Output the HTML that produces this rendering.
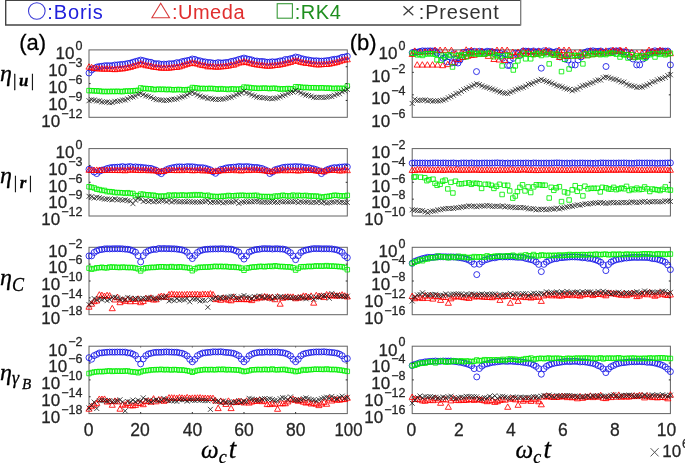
<!DOCTYPE html>
<html><head><meta charset="utf-8"><style>
html,body{margin:0;padding:0;background:#fff;}
svg{display:block;will-change:transform;}
text{font-family:"Liberation Sans",sans-serif;fill:#262626;}
text.t{stroke:#262626;stroke-width:0.28;}
text.m{font-family:"Liberation Serif",serif;font-style:italic;stroke:#000;stroke-width:0.3;}
</style></head><body>
<svg width="685" height="463" viewBox="0 0 685 463">
<rect width="685" height="463" fill="#fff"/>
<path d="M520.7,0.3H5.7V24.95H520.7" fill="none" stroke="#444" stroke-width="1.4"/>
<path d="M520.7,0V25.6" fill="none" stroke="#7a7a7a" stroke-width="1.3"/>
<circle cx="36.8" cy="11" r="8.3" fill="none" stroke="#3b3bd6" stroke-width="1.1"/>
<path d="M160.7,3.3L169.5,17.8H151.9Z" fill="none" stroke="#d83a3a" stroke-width="1.1"/>
<rect x="277.2" y="3.7" width="15.2" height="14.5" fill="none" stroke="#3a9a3a" stroke-width="1.1"/>
<path d="M403.5,6.3L413.3,15.3M413.3,6.3L403.5,15.3" fill="none" stroke="#3a3a3a" stroke-width="1.2"/>
<text x="47.3" y="18.6" font-size="20" style="fill:#2020dc" textLength="55.5" lengthAdjust="spacing">:Boris</text>
<text x="171.9" y="18.6" font-size="20" style="fill:#e02e2e" textLength="72.6" lengthAdjust="spacing">:Umeda</text>
<text x="294.8" y="18.6" font-size="20" style="fill:#1f8f1f" textLength="46.0" lengthAdjust="spacing">:RK4</text>
<text x="418.8" y="18.6" font-size="20" style="fill:#333" textLength="80.0" lengthAdjust="spacing">:Present</text>
<rect x="89" y="49.9" width="258.3" height="67.4" fill="none" stroke="#626262" stroke-width="1"/>
<rect x="89" y="148.6" width="258.3" height="67.4" fill="none" stroke="#626262" stroke-width="1"/>
<rect x="89" y="247.3" width="258.3" height="67.4" fill="none" stroke="#626262" stroke-width="1"/>
<rect x="89" y="346.2" width="258.3" height="67.4" fill="none" stroke="#626262" stroke-width="1"/>
<rect x="412.2" y="49.9" width="258.2" height="67.4" fill="none" stroke="#626262" stroke-width="1"/>
<rect x="412.2" y="148.6" width="258.2" height="67.4" fill="none" stroke="#626262" stroke-width="1"/>
<rect x="412.2" y="247.3" width="258.2" height="67.4" fill="none" stroke="#626262" stroke-width="1"/>
<rect x="412.2" y="346.2" width="258.2" height="67.4" fill="none" stroke="#626262" stroke-width="1"/>
<path d="M86,72.98a3,3 0 1 0 6 0a3,3 0 1 0 -6 0M88.58,70.01a3,3 0 1 0 6 0a3,3 0 1 0 -6 0M91.17,68.4a3,3 0 1 0 6 0a3,3 0 1 0 -6 0M93.75,67.1a3,3 0 1 0 6 0a3,3 0 1 0 -6 0M96.33,66.49a3,3 0 1 0 6 0a3,3 0 1 0 -6 0M98.91,66.24a3,3 0 1 0 6 0a3,3 0 1 0 -6 0M101.5,65.77a3,3 0 1 0 6 0a3,3 0 1 0 -6 0M104.08,65.65a3,3 0 1 0 6 0a3,3 0 1 0 -6 0M106.66,65.74a3,3 0 1 0 6 0a3,3 0 1 0 -6 0M109.25,65.67a3,3 0 1 0 6 0a3,3 0 1 0 -6 0M111.83,64.99a3,3 0 1 0 6 0a3,3 0 1 0 -6 0M114.41,64.95a3,3 0 1 0 6 0a3,3 0 1 0 -6 0M117,64.6a3,3 0 1 0 6 0a3,3 0 1 0 -6 0M119.58,64.4a3,3 0 1 0 6 0a3,3 0 1 0 -6 0M122.16,64.13a3,3 0 1 0 6 0a3,3 0 1 0 -6 0M124.75,63.51a3,3 0 1 0 6 0a3,3 0 1 0 -6 0M127.33,63.15a3,3 0 1 0 6 0a3,3 0 1 0 -6 0M129.91,62.27a3,3 0 1 0 6 0a3,3 0 1 0 -6 0M132.49,61.48a3,3 0 1 0 6 0a3,3 0 1 0 -6 0M135.08,60.85a3,3 0 1 0 6 0a3,3 0 1 0 -6 0M137.66,60.07a3,3 0 1 0 6 0a3,3 0 1 0 -6 0M140.24,60.63a3,3 0 1 0 6 0a3,3 0 1 0 -6 0M142.83,61.37a3,3 0 1 0 6 0a3,3 0 1 0 -6 0M145.41,62.03a3,3 0 1 0 6 0a3,3 0 1 0 -6 0M147.99,62.27a3,3 0 1 0 6 0a3,3 0 1 0 -6 0M150.57,63.47a3,3 0 1 0 6 0a3,3 0 1 0 -6 0M153.16,63.77a3,3 0 1 0 6 0a3,3 0 1 0 -6 0M155.74,63.72a3,3 0 1 0 6 0a3,3 0 1 0 -6 0M158.32,64.45a3,3 0 1 0 6 0a3,3 0 1 0 -6 0M160.91,64.1a3,3 0 1 0 6 0a3,3 0 1 0 -6 0M163.49,64.34a3,3 0 1 0 6 0a3,3 0 1 0 -6 0M166.07,63.75a3,3 0 1 0 6 0a3,3 0 1 0 -6 0M168.66,63.82a3,3 0 1 0 6 0a3,3 0 1 0 -6 0M171.24,63.54a3,3 0 1 0 6 0a3,3 0 1 0 -6 0M173.82,62.68a3,3 0 1 0 6 0a3,3 0 1 0 -6 0M176.41,62.75a3,3 0 1 0 6 0a3,3 0 1 0 -6 0M178.99,61.66a3,3 0 1 0 6 0a3,3 0 1 0 -6 0M181.57,61.14a3,3 0 1 0 6 0a3,3 0 1 0 -6 0M184.15,60.62a3,3 0 1 0 6 0a3,3 0 1 0 -6 0M186.74,60.1a3,3 0 1 0 6 0a3,3 0 1 0 -6 0M189.32,59.01a3,3 0 1 0 6 0a3,3 0 1 0 -6 0M191.9,59.39a3,3 0 1 0 6 0a3,3 0 1 0 -6 0M194.49,60.44a3,3 0 1 0 6 0a3,3 0 1 0 -6 0M197.07,60.86a3,3 0 1 0 6 0a3,3 0 1 0 -6 0M199.65,61.64a3,3 0 1 0 6 0a3,3 0 1 0 -6 0M202.24,61.93a3,3 0 1 0 6 0a3,3 0 1 0 -6 0M204.82,62.52a3,3 0 1 0 6 0a3,3 0 1 0 -6 0M207.4,62.52a3,3 0 1 0 6 0a3,3 0 1 0 -6 0M209.98,63.08a3,3 0 1 0 6 0a3,3 0 1 0 -6 0M212.57,63.34a3,3 0 1 0 6 0a3,3 0 1 0 -6 0M215.15,62.6a3,3 0 1 0 6 0a3,3 0 1 0 -6 0M217.73,62.94a3,3 0 1 0 6 0a3,3 0 1 0 -6 0M220.32,62.9a3,3 0 1 0 6 0a3,3 0 1 0 -6 0M222.9,62.49a3,3 0 1 0 6 0a3,3 0 1 0 -6 0M225.48,62.42a3,3 0 1 0 6 0a3,3 0 1 0 -6 0M228.06,61.49a3,3 0 1 0 6 0a3,3 0 1 0 -6 0M230.65,61.03a3,3 0 1 0 6 0a3,3 0 1 0 -6 0M233.23,60.41a3,3 0 1 0 6 0a3,3 0 1 0 -6 0M235.81,59.48a3,3 0 1 0 6 0a3,3 0 1 0 -6 0M238.4,58.83a3,3 0 1 0 6 0a3,3 0 1 0 -6 0M240.98,58.07a3,3 0 1 0 6 0a3,3 0 1 0 -6 0M243.56,58.81a3,3 0 1 0 6 0a3,3 0 1 0 -6 0M246.15,59.37a3,3 0 1 0 6 0a3,3 0 1 0 -6 0M248.73,59.91a3,3 0 1 0 6 0a3,3 0 1 0 -6 0M251.31,60.99a3,3 0 1 0 6 0a3,3 0 1 0 -6 0M253.89,61.02a3,3 0 1 0 6 0a3,3 0 1 0 -6 0M256.48,61.52a3,3 0 1 0 6 0a3,3 0 1 0 -6 0M259.06,61.43a3,3 0 1 0 6 0a3,3 0 1 0 -6 0M261.64,61.78a3,3 0 1 0 6 0a3,3 0 1 0 -6 0M264.23,62.32a3,3 0 1 0 6 0a3,3 0 1 0 -6 0M266.81,62.12a3,3 0 1 0 6 0a3,3 0 1 0 -6 0M269.39,61.77a3,3 0 1 0 6 0a3,3 0 1 0 -6 0M271.98,62.04a3,3 0 1 0 6 0a3,3 0 1 0 -6 0M274.56,61.57a3,3 0 1 0 6 0a3,3 0 1 0 -6 0M277.14,60.91a3,3 0 1 0 6 0a3,3 0 1 0 -6 0M279.73,60.78a3,3 0 1 0 6 0a3,3 0 1 0 -6 0M282.31,59.51a3,3 0 1 0 6 0a3,3 0 1 0 -6 0M284.89,59.53a3,3 0 1 0 6 0a3,3 0 1 0 -6 0M287.47,58.69a3,3 0 1 0 6 0a3,3 0 1 0 -6 0M290.06,58.18a3,3 0 1 0 6 0a3,3 0 1 0 -6 0M292.64,57.02a3,3 0 1 0 6 0a3,3 0 1 0 -6 0M295.22,57.51a3,3 0 1 0 6 0a3,3 0 1 0 -6 0M297.81,58.5a3,3 0 1 0 6 0a3,3 0 1 0 -6 0M300.39,59.05a3,3 0 1 0 6 0a3,3 0 1 0 -6 0M302.97,59.69a3,3 0 1 0 6 0a3,3 0 1 0 -6 0M305.56,60a3,3 0 1 0 6 0a3,3 0 1 0 -6 0M308.14,60.53a3,3 0 1 0 6 0a3,3 0 1 0 -6 0M310.72,60.9a3,3 0 1 0 6 0a3,3 0 1 0 -6 0M313.3,60.74a3,3 0 1 0 6 0a3,3 0 1 0 -6 0M315.89,61.04a3,3 0 1 0 6 0a3,3 0 1 0 -6 0M318.47,61.12a3,3 0 1 0 6 0a3,3 0 1 0 -6 0M321.05,60.99a3,3 0 1 0 6 0a3,3 0 1 0 -6 0M323.64,60.65a3,3 0 1 0 6 0a3,3 0 1 0 -6 0M326.22,60.46a3,3 0 1 0 6 0a3,3 0 1 0 -6 0M328.8,59.76a3,3 0 1 0 6 0a3,3 0 1 0 -6 0M331.38,59.31a3,3 0 1 0 6 0a3,3 0 1 0 -6 0M333.97,59.14a3,3 0 1 0 6 0a3,3 0 1 0 -6 0M336.55,58.43a3,3 0 1 0 6 0a3,3 0 1 0 -6 0M339.13,57.3a3,3 0 1 0 6 0a3,3 0 1 0 -6 0M341.72,57.05a3,3 0 1 0 6 0a3,3 0 1 0 -6 0M344.3,56.3a3,3 0 1 0 6 0a3,3 0 1 0 -6 0" fill="none" stroke="#1414e6" stroke-width="0.85"/>
<path d="M89,63.74l3.05,5.4h-6.1zM91.58,64.27l3.05,5.4h-6.1zM94.17,65.11l3.05,5.4h-6.1zM96.75,65.33l3.05,5.4h-6.1zM99.33,65.63l3.05,5.4h-6.1zM101.91,65.58l3.05,5.4h-6.1zM104.5,65.84l3.05,5.4h-6.1zM107.08,65.74l3.05,5.4h-6.1zM109.66,65.7l3.05,5.4h-6.1zM112.25,66l3.05,5.4h-6.1zM114.83,66.28l3.05,5.4h-6.1zM117.41,65.9l3.05,5.4h-6.1zM120,65.56l3.05,5.4h-6.1zM122.58,65.58l3.05,5.4h-6.1zM125.16,65.02l3.05,5.4h-6.1zM127.75,64.48l3.05,5.4h-6.1zM130.33,64.01l3.05,5.4h-6.1zM132.91,63.08l3.05,5.4h-6.1zM135.49,62.4l3.05,5.4h-6.1zM138.08,61.65l3.05,5.4h-6.1zM140.66,60.59l3.05,5.4h-6.1zM143.24,61.33l3.05,5.4h-6.1zM145.83,62.31l3.05,5.4h-6.1zM148.41,62.6l3.05,5.4h-6.1zM150.99,63.01l3.05,5.4h-6.1zM153.57,63.85l3.05,5.4h-6.1zM156.16,64.09l3.05,5.4h-6.1zM158.74,64.4l3.05,5.4h-6.1zM161.32,64.89l3.05,5.4h-6.1zM163.91,64.66l3.05,5.4h-6.1zM166.49,64.9l3.05,5.4h-6.1zM169.07,64.76l3.05,5.4h-6.1zM171.66,64.52l3.05,5.4h-6.1zM174.24,64.01l3.05,5.4h-6.1zM176.82,64.01l3.05,5.4h-6.1zM179.41,63.55l3.05,5.4h-6.1zM181.99,62.67l3.05,5.4h-6.1zM184.57,61.82l3.05,5.4h-6.1zM187.15,60.96l3.05,5.4h-6.1zM189.74,60.21l3.05,5.4h-6.1zM192.32,59.6l3.05,5.4h-6.1zM194.9,60.23l3.05,5.4h-6.1zM197.49,60.69l3.05,5.4h-6.1zM200.07,61.55l3.05,5.4h-6.1zM202.65,62.19l3.05,5.4h-6.1zM205.24,62.4l3.05,5.4h-6.1zM207.82,63.46l3.05,5.4h-6.1zM210.4,63.3l3.05,5.4h-6.1zM212.98,63.4l3.05,5.4h-6.1zM215.57,63.82l3.05,5.4h-6.1zM218.15,63.75l3.05,5.4h-6.1zM220.73,63.56l3.05,5.4h-6.1zM223.32,63.35l3.05,5.4h-6.1zM225.9,62.98l3.05,5.4h-6.1zM228.48,62.7l3.05,5.4h-6.1zM231.06,61.83l3.05,5.4h-6.1zM233.65,61.8l3.05,5.4h-6.1zM236.23,60.69l3.05,5.4h-6.1zM238.81,59.62l3.05,5.4h-6.1zM241.4,59.36l3.05,5.4h-6.1zM243.98,58.48l3.05,5.4h-6.1zM246.56,59.11l3.05,5.4h-6.1zM249.15,59.71l3.05,5.4h-6.1zM251.73,60.44l3.05,5.4h-6.1zM254.31,61.07l3.05,5.4h-6.1zM256.89,61.57l3.05,5.4h-6.1zM259.48,61.81l3.05,5.4h-6.1zM262.06,62.24l3.05,5.4h-6.1zM264.64,62.52l3.05,5.4h-6.1zM267.23,62.8l3.05,5.4h-6.1zM269.81,62.78l3.05,5.4h-6.1zM272.39,62.56l3.05,5.4h-6.1zM274.98,62.1l3.05,5.4h-6.1zM277.56,61.9l3.05,5.4h-6.1zM280.14,61.53l3.05,5.4h-6.1zM282.73,61.02l3.05,5.4h-6.1zM285.31,60.37l3.05,5.4h-6.1zM287.89,59.67l3.05,5.4h-6.1zM290.47,59.1l3.05,5.4h-6.1zM293.06,57.71l3.05,5.4h-6.1zM295.64,57.68l3.05,5.4h-6.1zM298.22,57.86l3.05,5.4h-6.1zM300.81,59l3.05,5.4h-6.1zM303.39,59.46l3.05,5.4h-6.1zM305.97,59.97l3.05,5.4h-6.1zM308.56,60.08l3.05,5.4h-6.1zM311.14,60.7l3.05,5.4h-6.1zM313.72,60.92l3.05,5.4h-6.1zM316.3,61.49l3.05,5.4h-6.1zM318.89,61.49l3.05,5.4h-6.1zM321.47,61.36l3.05,5.4h-6.1zM324.05,61.1l3.05,5.4h-6.1zM326.64,61.07l3.05,5.4h-6.1zM329.22,60.8l3.05,5.4h-6.1zM331.8,60.21l3.05,5.4h-6.1zM334.38,59.74l3.05,5.4h-6.1zM336.97,59.17l3.05,5.4h-6.1zM339.55,58.24l3.05,5.4h-6.1zM342.13,57.36l3.05,5.4h-6.1zM344.72,56.69l3.05,5.4h-6.1zM347.3,56.39l3.05,5.4h-6.1z" fill="none" stroke="#ff0000" stroke-width="0.85"/>
<path d="M86.75,88.33h4.5v4.5h-4.5zM89.33,88.45h4.5v4.5h-4.5zM91.92,88.55h4.5v4.5h-4.5zM94.5,88.75h4.5v4.5h-4.5zM97.08,88.71h4.5v4.5h-4.5zM99.66,89.28h4.5v4.5h-4.5zM102.25,89.21h4.5v4.5h-4.5zM104.83,89.27h4.5v4.5h-4.5zM107.41,89.22h4.5v4.5h-4.5zM110,89.17h4.5v4.5h-4.5zM112.58,89.22h4.5v4.5h-4.5zM115.16,89.07h4.5v4.5h-4.5zM117.75,89.25h4.5v4.5h-4.5zM120.33,89.38h4.5v4.5h-4.5zM122.91,88.8h4.5v4.5h-4.5zM125.5,88.86h4.5v4.5h-4.5zM128.08,88.78h4.5v4.5h-4.5zM130.66,88.56h4.5v4.5h-4.5zM133.24,88.39h4.5v4.5h-4.5zM135.83,88.14h4.5v4.5h-4.5zM138.41,85.67h4.5v4.5h-4.5zM140.99,86.22h4.5v4.5h-4.5zM143.58,86.28h4.5v4.5h-4.5zM146.16,86.57h4.5v4.5h-4.5zM148.74,86.56h4.5v4.5h-4.5zM151.32,87.31h4.5v4.5h-4.5zM153.91,87.26h4.5v4.5h-4.5zM156.49,86.88h4.5v4.5h-4.5zM159.07,87.21h4.5v4.5h-4.5zM161.66,86.93h4.5v4.5h-4.5zM164.24,87.4h4.5v4.5h-4.5zM166.82,87.07h4.5v4.5h-4.5zM169.41,87.41h4.5v4.5h-4.5zM171.99,87.54h4.5v4.5h-4.5zM174.57,87.31h4.5v4.5h-4.5zM177.16,87.28h4.5v4.5h-4.5zM179.74,87.44h4.5v4.5h-4.5zM182.32,87.66h4.5v4.5h-4.5zM184.9,87.37h4.5v4.5h-4.5zM187.49,87.08h4.5v4.5h-4.5zM190.07,85.28h4.5v4.5h-4.5zM192.65,85.56h4.5v4.5h-4.5zM195.24,85.75h4.5v4.5h-4.5zM197.82,86.46h4.5v4.5h-4.5zM200.4,86.11h4.5v4.5h-4.5zM202.99,86.42h4.5v4.5h-4.5zM205.57,86.25h4.5v4.5h-4.5zM208.15,86.2h4.5v4.5h-4.5zM210.73,86.29h4.5v4.5h-4.5zM213.32,86.53h4.5v4.5h-4.5zM215.9,86.99h4.5v4.5h-4.5zM218.48,86.42h4.5v4.5h-4.5zM221.07,86.83h4.5v4.5h-4.5zM223.65,86.86h4.5v4.5h-4.5zM226.23,87.23h4.5v4.5h-4.5zM228.81,86.64h4.5v4.5h-4.5zM231.4,86.75h4.5v4.5h-4.5zM233.98,87.04h4.5v4.5h-4.5zM236.56,86.82h4.5v4.5h-4.5zM239.15,86.71h4.5v4.5h-4.5zM241.73,84.85h4.5v4.5h-4.5zM244.31,85.11h4.5v4.5h-4.5zM246.9,85.17h4.5v4.5h-4.5zM249.48,85.71h4.5v4.5h-4.5zM252.06,85.8h4.5v4.5h-4.5zM254.64,86.08h4.5v4.5h-4.5zM257.23,86.12h4.5v4.5h-4.5zM259.81,85.99h4.5v4.5h-4.5zM262.39,85.86h4.5v4.5h-4.5zM264.98,86.07h4.5v4.5h-4.5zM267.56,86.34h4.5v4.5h-4.5zM270.14,86.04h4.5v4.5h-4.5zM272.73,86.03h4.5v4.5h-4.5zM275.31,86.35h4.5v4.5h-4.5zM277.89,86.88h4.5v4.5h-4.5zM280.48,86.5h4.5v4.5h-4.5zM283.06,86.69h4.5v4.5h-4.5zM285.64,86.27h4.5v4.5h-4.5zM288.22,86.54h4.5v4.5h-4.5zM290.81,86.73h4.5v4.5h-4.5zM293.39,84.49h4.5v4.5h-4.5zM295.97,84.61h4.5v4.5h-4.5zM298.56,84.87h4.5v4.5h-4.5zM301.14,85.28h4.5v4.5h-4.5zM303.72,85.2h4.5v4.5h-4.5zM306.31,85.44h4.5v4.5h-4.5zM308.89,85.52h4.5v4.5h-4.5zM311.47,85.44h4.5v4.5h-4.5zM314.05,85.65h4.5v4.5h-4.5zM316.64,85.74h4.5v4.5h-4.5zM319.22,85.49h4.5v4.5h-4.5zM321.8,85.73h4.5v4.5h-4.5zM324.39,85.95h4.5v4.5h-4.5zM326.97,85.77h4.5v4.5h-4.5zM329.55,86.16h4.5v4.5h-4.5zM332.13,86.19h4.5v4.5h-4.5zM334.72,85.95h4.5v4.5h-4.5zM337.3,86.17h4.5v4.5h-4.5zM339.88,86.07h4.5v4.5h-4.5zM342.47,86.21h4.5v4.5h-4.5zM345.05,83.77h4.5v4.5h-4.5z" fill="none" stroke="#00ee00" stroke-width="0.85"/>
<path d="M86.5,98.22l5,5m0,-5l-5,5M89.08,97.21l5,5m0,-5l-5,5M91.67,97.51l5,5m0,-5l-5,5M94.25,98.44l5,5m0,-5l-5,5M96.83,98.34l5,5m0,-5l-5,5M99.41,99.45l5,5m0,-5l-5,5M102,99.48l5,5m0,-5l-5,5M104.58,99.47l5,5m0,-5l-5,5M107.16,100.2l5,5m0,-5l-5,5M109.75,100.06l5,5m0,-5l-5,5M112.33,98.79l5,5m0,-5l-5,5M114.91,98.89l5,5m0,-5l-5,5M117.5,98.32l5,5m0,-5l-5,5M120.08,97.5l5,5m0,-5l-5,5M122.66,97.47l5,5m0,-5l-5,5M125.25,96.38l5,5m0,-5l-5,5M127.83,94.94l5,5m0,-5l-5,5M130.41,94.42l5,5m0,-5l-5,5M132.99,93.57l5,5m0,-5l-5,5M135.58,91.87l5,5m0,-5l-5,5M138.16,91.06l5,5m0,-5l-5,5M140.74,92.27l5,5m0,-5l-5,5M143.33,93.29l5,5m0,-5l-5,5M145.91,93.85l5,5m0,-5l-5,5M148.49,94.73l5,5m0,-5l-5,5M151.07,96.02l5,5m0,-5l-5,5M153.66,97.1l5,5m0,-5l-5,5M156.24,97.25l5,5m0,-5l-5,5M158.82,97.48l5,5m0,-5l-5,5M161.41,98.06l5,5m0,-5l-5,5M163.99,97.94l5,5m0,-5l-5,5M166.57,97.5l5,5m0,-5l-5,5M169.16,96.86l5,5m0,-5l-5,5M171.74,96.77l5,5m0,-5l-5,5M174.32,96.47l5,5m0,-5l-5,5M176.91,95.31l5,5m0,-5l-5,5M179.49,94.36l5,5m0,-5l-5,5M182.07,93.72l5,5m0,-5l-5,5M184.65,92.42l5,5m0,-5l-5,5M187.24,90.9l5,5m0,-5l-5,5M189.82,89.75l5,5m0,-5l-5,5M192.4,90.9l5,5m0,-5l-5,5M194.99,92.42l5,5m0,-5l-5,5M197.57,93.55l5,5m0,-5l-5,5M200.15,94.56l5,5m0,-5l-5,5M202.74,94.69l5,5m0,-5l-5,5M205.32,96.06l5,5m0,-5l-5,5M207.9,95.71l5,5m0,-5l-5,5M210.48,96.44l5,5m0,-5l-5,5M213.07,96.98l5,5m0,-5l-5,5M215.65,96.82l5,5m0,-5l-5,5M218.23,96.79l5,5m0,-5l-5,5M220.82,96.53l5,5m0,-5l-5,5M223.4,96.02l5,5m0,-5l-5,5M225.98,95.14l5,5m0,-5l-5,5M228.56,94.75l5,5m0,-5l-5,5M231.15,93.57l5,5m0,-5l-5,5M233.73,92.2l5,5m0,-5l-5,5M236.31,91.39l5,5m0,-5l-5,5M238.9,90.41l5,5m0,-5l-5,5M241.48,88.64l5,5m0,-5l-5,5M244.06,90.32l5,5m0,-5l-5,5M246.65,91.04l5,5m0,-5l-5,5M249.23,92.42l5,5m0,-5l-5,5M251.81,93.33l5,5m0,-5l-5,5M254.39,94.52l5,5m0,-5l-5,5M256.98,94.92l5,5m0,-5l-5,5M259.56,95.15l5,5m0,-5l-5,5M262.14,95.29l5,5m0,-5l-5,5M264.73,96.01l5,5m0,-5l-5,5M267.31,95.87l5,5m0,-5l-5,5M269.89,96.29l5,5m0,-5l-5,5M272.48,95.74l5,5m0,-5l-5,5M275.06,95.34l5,5m0,-5l-5,5M277.64,94.4l5,5m0,-5l-5,5M280.23,93.22l5,5m0,-5l-5,5M282.81,92.42l5,5m0,-5l-5,5M285.39,91.05l5,5m0,-5l-5,5M287.97,89.98l5,5m0,-5l-5,5M290.56,89.53l5,5m0,-5l-5,5M293.14,88.01l5,5m0,-5l-5,5M295.72,89.15l5,5m0,-5l-5,5M298.31,90.33l5,5m0,-5l-5,5M300.89,91.55l5,5m0,-5l-5,5M303.47,92.49l5,5m0,-5l-5,5M306.06,92.98l5,5m0,-5l-5,5M308.64,93.66l5,5m0,-5l-5,5M311.22,94.77l5,5m0,-5l-5,5M313.8,95.07l5,5m0,-5l-5,5M316.39,94.86l5,5m0,-5l-5,5M318.97,94.76l5,5m0,-5l-5,5M321.55,95.06l5,5m0,-5l-5,5M324.14,94.77l5,5m0,-5l-5,5M326.72,94.05l5,5m0,-5l-5,5M329.3,94.04l5,5m0,-5l-5,5M331.88,92.72l5,5m0,-5l-5,5M334.47,91.66l5,5m0,-5l-5,5M337.05,91.26l5,5m0,-5l-5,5M339.63,89.26l5,5m0,-5l-5,5M342.22,88.38l5,5m0,-5l-5,5M344.8,86.89l5,5m0,-5l-5,5" fill="none" stroke="#1a1a1a" stroke-width="0.8"/>
<path d="M86,169.34a3,3 0 1 0 6 0a3,3 0 1 0 -6 0M88.58,169.95a3,3 0 1 0 6 0a3,3 0 1 0 -6 0M91.17,172a3,3 0 1 0 6 0a3,3 0 1 0 -6 0M93.75,173.57a3,3 0 1 0 6 0a3,3 0 1 0 -6 0M96.33,171.23a3,3 0 1 0 6 0a3,3 0 1 0 -6 0M98.91,170.15a3,3 0 1 0 6 0a3,3 0 1 0 -6 0M101.5,169.58a3,3 0 1 0 6 0a3,3 0 1 0 -6 0M104.08,168.55a3,3 0 1 0 6 0a3,3 0 1 0 -6 0M106.66,167.91a3,3 0 1 0 6 0a3,3 0 1 0 -6 0M109.25,167.45a3,3 0 1 0 6 0a3,3 0 1 0 -6 0M111.83,167.3a3,3 0 1 0 6 0a3,3 0 1 0 -6 0M114.41,167.18a3,3 0 1 0 6 0a3,3 0 1 0 -6 0M117,167.02a3,3 0 1 0 6 0a3,3 0 1 0 -6 0M119.58,166.58a3,3 0 1 0 6 0a3,3 0 1 0 -6 0M122.16,167.19a3,3 0 1 0 6 0a3,3 0 1 0 -6 0M124.75,166.85a3,3 0 1 0 6 0a3,3 0 1 0 -6 0M127.33,166.52a3,3 0 1 0 6 0a3,3 0 1 0 -6 0M129.91,167.22a3,3 0 1 0 6 0a3,3 0 1 0 -6 0M132.49,166.86a3,3 0 1 0 6 0a3,3 0 1 0 -6 0M135.08,167.18a3,3 0 1 0 6 0a3,3 0 1 0 -6 0M137.66,167.3a3,3 0 1 0 6 0a3,3 0 1 0 -6 0M140.24,167.64a3,3 0 1 0 6 0a3,3 0 1 0 -6 0M142.83,167.87a3,3 0 1 0 6 0a3,3 0 1 0 -6 0M145.41,168.19a3,3 0 1 0 6 0a3,3 0 1 0 -6 0M147.99,168.39a3,3 0 1 0 6 0a3,3 0 1 0 -6 0M150.57,169.36a3,3 0 1 0 6 0a3,3 0 1 0 -6 0M153.16,170.22a3,3 0 1 0 6 0a3,3 0 1 0 -6 0M155.74,172.08a3,3 0 1 0 6 0a3,3 0 1 0 -6 0M158.32,173.64a3,3 0 1 0 6 0a3,3 0 1 0 -6 0M160.91,171.21a3,3 0 1 0 6 0a3,3 0 1 0 -6 0M163.49,169.73a3,3 0 1 0 6 0a3,3 0 1 0 -6 0M166.07,168.68a3,3 0 1 0 6 0a3,3 0 1 0 -6 0M168.66,168.03a3,3 0 1 0 6 0a3,3 0 1 0 -6 0M171.24,167.46a3,3 0 1 0 6 0a3,3 0 1 0 -6 0M173.82,166.98a3,3 0 1 0 6 0a3,3 0 1 0 -6 0M176.41,166.85a3,3 0 1 0 6 0a3,3 0 1 0 -6 0M178.99,166.94a3,3 0 1 0 6 0a3,3 0 1 0 -6 0M181.57,167.16a3,3 0 1 0 6 0a3,3 0 1 0 -6 0M184.15,166.61a3,3 0 1 0 6 0a3,3 0 1 0 -6 0M186.74,166.79a3,3 0 1 0 6 0a3,3 0 1 0 -6 0M189.32,166.77a3,3 0 1 0 6 0a3,3 0 1 0 -6 0M191.9,167.08a3,3 0 1 0 6 0a3,3 0 1 0 -6 0M194.49,167.55a3,3 0 1 0 6 0a3,3 0 1 0 -6 0M197.07,167.72a3,3 0 1 0 6 0a3,3 0 1 0 -6 0M199.65,167.73a3,3 0 1 0 6 0a3,3 0 1 0 -6 0M202.24,168.2a3,3 0 1 0 6 0a3,3 0 1 0 -6 0M204.82,169.02a3,3 0 1 0 6 0a3,3 0 1 0 -6 0M207.4,169.89a3,3 0 1 0 6 0a3,3 0 1 0 -6 0M209.98,171.82a3,3 0 1 0 6 0a3,3 0 1 0 -6 0M212.57,173.3a3,3 0 1 0 6 0a3,3 0 1 0 -6 0M215.15,171.1a3,3 0 1 0 6 0a3,3 0 1 0 -6 0M217.73,169.39a3,3 0 1 0 6 0a3,3 0 1 0 -6 0M220.32,169.03a3,3 0 1 0 6 0a3,3 0 1 0 -6 0M222.9,168.04a3,3 0 1 0 6 0a3,3 0 1 0 -6 0M225.48,167.6a3,3 0 1 0 6 0a3,3 0 1 0 -6 0M228.06,167.41a3,3 0 1 0 6 0a3,3 0 1 0 -6 0M230.65,167.13a3,3 0 1 0 6 0a3,3 0 1 0 -6 0M233.23,167.07a3,3 0 1 0 6 0a3,3 0 1 0 -6 0M235.81,166.5a3,3 0 1 0 6 0a3,3 0 1 0 -6 0M238.4,166.76a3,3 0 1 0 6 0a3,3 0 1 0 -6 0M240.98,166.79a3,3 0 1 0 6 0a3,3 0 1 0 -6 0M243.56,166.58a3,3 0 1 0 6 0a3,3 0 1 0 -6 0M246.15,166.82a3,3 0 1 0 6 0a3,3 0 1 0 -6 0M248.73,167.21a3,3 0 1 0 6 0a3,3 0 1 0 -6 0M251.31,167.47a3,3 0 1 0 6 0a3,3 0 1 0 -6 0M253.89,167.42a3,3 0 1 0 6 0a3,3 0 1 0 -6 0M256.48,168a3,3 0 1 0 6 0a3,3 0 1 0 -6 0M259.06,168.51a3,3 0 1 0 6 0a3,3 0 1 0 -6 0M261.64,169.66a3,3 0 1 0 6 0a3,3 0 1 0 -6 0M264.23,170.78a3,3 0 1 0 6 0a3,3 0 1 0 -6 0M266.81,173.51a3,3 0 1 0 6 0a3,3 0 1 0 -6 0M269.39,172.03a3,3 0 1 0 6 0a3,3 0 1 0 -6 0M271.98,169.83a3,3 0 1 0 6 0a3,3 0 1 0 -6 0M274.56,169.02a3,3 0 1 0 6 0a3,3 0 1 0 -6 0M277.14,168.44a3,3 0 1 0 6 0a3,3 0 1 0 -6 0M279.73,167.52a3,3 0 1 0 6 0a3,3 0 1 0 -6 0M282.31,167.2a3,3 0 1 0 6 0a3,3 0 1 0 -6 0M284.89,166.97a3,3 0 1 0 6 0a3,3 0 1 0 -6 0M287.47,166.85a3,3 0 1 0 6 0a3,3 0 1 0 -6 0M290.06,166.85a3,3 0 1 0 6 0a3,3 0 1 0 -6 0M292.64,166.54a3,3 0 1 0 6 0a3,3 0 1 0 -6 0M295.22,166.86a3,3 0 1 0 6 0a3,3 0 1 0 -6 0M297.81,166.77a3,3 0 1 0 6 0a3,3 0 1 0 -6 0M300.39,167.25a3,3 0 1 0 6 0a3,3 0 1 0 -6 0M302.97,167.72a3,3 0 1 0 6 0a3,3 0 1 0 -6 0M305.56,167.59a3,3 0 1 0 6 0a3,3 0 1 0 -6 0M308.14,168.46a3,3 0 1 0 6 0a3,3 0 1 0 -6 0M310.72,168.86a3,3 0 1 0 6 0a3,3 0 1 0 -6 0M313.3,169.63a3,3 0 1 0 6 0a3,3 0 1 0 -6 0M315.89,170.72a3,3 0 1 0 6 0a3,3 0 1 0 -6 0M318.47,173.57a3,3 0 1 0 6 0a3,3 0 1 0 -6 0M321.05,171.44a3,3 0 1 0 6 0a3,3 0 1 0 -6 0M323.64,169.97a3,3 0 1 0 6 0a3,3 0 1 0 -6 0M326.22,169.01a3,3 0 1 0 6 0a3,3 0 1 0 -6 0M328.8,168.19a3,3 0 1 0 6 0a3,3 0 1 0 -6 0M331.38,167.6a3,3 0 1 0 6 0a3,3 0 1 0 -6 0M333.97,167.83a3,3 0 1 0 6 0a3,3 0 1 0 -6 0M336.55,167.14a3,3 0 1 0 6 0a3,3 0 1 0 -6 0M339.13,167.07a3,3 0 1 0 6 0a3,3 0 1 0 -6 0M341.72,166.75a3,3 0 1 0 6 0a3,3 0 1 0 -6 0M344.3,166.88a3,3 0 1 0 6 0a3,3 0 1 0 -6 0" fill="none" stroke="#1414e6" stroke-width="0.85"/>
<path d="M89,166.88l3.05,5.4h-6.1zM91.58,167.13l3.05,5.4h-6.1zM94.17,167.06l3.05,5.4h-6.1zM96.75,166.93l3.05,5.4h-6.1zM99.33,166.97l3.05,5.4h-6.1zM101.91,167.06l3.05,5.4h-6.1zM104.5,167.05l3.05,5.4h-6.1zM107.08,167.02l3.05,5.4h-6.1zM109.66,166.99l3.05,5.4h-6.1zM112.25,166.99l3.05,5.4h-6.1zM114.83,167.14l3.05,5.4h-6.1zM117.41,166.97l3.05,5.4h-6.1zM120,167.22l3.05,5.4h-6.1zM122.58,166.94l3.05,5.4h-6.1zM125.16,167.4l3.05,5.4h-6.1zM127.75,166.87l3.05,5.4h-6.1zM130.33,166.74l3.05,5.4h-6.1zM132.91,166.52l3.05,5.4h-6.1zM135.49,167.01l3.05,5.4h-6.1zM138.08,166.96l3.05,5.4h-6.1zM140.66,167.19l3.05,5.4h-6.1zM143.24,166.99l3.05,5.4h-6.1zM145.83,166.84l3.05,5.4h-6.1zM148.41,167.38l3.05,5.4h-6.1zM150.99,167l3.05,5.4h-6.1zM153.57,167.5l3.05,5.4h-6.1zM156.16,167.53l3.05,5.4h-6.1zM158.74,168.25l3.05,5.4h-6.1zM161.32,168.01l3.05,5.4h-6.1zM163.91,167.97l3.05,5.4h-6.1zM166.49,167.17l3.05,5.4h-6.1zM169.07,167.1l3.05,5.4h-6.1zM171.66,167.04l3.05,5.4h-6.1zM174.24,167.14l3.05,5.4h-6.1zM176.82,167.23l3.05,5.4h-6.1zM179.41,166.88l3.05,5.4h-6.1zM181.99,167.25l3.05,5.4h-6.1zM184.57,166.69l3.05,5.4h-6.1zM187.15,166.95l3.05,5.4h-6.1zM189.74,167.11l3.05,5.4h-6.1zM192.32,167.34l3.05,5.4h-6.1zM194.9,167.25l3.05,5.4h-6.1zM197.49,167.12l3.05,5.4h-6.1zM200.07,166.63l3.05,5.4h-6.1zM202.65,167.54l3.05,5.4h-6.1zM205.24,167.24l3.05,5.4h-6.1zM207.82,167.53l3.05,5.4h-6.1zM210.4,167.94l3.05,5.4h-6.1zM212.98,167.98l3.05,5.4h-6.1zM215.57,167.85l3.05,5.4h-6.1zM218.15,167.93l3.05,5.4h-6.1zM220.73,167.21l3.05,5.4h-6.1zM223.32,167.33l3.05,5.4h-6.1zM225.9,166.95l3.05,5.4h-6.1zM228.48,167.21l3.05,5.4h-6.1zM231.06,166.94l3.05,5.4h-6.1zM233.65,166.42l3.05,5.4h-6.1zM236.23,167.34l3.05,5.4h-6.1zM238.81,166.94l3.05,5.4h-6.1zM241.4,167.61l3.05,5.4h-6.1zM243.98,167.14l3.05,5.4h-6.1zM246.56,166.73l3.05,5.4h-6.1zM249.15,167.19l3.05,5.4h-6.1zM251.73,166.79l3.05,5.4h-6.1zM254.31,166.65l3.05,5.4h-6.1zM256.89,166.78l3.05,5.4h-6.1zM259.48,167.08l3.05,5.4h-6.1zM262.06,167.24l3.05,5.4h-6.1zM264.64,167.46l3.05,5.4h-6.1zM267.23,167.89l3.05,5.4h-6.1zM269.81,168.24l3.05,5.4h-6.1zM272.39,168.31l3.05,5.4h-6.1zM274.98,167.4l3.05,5.4h-6.1zM277.56,167.5l3.05,5.4h-6.1zM280.14,167.17l3.05,5.4h-6.1zM282.73,166.62l3.05,5.4h-6.1zM285.31,167.4l3.05,5.4h-6.1zM287.89,166.78l3.05,5.4h-6.1zM290.47,167.3l3.05,5.4h-6.1zM293.06,167.08l3.05,5.4h-6.1zM295.64,167.36l3.05,5.4h-6.1zM298.22,167.56l3.05,5.4h-6.1zM300.81,167.35l3.05,5.4h-6.1zM303.39,166.61l3.05,5.4h-6.1zM305.97,167.13l3.05,5.4h-6.1zM308.56,166.99l3.05,5.4h-6.1zM311.14,167.06l3.05,5.4h-6.1zM313.72,167.16l3.05,5.4h-6.1zM316.3,167.69l3.05,5.4h-6.1zM318.89,167.9l3.05,5.4h-6.1zM321.47,167.83l3.05,5.4h-6.1zM324.05,168.44l3.05,5.4h-6.1zM326.64,167.39l3.05,5.4h-6.1zM329.22,167.09l3.05,5.4h-6.1zM331.8,166.78l3.05,5.4h-6.1zM334.38,167.01l3.05,5.4h-6.1zM336.97,166.85l3.05,5.4h-6.1zM339.55,167.57l3.05,5.4h-6.1zM342.13,167.46l3.05,5.4h-6.1zM344.72,166.37l3.05,5.4h-6.1zM347.3,167.29l3.05,5.4h-6.1z" fill="none" stroke="#ff0000" stroke-width="0.85"/>
<path d="M86.75,184.51h4.5v4.5h-4.5zM89.33,184.97h4.5v4.5h-4.5zM91.92,185.69h4.5v4.5h-4.5zM94.5,186.97h4.5v4.5h-4.5zM97.08,187.39h4.5v4.5h-4.5zM99.66,188.2h4.5v4.5h-4.5zM102.25,188.18h4.5v4.5h-4.5zM104.83,189.37h4.5v4.5h-4.5zM107.41,189.4h4.5v4.5h-4.5zM110,189.6h4.5v4.5h-4.5zM112.58,190.25h4.5v4.5h-4.5zM115.16,190.32h4.5v4.5h-4.5zM117.75,190.42h4.5v4.5h-4.5zM120.33,190.5h4.5v4.5h-4.5zM122.91,191.07h4.5v4.5h-4.5zM125.5,190.44h4.5v4.5h-4.5zM128.08,191.19h4.5v4.5h-4.5zM130.66,191.2h4.5v4.5h-4.5zM133.24,193.28h4.5v4.5h-4.5zM135.83,193.49h4.5v4.5h-4.5zM138.41,191.86h4.5v4.5h-4.5zM140.99,191.98h4.5v4.5h-4.5zM143.58,192.69h4.5v4.5h-4.5zM146.16,192.47h4.5v4.5h-4.5zM148.74,193.05h4.5v4.5h-4.5zM151.32,192.93h4.5v4.5h-4.5zM153.91,193.54h4.5v4.5h-4.5zM156.49,194.29h4.5v4.5h-4.5zM159.07,193.76h4.5v4.5h-4.5zM161.66,194.03h4.5v4.5h-4.5zM164.24,193.72h4.5v4.5h-4.5zM166.82,192.74h4.5v4.5h-4.5zM169.41,193.62h4.5v4.5h-4.5zM171.99,192.71h4.5v4.5h-4.5zM174.57,193.17h4.5v4.5h-4.5zM177.16,192.98h4.5v4.5h-4.5zM179.74,192.81h4.5v4.5h-4.5zM182.32,192.92h4.5v4.5h-4.5zM184.9,193.34h4.5v4.5h-4.5zM187.49,192.68h4.5v4.5h-4.5zM190.07,193.12h4.5v4.5h-4.5zM192.65,192.4h4.5v4.5h-4.5zM195.24,192.94h4.5v4.5h-4.5zM197.82,192.43h4.5v4.5h-4.5zM200.4,193.1h4.5v4.5h-4.5zM202.99,193.46h4.5v4.5h-4.5zM205.57,192.97h4.5v4.5h-4.5zM208.15,193.97h4.5v4.5h-4.5zM210.73,194.14h4.5v4.5h-4.5zM213.32,194.25h4.5v4.5h-4.5zM215.9,194.4h4.5v4.5h-4.5zM218.48,194.05h4.5v4.5h-4.5zM221.07,193.99h4.5v4.5h-4.5zM223.65,193.77h4.5v4.5h-4.5zM226.23,193.19h4.5v4.5h-4.5zM228.81,193.59h4.5v4.5h-4.5zM231.4,193.57h4.5v4.5h-4.5zM233.98,193.27h4.5v4.5h-4.5zM236.56,193.16h4.5v4.5h-4.5zM239.15,193.09h4.5v4.5h-4.5zM241.73,193.09h4.5v4.5h-4.5zM244.31,193.54h4.5v4.5h-4.5zM246.9,193.2h4.5v4.5h-4.5zM249.48,193.4h4.5v4.5h-4.5zM252.06,193.13h4.5v4.5h-4.5zM254.64,193.12h4.5v4.5h-4.5zM257.23,194.16h4.5v4.5h-4.5zM259.81,194.28h4.5v4.5h-4.5zM262.39,194.32h4.5v4.5h-4.5zM264.98,194.39h4.5v4.5h-4.5zM267.56,194.31h4.5v4.5h-4.5zM270.14,194.96h4.5v4.5h-4.5zM272.73,193.85h4.5v4.5h-4.5zM275.31,193.9h4.5v4.5h-4.5zM277.89,193.7h4.5v4.5h-4.5zM280.48,193.01h4.5v4.5h-4.5zM283.06,193.42h4.5v4.5h-4.5zM285.64,193.78h4.5v4.5h-4.5zM288.22,193.67h4.5v4.5h-4.5zM290.81,192.87h4.5v4.5h-4.5zM293.39,193.81h4.5v4.5h-4.5zM295.97,193.05h4.5v4.5h-4.5zM298.56,193.42h4.5v4.5h-4.5zM301.14,193.41h4.5v4.5h-4.5zM303.72,193.17h4.5v4.5h-4.5zM306.31,193.89h4.5v4.5h-4.5zM308.89,193.67h4.5v4.5h-4.5zM311.47,194h4.5v4.5h-4.5zM314.05,193.8h4.5v4.5h-4.5zM316.64,194.26h4.5v4.5h-4.5zM319.22,195.18h4.5v4.5h-4.5zM321.8,194.59h4.5v4.5h-4.5zM324.39,194.24h4.5v4.5h-4.5zM326.97,194.01h4.5v4.5h-4.5zM329.55,193.47h4.5v4.5h-4.5zM332.13,193.03h4.5v4.5h-4.5zM334.72,193.17h4.5v4.5h-4.5zM337.3,193.5h4.5v4.5h-4.5zM339.88,193.76h4.5v4.5h-4.5zM342.47,193.69h4.5v4.5h-4.5zM345.05,193.1h4.5v4.5h-4.5z" fill="none" stroke="#00ee00" stroke-width="0.85"/>
<path d="M86.5,193.81l5,5m0,-5l-5,5M89.08,194.21l5,5m0,-5l-5,5M91.67,195.56l5,5m0,-5l-5,5M94.25,194.76l5,5m0,-5l-5,5M96.83,195.22l5,5m0,-5l-5,5M99.41,195.95l5,5m0,-5l-5,5M102,196.6l5,5m0,-5l-5,5M104.58,196.52l5,5m0,-5l-5,5M107.16,196.79l5,5m0,-5l-5,5M109.75,197.29l5,5m0,-5l-5,5M112.33,196.35l5,5m0,-5l-5,5M114.91,197.3l5,5m0,-5l-5,5M117.5,197.14l5,5m0,-5l-5,5M120.08,197.76l5,5m0,-5l-5,5M122.66,197.28l5,5m0,-5l-5,5M125.25,198.11l5,5m0,-5l-5,5M127.83,198.54l5,5m0,-5l-5,5M130.41,201.15l5,5m0,-5l-5,5M132.99,197.71l5,5m0,-5l-5,5M135.58,195.97l5,5m0,-5l-5,5M138.16,196.47l5,5m0,-5l-5,5M140.74,198.91l5,5m0,-5l-5,5M143.33,198.14l5,5m0,-5l-5,5M145.91,199.09l5,5m0,-5l-5,5M148.49,198.3l5,5m0,-5l-5,5M151.07,199.31l5,5m0,-5l-5,5M153.66,198.67l5,5m0,-5l-5,5M156.24,199.18l5,5m0,-5l-5,5M158.82,198.03l5,5m0,-5l-5,5M161.41,198.09l5,5m0,-5l-5,5M163.99,199.34l5,5m0,-5l-5,5M166.57,198.13l5,5m0,-5l-5,5M169.16,199.57l5,5m0,-5l-5,5M171.74,198.54l5,5m0,-5l-5,5M174.32,198.98l5,5m0,-5l-5,5M176.91,199.53l5,5m0,-5l-5,5M179.49,199.22l5,5m0,-5l-5,5M182.07,199.22l5,5m0,-5l-5,5M184.65,199.32l5,5m0,-5l-5,5M187.24,199.17l5,5m0,-5l-5,5M189.82,199.6l5,5m0,-5l-5,5M192.4,199.58l5,5m0,-5l-5,5M194.99,199.56l5,5m0,-5l-5,5M197.57,199.57l5,5m0,-5l-5,5M200.15,199.19l5,5m0,-5l-5,5M202.74,199.04l5,5m0,-5l-5,5M205.32,198.26l5,5m0,-5l-5,5M207.9,200.09l5,5m0,-5l-5,5M210.48,199.51l5,5m0,-5l-5,5M213.07,199.66l5,5m0,-5l-5,5M215.65,199.69l5,5m0,-5l-5,5M218.23,199.2l5,5m0,-5l-5,5M220.82,200.36l5,5m0,-5l-5,5M223.4,199.66l5,5m0,-5l-5,5M225.98,199.43l5,5m0,-5l-5,5M228.56,199.6l5,5m0,-5l-5,5M231.15,199.41l5,5m0,-5l-5,5M233.73,198.54l5,5m0,-5l-5,5M236.31,200.86l5,5m0,-5l-5,5M238.9,199.73l5,5m0,-5l-5,5M241.48,199.47l5,5m0,-5l-5,5M244.06,199.22l5,5m0,-5l-5,5M246.65,199.44l5,5m0,-5l-5,5M249.23,199.26l5,5m0,-5l-5,5M251.81,198.92l5,5m0,-5l-5,5M254.39,198.76l5,5m0,-5l-5,5M256.98,199.3l5,5m0,-5l-5,5M259.56,199.83l5,5m0,-5l-5,5M262.14,199.5l5,5m0,-5l-5,5M264.73,199.89l5,5m0,-5l-5,5M267.31,199.74l5,5m0,-5l-5,5M269.89,199.04l5,5m0,-5l-5,5M272.48,199.62l5,5m0,-5l-5,5M275.06,200.05l5,5m0,-5l-5,5M277.64,199.15l5,5m0,-5l-5,5M280.23,199.36l5,5m0,-5l-5,5M282.81,199.22l5,5m0,-5l-5,5M285.39,199.44l5,5m0,-5l-5,5M287.97,199.34l5,5m0,-5l-5,5M290.56,199.28l5,5m0,-5l-5,5M293.14,199.02l5,5m0,-5l-5,5M295.72,200.07l5,5m0,-5l-5,5M298.31,199.18l5,5m0,-5l-5,5M300.89,199.61l5,5m0,-5l-5,5M303.47,199.54l5,5m0,-5l-5,5M306.06,199.47l5,5m0,-5l-5,5M308.64,200.07l5,5m0,-5l-5,5M311.22,199.59l5,5m0,-5l-5,5M313.8,199.93l5,5m0,-5l-5,5M316.39,199.15l5,5m0,-5l-5,5M318.97,200.22l5,5m0,-5l-5,5M321.55,199.59l5,5m0,-5l-5,5M324.14,200.62l5,5m0,-5l-5,5M326.72,200.11l5,5m0,-5l-5,5M329.3,199.71l5,5m0,-5l-5,5M331.88,199.57l5,5m0,-5l-5,5M334.47,199.03l5,5m0,-5l-5,5M337.05,199.89l5,5m0,-5l-5,5M339.63,199.71l5,5m0,-5l-5,5M342.22,200.16l5,5m0,-5l-5,5M344.8,199.92l5,5m0,-5l-5,5" fill="none" stroke="#1a1a1a" stroke-width="0.8"/>
<path d="M86,255.95a3,3 0 1 0 6 0a3,3 0 1 0 -6 0M88.58,255.89a3,3 0 1 0 6 0a3,3 0 1 0 -6 0M91.17,252.43a3,3 0 1 0 6 0a3,3 0 1 0 -6 0M93.75,250.92a3,3 0 1 0 6 0a3,3 0 1 0 -6 0M96.33,249.82a3,3 0 1 0 6 0a3,3 0 1 0 -6 0M98.91,249.49a3,3 0 1 0 6 0a3,3 0 1 0 -6 0M101.5,248.92a3,3 0 1 0 6 0a3,3 0 1 0 -6 0M104.08,248.78a3,3 0 1 0 6 0a3,3 0 1 0 -6 0M106.66,248.87a3,3 0 1 0 6 0a3,3 0 1 0 -6 0M109.25,248.76a3,3 0 1 0 6 0a3,3 0 1 0 -6 0M111.83,248.7a3,3 0 1 0 6 0a3,3 0 1 0 -6 0M114.41,248.69a3,3 0 1 0 6 0a3,3 0 1 0 -6 0M117,248.72a3,3 0 1 0 6 0a3,3 0 1 0 -6 0M119.58,248.84a3,3 0 1 0 6 0a3,3 0 1 0 -6 0M122.16,249.11a3,3 0 1 0 6 0a3,3 0 1 0 -6 0M124.75,249.3a3,3 0 1 0 6 0a3,3 0 1 0 -6 0M127.33,249.87a3,3 0 1 0 6 0a3,3 0 1 0 -6 0M129.91,250.84a3,3 0 1 0 6 0a3,3 0 1 0 -6 0M132.49,252.19a3,3 0 1 0 6 0a3,3 0 1 0 -6 0M135.08,255.73a3,3 0 1 0 6 0a3,3 0 1 0 -6 0M137.66,261.92a3,3 0 1 0 6 0a3,3 0 1 0 -6 0M140.24,255.67a3,3 0 1 0 6 0a3,3 0 1 0 -6 0M142.83,252.46a3,3 0 1 0 6 0a3,3 0 1 0 -6 0M145.41,250.84a3,3 0 1 0 6 0a3,3 0 1 0 -6 0M147.99,249.95a3,3 0 1 0 6 0a3,3 0 1 0 -6 0M150.57,249.33a3,3 0 1 0 6 0a3,3 0 1 0 -6 0M153.16,249.39a3,3 0 1 0 6 0a3,3 0 1 0 -6 0M155.74,248.48a3,3 0 1 0 6 0a3,3 0 1 0 -6 0M158.32,248.7a3,3 0 1 0 6 0a3,3 0 1 0 -6 0M160.91,248.51a3,3 0 1 0 6 0a3,3 0 1 0 -6 0M163.49,248.69a3,3 0 1 0 6 0a3,3 0 1 0 -6 0M166.07,248.64a3,3 0 1 0 6 0a3,3 0 1 0 -6 0M168.66,248.79a3,3 0 1 0 6 0a3,3 0 1 0 -6 0M171.24,248.8a3,3 0 1 0 6 0a3,3 0 1 0 -6 0M173.82,249.05a3,3 0 1 0 6 0a3,3 0 1 0 -6 0M176.41,249.5a3,3 0 1 0 6 0a3,3 0 1 0 -6 0M178.99,249.88a3,3 0 1 0 6 0a3,3 0 1 0 -6 0M181.57,250.71a3,3 0 1 0 6 0a3,3 0 1 0 -6 0M184.15,252.31a3,3 0 1 0 6 0a3,3 0 1 0 -6 0M186.74,255.92a3,3 0 1 0 6 0a3,3 0 1 0 -6 0M189.32,258.55a3,3 0 1 0 6 0a3,3 0 1 0 -6 0M191.9,255.52a3,3 0 1 0 6 0a3,3 0 1 0 -6 0M194.49,252.51a3,3 0 1 0 6 0a3,3 0 1 0 -6 0M197.07,250.75a3,3 0 1 0 6 0a3,3 0 1 0 -6 0M199.65,250a3,3 0 1 0 6 0a3,3 0 1 0 -6 0M202.24,249.4a3,3 0 1 0 6 0a3,3 0 1 0 -6 0M204.82,249.23a3,3 0 1 0 6 0a3,3 0 1 0 -6 0M207.4,249.01a3,3 0 1 0 6 0a3,3 0 1 0 -6 0M209.98,248.96a3,3 0 1 0 6 0a3,3 0 1 0 -6 0M212.57,248.83a3,3 0 1 0 6 0a3,3 0 1 0 -6 0M215.15,248.93a3,3 0 1 0 6 0a3,3 0 1 0 -6 0M217.73,248.71a3,3 0 1 0 6 0a3,3 0 1 0 -6 0M220.32,248.75a3,3 0 1 0 6 0a3,3 0 1 0 -6 0M222.9,249.06a3,3 0 1 0 6 0a3,3 0 1 0 -6 0M225.48,249.05a3,3 0 1 0 6 0a3,3 0 1 0 -6 0M228.06,249.16a3,3 0 1 0 6 0a3,3 0 1 0 -6 0M230.65,249.96a3,3 0 1 0 6 0a3,3 0 1 0 -6 0M233.23,250.86a3,3 0 1 0 6 0a3,3 0 1 0 -6 0M235.81,252.2a3,3 0 1 0 6 0a3,3 0 1 0 -6 0M238.4,256.02a3,3 0 1 0 6 0a3,3 0 1 0 -6 0M240.98,259.06a3,3 0 1 0 6 0a3,3 0 1 0 -6 0M243.56,255.83a3,3 0 1 0 6 0a3,3 0 1 0 -6 0M246.15,252.17a3,3 0 1 0 6 0a3,3 0 1 0 -6 0M248.73,250.9a3,3 0 1 0 6 0a3,3 0 1 0 -6 0M251.31,249.95a3,3 0 1 0 6 0a3,3 0 1 0 -6 0M253.89,249.45a3,3 0 1 0 6 0a3,3 0 1 0 -6 0M256.48,249.18a3,3 0 1 0 6 0a3,3 0 1 0 -6 0M259.06,248.77a3,3 0 1 0 6 0a3,3 0 1 0 -6 0M261.64,248.62a3,3 0 1 0 6 0a3,3 0 1 0 -6 0M264.23,248.75a3,3 0 1 0 6 0a3,3 0 1 0 -6 0M266.81,248.71a3,3 0 1 0 6 0a3,3 0 1 0 -6 0M269.39,249a3,3 0 1 0 6 0a3,3 0 1 0 -6 0M271.98,248.78a3,3 0 1 0 6 0a3,3 0 1 0 -6 0M274.56,248.74a3,3 0 1 0 6 0a3,3 0 1 0 -6 0M277.14,248.99a3,3 0 1 0 6 0a3,3 0 1 0 -6 0M279.73,249.05a3,3 0 1 0 6 0a3,3 0 1 0 -6 0M282.31,249.57a3,3 0 1 0 6 0a3,3 0 1 0 -6 0M284.89,251.06a3,3 0 1 0 6 0a3,3 0 1 0 -6 0M287.47,252.69a3,3 0 1 0 6 0a3,3 0 1 0 -6 0M290.06,255.96a3,3 0 1 0 6 0a3,3 0 1 0 -6 0M292.64,259.66a3,3 0 1 0 6 0a3,3 0 1 0 -6 0M295.22,255.71a3,3 0 1 0 6 0a3,3 0 1 0 -6 0M297.81,252.43a3,3 0 1 0 6 0a3,3 0 1 0 -6 0M300.39,250.97a3,3 0 1 0 6 0a3,3 0 1 0 -6 0M302.97,250.11a3,3 0 1 0 6 0a3,3 0 1 0 -6 0M305.56,249.59a3,3 0 1 0 6 0a3,3 0 1 0 -6 0M308.14,248.96a3,3 0 1 0 6 0a3,3 0 1 0 -6 0M310.72,248.6a3,3 0 1 0 6 0a3,3 0 1 0 -6 0M313.3,248.67a3,3 0 1 0 6 0a3,3 0 1 0 -6 0M315.89,248.62a3,3 0 1 0 6 0a3,3 0 1 0 -6 0M318.47,248.8a3,3 0 1 0 6 0a3,3 0 1 0 -6 0M321.05,248.77a3,3 0 1 0 6 0a3,3 0 1 0 -6 0M323.64,248.75a3,3 0 1 0 6 0a3,3 0 1 0 -6 0M326.22,248.82a3,3 0 1 0 6 0a3,3 0 1 0 -6 0M328.8,248.91a3,3 0 1 0 6 0a3,3 0 1 0 -6 0M331.38,249.35a3,3 0 1 0 6 0a3,3 0 1 0 -6 0M333.97,249.9a3,3 0 1 0 6 0a3,3 0 1 0 -6 0M336.55,250.98a3,3 0 1 0 6 0a3,3 0 1 0 -6 0M339.13,252.37a3,3 0 1 0 6 0a3,3 0 1 0 -6 0M341.72,255.76a3,3 0 1 0 6 0a3,3 0 1 0 -6 0M344.3,257.66a3,3 0 1 0 6 0a3,3 0 1 0 -6 0" fill="none" stroke="#1414e6" stroke-width="0.85"/>
<path d="M89,303.8l3.05,5.4h-6.1zM91.58,300.82l3.05,5.4h-6.1zM94.17,298.31l3.05,5.4h-6.1zM96.75,297.58l3.05,5.4h-6.1zM99.33,291.7l3.05,5.4h-6.1zM101.91,292.1l3.05,5.4h-6.1zM104.5,293.02l3.05,5.4h-6.1zM107.08,292.18l3.05,5.4h-6.1zM109.66,292.59l3.05,5.4h-6.1zM112.25,305.3l3.05,5.4h-6.1zM114.83,296.6l3.05,5.4h-6.1zM117.41,294.01l3.05,5.4h-6.1zM120,299.3l3.05,5.4h-6.1zM122.58,296.78l3.05,5.4h-6.1zM125.16,297.96l3.05,5.4h-6.1zM127.75,296.27l3.05,5.4h-6.1zM130.33,298.36l3.05,5.4h-6.1zM132.91,296.05l3.05,5.4h-6.1zM135.49,298.24l3.05,5.4h-6.1zM138.08,295.71l3.05,5.4h-6.1zM140.66,299.3l3.05,5.4h-6.1zM143.24,298.03l3.05,5.4h-6.1zM145.83,295.13l3.05,5.4h-6.1zM148.41,295.92l3.05,5.4h-6.1zM150.99,294.76l3.05,5.4h-6.1zM153.57,296.62l3.05,5.4h-6.1zM156.16,296.39l3.05,5.4h-6.1zM158.74,293.85l3.05,5.4h-6.1zM161.32,293.01l3.05,5.4h-6.1zM163.91,293.43l3.05,5.4h-6.1zM166.49,294.13l3.05,5.4h-6.1zM169.07,291.43l3.05,5.4h-6.1zM171.66,290.88l3.05,5.4h-6.1zM174.24,291.31l3.05,5.4h-6.1zM176.82,291.4l3.05,5.4h-6.1zM179.41,291.42l3.05,5.4h-6.1zM181.99,291.4l3.05,5.4h-6.1zM184.57,291.54l3.05,5.4h-6.1zM187.15,291.16l3.05,5.4h-6.1zM189.74,291.29l3.05,5.4h-6.1zM192.32,291.1l3.05,5.4h-6.1zM194.9,291.2l3.05,5.4h-6.1zM197.49,291.03l3.05,5.4h-6.1zM200.07,291.57l3.05,5.4h-6.1zM202.65,290.94l3.05,5.4h-6.1zM205.24,291.01l3.05,5.4h-6.1zM207.82,291.23l3.05,5.4h-6.1zM210.4,290.62l3.05,5.4h-6.1zM212.98,291.44l3.05,5.4h-6.1zM215.57,296.22l3.05,5.4h-6.1zM218.15,295.6l3.05,5.4h-6.1zM220.73,296.92l3.05,5.4h-6.1zM223.32,294.73l3.05,5.4h-6.1zM225.9,295.83l3.05,5.4h-6.1zM228.48,296.85l3.05,5.4h-6.1zM231.06,297.43l3.05,5.4h-6.1zM233.65,293.85l3.05,5.4h-6.1zM236.23,296.14l3.05,5.4h-6.1zM238.81,296.22l3.05,5.4h-6.1zM241.4,295.71l3.05,5.4h-6.1zM243.98,296.21l3.05,5.4h-6.1zM246.56,296.28l3.05,5.4h-6.1zM249.15,296.16l3.05,5.4h-6.1zM251.73,297.2l3.05,5.4h-6.1zM254.31,295.08l3.05,5.4h-6.1zM256.89,295.4l3.05,5.4h-6.1zM259.48,294.11l3.05,5.4h-6.1zM262.06,294.56l3.05,5.4h-6.1zM264.64,293.42l3.05,5.4h-6.1zM267.23,293.8l3.05,5.4h-6.1zM269.81,294.84l3.05,5.4h-6.1zM272.39,293.98l3.05,5.4h-6.1zM274.98,296.33l3.05,5.4h-6.1zM277.56,293.55l3.05,5.4h-6.1zM280.14,300.8l3.05,5.4h-6.1zM282.73,294.9l3.05,5.4h-6.1zM285.31,293.89l3.05,5.4h-6.1zM287.89,293.76l3.05,5.4h-6.1zM290.47,293.89l3.05,5.4h-6.1zM293.06,293.87l3.05,5.4h-6.1zM295.64,295.35l3.05,5.4h-6.1zM298.22,294.61l3.05,5.4h-6.1zM300.81,294.37l3.05,5.4h-6.1zM303.39,292.83l3.05,5.4h-6.1zM305.97,293.01l3.05,5.4h-6.1zM308.56,294.18l3.05,5.4h-6.1zM311.14,292.87l3.05,5.4h-6.1zM313.72,299.8l3.05,5.4h-6.1zM316.3,292.24l3.05,5.4h-6.1zM318.89,293.17l3.05,5.4h-6.1zM321.47,292.8l3.05,5.4h-6.1zM324.05,294.16l3.05,5.4h-6.1zM326.64,291.5l3.05,5.4h-6.1zM329.22,292.29l3.05,5.4h-6.1zM331.8,292.56l3.05,5.4h-6.1zM334.38,292.31l3.05,5.4h-6.1zM336.97,292.75l3.05,5.4h-6.1zM339.55,292.43l3.05,5.4h-6.1zM342.13,291.68l3.05,5.4h-6.1zM344.72,292.72l3.05,5.4h-6.1zM347.3,293.55l3.05,5.4h-6.1z" fill="none" stroke="#ff0000" stroke-width="0.85"/>
<path d="M86.75,265.91h4.5v4.5h-4.5zM89.33,266.91h4.5v4.5h-4.5zM91.92,266.3h4.5v4.5h-4.5zM94.5,265.54h4.5v4.5h-4.5zM97.08,265.48h4.5v4.5h-4.5zM99.66,265.01h4.5v4.5h-4.5zM102.25,265.56h4.5v4.5h-4.5zM104.83,265.58h4.5v4.5h-4.5zM107.41,264.8h4.5v4.5h-4.5zM110,264.87h4.5v4.5h-4.5zM112.58,264.96h4.5v4.5h-4.5zM115.16,265.1h4.5v4.5h-4.5zM117.75,265.25h4.5v4.5h-4.5zM120.33,264.89h4.5v4.5h-4.5zM122.91,265.12h4.5v4.5h-4.5zM125.5,265.28h4.5v4.5h-4.5zM128.08,265.25h4.5v4.5h-4.5zM130.66,265.32h4.5v4.5h-4.5zM133.24,265.77h4.5v4.5h-4.5zM135.83,266.58h4.5v4.5h-4.5zM138.41,268.67h4.5v4.5h-4.5zM140.99,266.48h4.5v4.5h-4.5zM143.58,265.55h4.5v4.5h-4.5zM146.16,265.45h4.5v4.5h-4.5zM148.74,265.15h4.5v4.5h-4.5zM151.32,265.16h4.5v4.5h-4.5zM153.91,264.99h4.5v4.5h-4.5zM156.49,264.62h4.5v4.5h-4.5zM159.07,264.52h4.5v4.5h-4.5zM161.66,264.57h4.5v4.5h-4.5zM164.24,264.96h4.5v4.5h-4.5zM166.82,264.77h4.5v4.5h-4.5zM169.41,264.38h4.5v4.5h-4.5zM171.99,264.88h4.5v4.5h-4.5zM174.57,264.98h4.5v4.5h-4.5zM177.16,264.59h4.5v4.5h-4.5zM179.74,264.79h4.5v4.5h-4.5zM182.32,265.19h4.5v4.5h-4.5zM184.9,265.29h4.5v4.5h-4.5zM187.49,265.87h4.5v4.5h-4.5zM190.07,268.47h4.5v4.5h-4.5zM192.65,266.56h4.5v4.5h-4.5zM195.24,265.27h4.5v4.5h-4.5zM197.82,265.08h4.5v4.5h-4.5zM200.4,265h4.5v4.5h-4.5zM202.99,264.8h4.5v4.5h-4.5zM205.57,264.84h4.5v4.5h-4.5zM208.15,264.59h4.5v4.5h-4.5zM210.73,264.34h4.5v4.5h-4.5zM213.32,264.09h4.5v4.5h-4.5zM215.9,264.38h4.5v4.5h-4.5zM218.48,264.08h4.5v4.5h-4.5zM221.07,264.44h4.5v4.5h-4.5zM223.65,264.18h4.5v4.5h-4.5zM226.23,264.63h4.5v4.5h-4.5zM228.81,264.88h4.5v4.5h-4.5zM231.4,264.65h4.5v4.5h-4.5zM233.98,265.12h4.5v4.5h-4.5zM236.56,265.2h4.5v4.5h-4.5zM239.15,265.93h4.5v4.5h-4.5zM241.73,268.03h4.5v4.5h-4.5zM244.31,265.86h4.5v4.5h-4.5zM246.9,265.53h4.5v4.5h-4.5zM249.48,264.87h4.5v4.5h-4.5zM252.06,264.83h4.5v4.5h-4.5zM254.64,264.58h4.5v4.5h-4.5zM257.23,264.16h4.5v4.5h-4.5zM259.81,264.18h4.5v4.5h-4.5zM262.39,264.49h4.5v4.5h-4.5zM264.98,264.1h4.5v4.5h-4.5zM267.56,263.99h4.5v4.5h-4.5zM270.14,264.23h4.5v4.5h-4.5zM272.73,263.53h4.5v4.5h-4.5zM275.31,264.01h4.5v4.5h-4.5zM277.89,264.31h4.5v4.5h-4.5zM280.48,264.29h4.5v4.5h-4.5zM283.06,264.52h4.5v4.5h-4.5zM285.64,264.64h4.5v4.5h-4.5zM288.22,264.73h4.5v4.5h-4.5zM290.81,265.48h4.5v4.5h-4.5zM293.39,267.8h4.5v4.5h-4.5zM295.97,266.09h4.5v4.5h-4.5zM298.56,264.52h4.5v4.5h-4.5zM301.14,264.46h4.5v4.5h-4.5zM303.72,264.42h4.5v4.5h-4.5zM306.31,264.05h4.5v4.5h-4.5zM308.89,264.3h4.5v4.5h-4.5zM311.47,263.96h4.5v4.5h-4.5zM314.05,263.7h4.5v4.5h-4.5zM316.64,263.87h4.5v4.5h-4.5zM319.22,263.81h4.5v4.5h-4.5zM321.8,263.88h4.5v4.5h-4.5zM324.39,263.38h4.5v4.5h-4.5zM326.97,263.96h4.5v4.5h-4.5zM329.55,263.77h4.5v4.5h-4.5zM332.13,264h4.5v4.5h-4.5zM334.72,264.11h4.5v4.5h-4.5zM337.3,264.38h4.5v4.5h-4.5zM339.88,264.47h4.5v4.5h-4.5zM342.47,265.33h4.5v4.5h-4.5zM345.05,267.46h4.5v4.5h-4.5z" fill="none" stroke="#00ee00" stroke-width="0.85"/>
<path d="M86.5,302.12l5,5m0,-5l-5,5M89.08,300.18l5,5m0,-5l-5,5M91.67,296.03l5,5m0,-5l-5,5M94.25,297.45l5,5m0,-5l-5,5M96.83,296.34l5,5m0,-5l-5,5M99.41,297.04l5,5m0,-5l-5,5M102,295.95l5,5m0,-5l-5,5M104.58,298.13l5,5m0,-5l-5,5M107.16,296.95l5,5m0,-5l-5,5M109.75,294.93l5,5m0,-5l-5,5M112.33,294.66l5,5m0,-5l-5,5M114.91,295.43l5,5m0,-5l-5,5M117.5,296.73l5,5m0,-5l-5,5M120.08,296.43l5,5m0,-5l-5,5M122.66,297.17l5,5m0,-5l-5,5M125.25,294.92l5,5m0,-5l-5,5M127.83,295.64l5,5m0,-5l-5,5M130.41,296.81l5,5m0,-5l-5,5M132.99,296.02l5,5m0,-5l-5,5M135.58,296.03l5,5m0,-5l-5,5M138.16,296.55l5,5m0,-5l-5,5M140.74,295.82l5,5m0,-5l-5,5M143.33,296.18l5,5m0,-5l-5,5M145.91,295.46l5,5m0,-5l-5,5M148.49,294.92l5,5m0,-5l-5,5M151.07,296.31l5,5m0,-5l-5,5M153.66,296.29l5,5m0,-5l-5,5M156.24,295.67l5,5m0,-5l-5,5M158.82,295.05l5,5m0,-5l-5,5M161.41,295.06l5,5m0,-5l-5,5M163.99,293.84l5,5m0,-5l-5,5M166.57,298.37l5,5m0,-5l-5,5M169.16,297.28l5,5m0,-5l-5,5M171.74,298.04l5,5m0,-5l-5,5M174.32,296.25l5,5m0,-5l-5,5M176.91,297.77l5,5m0,-5l-5,5M179.49,297.16l5,5m0,-5l-5,5M182.07,297.37l5,5m0,-5l-5,5M184.65,295.89l5,5m0,-5l-5,5M187.24,299.29l5,5m0,-5l-5,5M189.82,296.24l5,5m0,-5l-5,5M192.4,296.62l5,5m0,-5l-5,5M194.99,296.71l5,5m0,-5l-5,5M197.57,298.47l5,5m0,-5l-5,5M200.15,297.84l5,5m0,-5l-5,5M202.74,298.1l5,5m0,-5l-5,5M205.32,304.76l5,5m0,-5l-5,5M207.9,297.1l5,5m0,-5l-5,5M210.48,296.28l5,5m0,-5l-5,5M213.07,294.9l5,5m0,-5l-5,5M215.65,295.88l5,5m0,-5l-5,5M218.23,294.96l5,5m0,-5l-5,5M220.82,295.02l5,5m0,-5l-5,5M223.4,295.31l5,5m0,-5l-5,5M225.98,294.46l5,5m0,-5l-5,5M228.56,293.85l5,5m0,-5l-5,5M231.15,293.81l5,5m0,-5l-5,5M233.73,295.79l5,5m0,-5l-5,5M236.31,295.51l5,5m0,-5l-5,5M238.9,294.3l5,5m0,-5l-5,5M241.48,293.03l5,5m0,-5l-5,5M244.06,294.59l5,5m0,-5l-5,5M246.65,294.8l5,5m0,-5l-5,5M249.23,295.88l5,5m0,-5l-5,5M251.81,294.05l5,5m0,-5l-5,5M254.39,294.97l5,5m0,-5l-5,5M256.98,293.43l5,5m0,-5l-5,5M259.56,294.31l5,5m0,-5l-5,5M262.14,295.54l5,5m0,-5l-5,5M264.73,294.23l5,5m0,-5l-5,5M267.31,294.58l5,5m0,-5l-5,5M269.89,296.4l5,5m0,-5l-5,5M272.48,294.69l5,5m0,-5l-5,5M275.06,294.21l5,5m0,-5l-5,5M277.64,294.26l5,5m0,-5l-5,5M280.23,295.14l5,5m0,-5l-5,5M282.81,294.29l5,5m0,-5l-5,5M285.39,294.81l5,5m0,-5l-5,5M287.97,295.54l5,5m0,-5l-5,5M290.56,295.2l5,5m0,-5l-5,5M293.14,295.55l5,5m0,-5l-5,5M295.72,295.3l5,5m0,-5l-5,5M298.31,294.53l5,5m0,-5l-5,5M300.89,295.58l5,5m0,-5l-5,5M303.47,296.28l5,5m0,-5l-5,5M306.06,294.25l5,5m0,-5l-5,5M308.64,294.76l5,5m0,-5l-5,5M311.22,296.85l5,5m0,-5l-5,5M313.8,294.74l5,5m0,-5l-5,5M316.39,294.92l5,5m0,-5l-5,5M318.97,293.13l5,5m0,-5l-5,5M321.55,293.57l5,5m0,-5l-5,5M324.14,293.15l5,5m0,-5l-5,5M326.72,295.76l5,5m0,-5l-5,5M329.3,290.94l5,5m0,-5l-5,5M331.88,292.98l5,5m0,-5l-5,5M334.47,292.74l5,5m0,-5l-5,5M337.05,293.79l5,5m0,-5l-5,5M339.63,293.59l5,5m0,-5l-5,5M342.22,294.17l5,5m0,-5l-5,5M344.8,293.66l5,5m0,-5l-5,5" fill="none" stroke="#1a1a1a" stroke-width="0.8"/>
<path d="M86,357.67a3,3 0 1 0 6 0a3,3 0 1 0 -6 0M88.58,359.22a3,3 0 1 0 6 0a3,3 0 1 0 -6 0M91.17,355.61a3,3 0 1 0 6 0a3,3 0 1 0 -6 0M93.75,354.37a3,3 0 1 0 6 0a3,3 0 1 0 -6 0M96.33,353a3,3 0 1 0 6 0a3,3 0 1 0 -6 0M98.91,352.88a3,3 0 1 0 6 0a3,3 0 1 0 -6 0M101.5,352.44a3,3 0 1 0 6 0a3,3 0 1 0 -6 0M104.08,352.27a3,3 0 1 0 6 0a3,3 0 1 0 -6 0M106.66,352.11a3,3 0 1 0 6 0a3,3 0 1 0 -6 0M109.25,352.15a3,3 0 1 0 6 0a3,3 0 1 0 -6 0M111.83,352.15a3,3 0 1 0 6 0a3,3 0 1 0 -6 0M114.41,352.05a3,3 0 1 0 6 0a3,3 0 1 0 -6 0M117,352.09a3,3 0 1 0 6 0a3,3 0 1 0 -6 0M119.58,352.13a3,3 0 1 0 6 0a3,3 0 1 0 -6 0M122.16,352.12a3,3 0 1 0 6 0a3,3 0 1 0 -6 0M124.75,352.86a3,3 0 1 0 6 0a3,3 0 1 0 -6 0M127.33,352.96a3,3 0 1 0 6 0a3,3 0 1 0 -6 0M129.91,354.08a3,3 0 1 0 6 0a3,3 0 1 0 -6 0M132.49,355.47a3,3 0 1 0 6 0a3,3 0 1 0 -6 0M135.08,359.07a3,3 0 1 0 6 0a3,3 0 1 0 -6 0M137.66,363.89a3,3 0 1 0 6 0a3,3 0 1 0 -6 0M140.24,358.96a3,3 0 1 0 6 0a3,3 0 1 0 -6 0M142.83,355.7a3,3 0 1 0 6 0a3,3 0 1 0 -6 0M145.41,353.98a3,3 0 1 0 6 0a3,3 0 1 0 -6 0M147.99,353.27a3,3 0 1 0 6 0a3,3 0 1 0 -6 0M150.57,352.64a3,3 0 1 0 6 0a3,3 0 1 0 -6 0M153.16,352.34a3,3 0 1 0 6 0a3,3 0 1 0 -6 0M155.74,352.3a3,3 0 1 0 6 0a3,3 0 1 0 -6 0M158.32,352.25a3,3 0 1 0 6 0a3,3 0 1 0 -6 0M160.91,352.07a3,3 0 1 0 6 0a3,3 0 1 0 -6 0M163.49,351.92a3,3 0 1 0 6 0a3,3 0 1 0 -6 0M166.07,352.09a3,3 0 1 0 6 0a3,3 0 1 0 -6 0M168.66,352.12a3,3 0 1 0 6 0a3,3 0 1 0 -6 0M171.24,352.26a3,3 0 1 0 6 0a3,3 0 1 0 -6 0M173.82,352.23a3,3 0 1 0 6 0a3,3 0 1 0 -6 0M176.41,352.85a3,3 0 1 0 6 0a3,3 0 1 0 -6 0M178.99,353.21a3,3 0 1 0 6 0a3,3 0 1 0 -6 0M181.57,354.34a3,3 0 1 0 6 0a3,3 0 1 0 -6 0M184.15,355.92a3,3 0 1 0 6 0a3,3 0 1 0 -6 0M186.74,359.27a3,3 0 1 0 6 0a3,3 0 1 0 -6 0M189.32,361.8a3,3 0 1 0 6 0a3,3 0 1 0 -6 0M191.9,359.35a3,3 0 1 0 6 0a3,3 0 1 0 -6 0M194.49,355.74a3,3 0 1 0 6 0a3,3 0 1 0 -6 0M197.07,354.21a3,3 0 1 0 6 0a3,3 0 1 0 -6 0M199.65,353.09a3,3 0 1 0 6 0a3,3 0 1 0 -6 0M202.24,352.78a3,3 0 1 0 6 0a3,3 0 1 0 -6 0M204.82,352.38a3,3 0 1 0 6 0a3,3 0 1 0 -6 0M207.4,352.31a3,3 0 1 0 6 0a3,3 0 1 0 -6 0M209.98,351.84a3,3 0 1 0 6 0a3,3 0 1 0 -6 0M212.57,351.92a3,3 0 1 0 6 0a3,3 0 1 0 -6 0M215.15,351.95a3,3 0 1 0 6 0a3,3 0 1 0 -6 0M217.73,351.73a3,3 0 1 0 6 0a3,3 0 1 0 -6 0M220.32,352.08a3,3 0 1 0 6 0a3,3 0 1 0 -6 0M222.9,352.4a3,3 0 1 0 6 0a3,3 0 1 0 -6 0M225.48,352.55a3,3 0 1 0 6 0a3,3 0 1 0 -6 0M228.06,352.89a3,3 0 1 0 6 0a3,3 0 1 0 -6 0M230.65,353.35a3,3 0 1 0 6 0a3,3 0 1 0 -6 0M233.23,354.44a3,3 0 1 0 6 0a3,3 0 1 0 -6 0M235.81,355.78a3,3 0 1 0 6 0a3,3 0 1 0 -6 0M238.4,359.03a3,3 0 1 0 6 0a3,3 0 1 0 -6 0M240.98,361.81a3,3 0 1 0 6 0a3,3 0 1 0 -6 0M243.56,359.32a3,3 0 1 0 6 0a3,3 0 1 0 -6 0M246.15,355.81a3,3 0 1 0 6 0a3,3 0 1 0 -6 0M248.73,354.28a3,3 0 1 0 6 0a3,3 0 1 0 -6 0M251.31,353.23a3,3 0 1 0 6 0a3,3 0 1 0 -6 0M253.89,352.72a3,3 0 1 0 6 0a3,3 0 1 0 -6 0M256.48,352.27a3,3 0 1 0 6 0a3,3 0 1 0 -6 0M259.06,352.36a3,3 0 1 0 6 0a3,3 0 1 0 -6 0M261.64,352.1a3,3 0 1 0 6 0a3,3 0 1 0 -6 0M264.23,351.98a3,3 0 1 0 6 0a3,3 0 1 0 -6 0M266.81,352.24a3,3 0 1 0 6 0a3,3 0 1 0 -6 0M269.39,352.08a3,3 0 1 0 6 0a3,3 0 1 0 -6 0M271.98,352.08a3,3 0 1 0 6 0a3,3 0 1 0 -6 0M274.56,352.07a3,3 0 1 0 6 0a3,3 0 1 0 -6 0M277.14,352.51a3,3 0 1 0 6 0a3,3 0 1 0 -6 0M279.73,352.68a3,3 0 1 0 6 0a3,3 0 1 0 -6 0M282.31,353.31a3,3 0 1 0 6 0a3,3 0 1 0 -6 0M284.89,354.26a3,3 0 1 0 6 0a3,3 0 1 0 -6 0M287.47,355.84a3,3 0 1 0 6 0a3,3 0 1 0 -6 0M290.06,359.28a3,3 0 1 0 6 0a3,3 0 1 0 -6 0M292.64,361.71a3,3 0 1 0 6 0a3,3 0 1 0 -6 0M295.22,359.28a3,3 0 1 0 6 0a3,3 0 1 0 -6 0M297.81,355.78a3,3 0 1 0 6 0a3,3 0 1 0 -6 0M300.39,354.13a3,3 0 1 0 6 0a3,3 0 1 0 -6 0M302.97,353.27a3,3 0 1 0 6 0a3,3 0 1 0 -6 0M305.56,352.87a3,3 0 1 0 6 0a3,3 0 1 0 -6 0M308.14,352.37a3,3 0 1 0 6 0a3,3 0 1 0 -6 0M310.72,352.12a3,3 0 1 0 6 0a3,3 0 1 0 -6 0M313.3,351.95a3,3 0 1 0 6 0a3,3 0 1 0 -6 0M315.89,351.95a3,3 0 1 0 6 0a3,3 0 1 0 -6 0M318.47,351.97a3,3 0 1 0 6 0a3,3 0 1 0 -6 0M321.05,351.74a3,3 0 1 0 6 0a3,3 0 1 0 -6 0M323.64,352.1a3,3 0 1 0 6 0a3,3 0 1 0 -6 0M326.22,352.21a3,3 0 1 0 6 0a3,3 0 1 0 -6 0M328.8,352.5a3,3 0 1 0 6 0a3,3 0 1 0 -6 0M331.38,352.78a3,3 0 1 0 6 0a3,3 0 1 0 -6 0M333.97,353.17a3,3 0 1 0 6 0a3,3 0 1 0 -6 0M336.55,354.16a3,3 0 1 0 6 0a3,3 0 1 0 -6 0M339.13,355.69a3,3 0 1 0 6 0a3,3 0 1 0 -6 0M341.72,359.07a3,3 0 1 0 6 0a3,3 0 1 0 -6 0M344.3,358.54a3,3 0 1 0 6 0a3,3 0 1 0 -6 0" fill="none" stroke="#1414e6" stroke-width="0.85"/>
<path d="M89,405.8l3.05,5.4h-6.1zM91.58,403.31l3.05,5.4h-6.1zM94.17,401.68l3.05,5.4h-6.1zM96.75,399.97l3.05,5.4h-6.1zM99.33,395.97l3.05,5.4h-6.1zM101.91,396l3.05,5.4h-6.1zM104.5,395.93l3.05,5.4h-6.1zM107.08,398.65l3.05,5.4h-6.1zM109.66,398.02l3.05,5.4h-6.1zM112.25,401.88l3.05,5.4h-6.1zM114.83,397.89l3.05,5.4h-6.1zM117.41,398.47l3.05,5.4h-6.1zM120,405.8l3.05,5.4h-6.1zM122.58,401.71l3.05,5.4h-6.1zM125.16,401.63l3.05,5.4h-6.1zM127.75,400.1l3.05,5.4h-6.1zM130.33,402.38l3.05,5.4h-6.1zM132.91,402.43l3.05,5.4h-6.1zM135.49,401.98l3.05,5.4h-6.1zM138.08,399.99l3.05,5.4h-6.1zM140.66,399.94l3.05,5.4h-6.1zM143.24,401.29l3.05,5.4h-6.1zM145.83,398.21l3.05,5.4h-6.1zM148.41,397.9l3.05,5.4h-6.1zM150.99,398.82l3.05,5.4h-6.1zM153.57,395.63l3.05,5.4h-6.1zM156.16,398.42l3.05,5.4h-6.1zM158.74,396.46l3.05,5.4h-6.1zM161.32,396.63l3.05,5.4h-6.1zM163.91,397.92l3.05,5.4h-6.1zM166.49,396.81l3.05,5.4h-6.1zM169.07,394.59l3.05,5.4h-6.1zM171.66,394.68l3.05,5.4h-6.1zM174.24,394.78l3.05,5.4h-6.1zM176.82,395.1l3.05,5.4h-6.1zM179.41,394.43l3.05,5.4h-6.1zM181.99,394.79l3.05,5.4h-6.1zM184.57,395.1l3.05,5.4h-6.1zM187.15,394.35l3.05,5.4h-6.1zM189.74,395.08l3.05,5.4h-6.1zM192.32,394.89l3.05,5.4h-6.1zM194.9,394.79l3.05,5.4h-6.1zM197.49,394.74l3.05,5.4h-6.1zM200.07,394.56l3.05,5.4h-6.1zM202.65,394.95l3.05,5.4h-6.1zM205.24,394.97l3.05,5.4h-6.1zM207.82,395.11l3.05,5.4h-6.1zM210.4,395.05l3.05,5.4h-6.1zM212.98,395.12l3.05,5.4h-6.1zM215.57,397.61l3.05,5.4h-6.1zM218.15,405.2l3.05,5.4h-6.1zM220.73,397.91l3.05,5.4h-6.1zM223.32,398.77l3.05,5.4h-6.1zM225.9,401.06l3.05,5.4h-6.1zM228.48,397.85l3.05,5.4h-6.1zM231.06,405.2l3.05,5.4h-6.1zM233.65,399l3.05,5.4h-6.1zM236.23,399.17l3.05,5.4h-6.1zM238.81,398.05l3.05,5.4h-6.1zM241.4,398.65l3.05,5.4h-6.1zM243.98,399.54l3.05,5.4h-6.1zM246.56,397.78l3.05,5.4h-6.1zM249.15,399.67l3.05,5.4h-6.1zM251.73,398.62l3.05,5.4h-6.1zM254.31,397.75l3.05,5.4h-6.1zM256.89,398.04l3.05,5.4h-6.1zM259.48,396.95l3.05,5.4h-6.1zM262.06,398.27l3.05,5.4h-6.1zM264.64,397.72l3.05,5.4h-6.1zM267.23,401.18l3.05,5.4h-6.1zM269.81,401.19l3.05,5.4h-6.1zM272.39,400.31l3.05,5.4h-6.1zM274.98,400.94l3.05,5.4h-6.1zM277.56,405.9l3.05,5.4h-6.1zM280.14,400.37l3.05,5.4h-6.1zM282.73,400.32l3.05,5.4h-6.1zM285.31,400.35l3.05,5.4h-6.1zM287.89,398.52l3.05,5.4h-6.1zM290.47,396.58l3.05,5.4h-6.1zM293.06,395.84l3.05,5.4h-6.1zM295.64,396.97l3.05,5.4h-6.1zM298.22,397.88l3.05,5.4h-6.1zM300.81,397.19l3.05,5.4h-6.1zM303.39,398.76l3.05,5.4h-6.1zM305.97,399.65l3.05,5.4h-6.1zM308.56,399.17l3.05,5.4h-6.1zM311.14,400.59l3.05,5.4h-6.1zM313.72,399.99l3.05,5.4h-6.1zM316.3,400.82l3.05,5.4h-6.1zM318.89,402.21l3.05,5.4h-6.1zM321.47,400.61l3.05,5.4h-6.1zM324.05,398.94l3.05,5.4h-6.1zM326.64,400.88l3.05,5.4h-6.1zM329.22,395.37l3.05,5.4h-6.1zM331.8,397.63l3.05,5.4h-6.1zM334.38,396.17l3.05,5.4h-6.1zM336.97,396.76l3.05,5.4h-6.1zM339.55,396.76l3.05,5.4h-6.1zM342.13,396.2l3.05,5.4h-6.1zM344.72,396.17l3.05,5.4h-6.1zM347.3,394.84l3.05,5.4h-6.1z" fill="none" stroke="#ff0000" stroke-width="0.85"/>
<path d="M86.75,371.25h4.5v4.5h-4.5zM89.33,370.37h4.5v4.5h-4.5zM91.92,369.84h4.5v4.5h-4.5zM94.5,369.44h4.5v4.5h-4.5zM97.08,369.28h4.5v4.5h-4.5zM99.66,369.38h4.5v4.5h-4.5zM102.25,369.17h4.5v4.5h-4.5zM104.83,368.89h4.5v4.5h-4.5zM107.41,368.63h4.5v4.5h-4.5zM110,369.17h4.5v4.5h-4.5zM112.58,368.8h4.5v4.5h-4.5zM115.16,368.9h4.5v4.5h-4.5zM117.75,368.86h4.5v4.5h-4.5zM120.33,369.01h4.5v4.5h-4.5zM122.91,368.73h4.5v4.5h-4.5zM125.5,368.74h4.5v4.5h-4.5zM128.08,369.36h4.5v4.5h-4.5zM130.66,369.7h4.5v4.5h-4.5zM133.24,369.69h4.5v4.5h-4.5zM135.83,370.5h4.5v4.5h-4.5zM138.41,369.62h4.5v4.5h-4.5zM140.99,368.73h4.5v4.5h-4.5zM143.58,368.37h4.5v4.5h-4.5zM146.16,368.18h4.5v4.5h-4.5zM148.74,367.63h4.5v4.5h-4.5zM151.32,367.53h4.5v4.5h-4.5zM153.91,367.39h4.5v4.5h-4.5zM156.49,367.39h4.5v4.5h-4.5zM159.07,367.09h4.5v4.5h-4.5zM161.66,367.56h4.5v4.5h-4.5zM164.24,367.28h4.5v4.5h-4.5zM166.82,367.43h4.5v4.5h-4.5zM169.41,367.67h4.5v4.5h-4.5zM171.99,367.29h4.5v4.5h-4.5zM174.57,367.5h4.5v4.5h-4.5zM177.16,367.82h4.5v4.5h-4.5zM179.74,367.7h4.5v4.5h-4.5zM182.32,368.05h4.5v4.5h-4.5zM184.9,368.45h4.5v4.5h-4.5zM187.49,368.93h4.5v4.5h-4.5zM190.07,370.01h4.5v4.5h-4.5zM192.65,368.95h4.5v4.5h-4.5zM195.24,368.26h4.5v4.5h-4.5zM197.82,367.9h4.5v4.5h-4.5zM200.4,367.54h4.5v4.5h-4.5zM202.99,367.24h4.5v4.5h-4.5zM205.57,367.54h4.5v4.5h-4.5zM208.15,367.28h4.5v4.5h-4.5zM210.73,367.42h4.5v4.5h-4.5zM213.32,367.54h4.5v4.5h-4.5zM215.9,367.05h4.5v4.5h-4.5zM218.48,367.37h4.5v4.5h-4.5zM221.07,366.95h4.5v4.5h-4.5zM223.65,367.61h4.5v4.5h-4.5zM226.23,367.29h4.5v4.5h-4.5zM228.81,367.49h4.5v4.5h-4.5zM231.4,367.49h4.5v4.5h-4.5zM233.98,367.75h4.5v4.5h-4.5zM236.56,367.78h4.5v4.5h-4.5zM239.15,368.56h4.5v4.5h-4.5zM241.73,369.32h4.5v4.5h-4.5zM244.31,368.93h4.5v4.5h-4.5zM246.9,368.41h4.5v4.5h-4.5zM249.48,367.54h4.5v4.5h-4.5zM252.06,367.55h4.5v4.5h-4.5zM254.64,367.29h4.5v4.5h-4.5zM257.23,367.3h4.5v4.5h-4.5zM259.81,367.45h4.5v4.5h-4.5zM262.39,367.14h4.5v4.5h-4.5zM264.98,367.4h4.5v4.5h-4.5zM267.56,367.36h4.5v4.5h-4.5zM270.14,366.78h4.5v4.5h-4.5zM272.73,367.5h4.5v4.5h-4.5zM275.31,367.52h4.5v4.5h-4.5zM277.89,367.34h4.5v4.5h-4.5zM280.48,367.25h4.5v4.5h-4.5zM283.06,367.27h4.5v4.5h-4.5zM285.64,368.01h4.5v4.5h-4.5zM288.22,368.18h4.5v4.5h-4.5zM290.81,368.57h4.5v4.5h-4.5zM293.39,369.35h4.5v4.5h-4.5zM295.97,368.97h4.5v4.5h-4.5zM298.56,368.25h4.5v4.5h-4.5zM301.14,367.37h4.5v4.5h-4.5zM303.72,367.95h4.5v4.5h-4.5zM306.31,367.36h4.5v4.5h-4.5zM308.89,367.41h4.5v4.5h-4.5zM311.47,367.06h4.5v4.5h-4.5zM314.05,366.97h4.5v4.5h-4.5zM316.64,367.07h4.5v4.5h-4.5zM319.22,367.07h4.5v4.5h-4.5zM321.8,367.21h4.5v4.5h-4.5zM324.39,366.75h4.5v4.5h-4.5zM326.97,367.21h4.5v4.5h-4.5zM329.55,367.28h4.5v4.5h-4.5zM332.13,367.25h4.5v4.5h-4.5zM334.72,367.39h4.5v4.5h-4.5zM337.3,367.8h4.5v4.5h-4.5zM339.88,368.08h4.5v4.5h-4.5zM342.47,368.67h4.5v4.5h-4.5zM345.05,369.11h4.5v4.5h-4.5z" fill="none" stroke="#00ee00" stroke-width="0.85"/>
<path d="M86.5,405.49l5,5m0,-5l-5,5M89.08,402.96l5,5m0,-5l-5,5M91.67,399.6l5,5m0,-5l-5,5M94.25,405.99l5,5m0,-5l-5,5M96.83,398.14l5,5m0,-5l-5,5M99.41,398.07l5,5m0,-5l-5,5M102,397.83l5,5m0,-5l-5,5M104.58,398.65l5,5m0,-5l-5,5M107.16,398.14l5,5m0,-5l-5,5M109.75,399.22l5,5m0,-5l-5,5M112.33,398.99l5,5m0,-5l-5,5M114.91,398.19l5,5m0,-5l-5,5M117.5,397.26l5,5m0,-5l-5,5M120.08,399.46l5,5m0,-5l-5,5M122.66,408.37l5,5m0,-5l-5,5M125.25,399.05l5,5m0,-5l-5,5M127.83,399.34l5,5m0,-5l-5,5M130.41,397.6l5,5m0,-5l-5,5M132.99,399.18l5,5m0,-5l-5,5M135.58,397.85l5,5m0,-5l-5,5M138.16,398.84l5,5m0,-5l-5,5M140.74,395.35l5,5m0,-5l-5,5M143.33,397.31l5,5m0,-5l-5,5M145.91,398.33l5,5m0,-5l-5,5M148.49,399.63l5,5m0,-5l-5,5M151.07,397.89l5,5m0,-5l-5,5M153.66,397.4l5,5m0,-5l-5,5M156.24,398.27l5,5m0,-5l-5,5M158.82,397.81l5,5m0,-5l-5,5M161.41,395.94l5,5m0,-5l-5,5M163.99,397.3l5,5m0,-5l-5,5M166.57,398.28l5,5m0,-5l-5,5M169.16,398.04l5,5m0,-5l-5,5M171.74,398.29l5,5m0,-5l-5,5M174.32,398.95l5,5m0,-5l-5,5M176.91,397.01l5,5m0,-5l-5,5M179.49,397.33l5,5m0,-5l-5,5M182.07,397.3l5,5m0,-5l-5,5M184.65,398.65l5,5m0,-5l-5,5M187.24,397.4l5,5m0,-5l-5,5M189.82,397.7l5,5m0,-5l-5,5M192.4,398.01l5,5m0,-5l-5,5M194.99,397.08l5,5m0,-5l-5,5M197.57,397.84l5,5m0,-5l-5,5M200.15,397.75l5,5m0,-5l-5,5M202.74,398.07l5,5m0,-5l-5,5M205.32,398.25l5,5m0,-5l-5,5M207.9,406.85l5,5m0,-5l-5,5M210.48,397.26l5,5m0,-5l-5,5M213.07,398.87l5,5m0,-5l-5,5M215.65,398.49l5,5m0,-5l-5,5M218.23,400.37l5,5m0,-5l-5,5M220.82,398.54l5,5m0,-5l-5,5M223.4,399.98l5,5m0,-5l-5,5M225.98,399.63l5,5m0,-5l-5,5M228.56,400.36l5,5m0,-5l-5,5M231.15,399.43l5,5m0,-5l-5,5M233.73,399.92l5,5m0,-5l-5,5M236.31,398.14l5,5m0,-5l-5,5M238.9,399.85l5,5m0,-5l-5,5M241.48,398.66l5,5m0,-5l-5,5M244.06,399.24l5,5m0,-5l-5,5M246.65,395.83l5,5m0,-5l-5,5M249.23,396.5l5,5m0,-5l-5,5M251.81,397.21l5,5m0,-5l-5,5M254.39,397.54l5,5m0,-5l-5,5M256.98,397.66l5,5m0,-5l-5,5M259.56,396.49l5,5m0,-5l-5,5M262.14,396.13l5,5m0,-5l-5,5M264.73,396.71l5,5m0,-5l-5,5M267.31,396.32l5,5m0,-5l-5,5M269.89,397.04l5,5m0,-5l-5,5M272.48,397.91l5,5m0,-5l-5,5M275.06,398.23l5,5m0,-5l-5,5M277.64,396.19l5,5m0,-5l-5,5M280.23,395.19l5,5m0,-5l-5,5M282.81,395.35l5,5m0,-5l-5,5M285.39,397.13l5,5m0,-5l-5,5M287.97,394.43l5,5m0,-5l-5,5M290.56,397.05l5,5m0,-5l-5,5M293.14,397.48l5,5m0,-5l-5,5M295.72,397.76l5,5m0,-5l-5,5M298.31,397.22l5,5m0,-5l-5,5M300.89,396.17l5,5m0,-5l-5,5M303.47,395.37l5,5m0,-5l-5,5M306.06,396.37l5,5m0,-5l-5,5M308.64,397.18l5,5m0,-5l-5,5M311.22,397.42l5,5m0,-5l-5,5M313.8,398.34l5,5m0,-5l-5,5M316.39,397.24l5,5m0,-5l-5,5M318.97,396.23l5,5m0,-5l-5,5M321.55,395.38l5,5m0,-5l-5,5M324.14,394.65l5,5m0,-5l-5,5M326.72,395.57l5,5m0,-5l-5,5M329.3,393.93l5,5m0,-5l-5,5M331.88,395.67l5,5m0,-5l-5,5M334.47,396.5l5,5m0,-5l-5,5M337.05,394.82l5,5m0,-5l-5,5M339.63,393.67l5,5m0,-5l-5,5M342.22,395.93l5,5m0,-5l-5,5M344.8,394.88l5,5m0,-5l-5,5" fill="none" stroke="#1a1a1a" stroke-width="0.8"/>
<path d="M409.2,52.7a3,3 0 1 0 6 0a3,3 0 1 0 -6 0M411.78,51.95a3,3 0 1 0 6 0a3,3 0 1 0 -6 0M414.36,52.18a3,3 0 1 0 6 0a3,3 0 1 0 -6 0M416.95,51.36a3,3 0 1 0 6 0a3,3 0 1 0 -6 0M419.53,50.85a3,3 0 1 0 6 0a3,3 0 1 0 -6 0M422.11,51.04a3,3 0 1 0 6 0a3,3 0 1 0 -6 0M424.69,50.95a3,3 0 1 0 6 0a3,3 0 1 0 -6 0M427.27,50.85a3,3 0 1 0 6 0a3,3 0 1 0 -6 0M429.86,51.06a3,3 0 1 0 6 0a3,3 0 1 0 -6 0M432.44,51.32a3,3 0 1 0 6 0a3,3 0 1 0 -6 0M434,53a3,3 0 1 0 6 0a3,3 0 1 0 -6 0M438,55a3,3 0 1 0 6 0a3,3 0 1 0 -6 0M440,58.3a3,3 0 1 0 6 0a3,3 0 1 0 -6 0M442,57.5a3,3 0 1 0 6 0a3,3 0 1 0 -6 0M446,56.7a3,3 0 1 0 6 0a3,3 0 1 0 -6 0M449,62.9a3,3 0 1 0 6 0a3,3 0 1 0 -6 0M450.51,53.81a3,3 0 1 0 6 0a3,3 0 1 0 -6 0M452,62.5a3,3 0 1 0 6 0a3,3 0 1 0 -6 0M455,63a3,3 0 1 0 6 0a3,3 0 1 0 -6 0M457,60a3,3 0 1 0 6 0a3,3 0 1 0 -6 0M460.84,52.42a3,3 0 1 0 6 0a3,3 0 1 0 -6 0M463.42,52.49a3,3 0 1 0 6 0a3,3 0 1 0 -6 0M466,51.55a3,3 0 1 0 6 0a3,3 0 1 0 -6 0M468.59,51.86a3,3 0 1 0 6 0a3,3 0 1 0 -6 0M471.17,51.3a3,3 0 1 0 6 0a3,3 0 1 0 -6 0M473.5,71.6a3,3 0 1 0 6 0a3,3 0 1 0 -6 0M476.33,51.25a3,3 0 1 0 6 0a3,3 0 1 0 -6 0M478.91,51.67a3,3 0 1 0 6 0a3,3 0 1 0 -6 0M481.5,52.22a3,3 0 1 0 6 0a3,3 0 1 0 -6 0M484.08,51.21a3,3 0 1 0 6 0a3,3 0 1 0 -6 0M486.66,51.48a3,3 0 1 0 6 0a3,3 0 1 0 -6 0M489.24,51.79a3,3 0 1 0 6 0a3,3 0 1 0 -6 0M491.82,52.5a3,3 0 1 0 6 0a3,3 0 1 0 -6 0M494.41,52.86a3,3 0 1 0 6 0a3,3 0 1 0 -6 0M496.99,53.27a3,3 0 1 0 6 0a3,3 0 1 0 -6 0M499.6,56.2a3,3 0 1 0 6 0a3,3 0 1 0 -6 0M502.15,53.79a3,3 0 1 0 6 0a3,3 0 1 0 -6 0M504.7,65.4a3,3 0 1 0 6 0a3,3 0 1 0 -6 0M506.7,65.4a3,3 0 1 0 6 0a3,3 0 1 0 -6 0M510.3,58.3a3,3 0 1 0 6 0a3,3 0 1 0 -6 0M512.48,53.27a3,3 0 1 0 6 0a3,3 0 1 0 -6 0M515.06,53.22a3,3 0 1 0 6 0a3,3 0 1 0 -6 0M517,55.2a3,3 0 1 0 6 0a3,3 0 1 0 -6 0M520.23,51.03a3,3 0 1 0 6 0a3,3 0 1 0 -6 0M522.81,51.17a3,3 0 1 0 6 0a3,3 0 1 0 -6 0M525.39,51.21a3,3 0 1 0 6 0a3,3 0 1 0 -6 0M527.97,51.78a3,3 0 1 0 6 0a3,3 0 1 0 -6 0M530.55,50.96a3,3 0 1 0 6 0a3,3 0 1 0 -6 0M533.14,52.21a3,3 0 1 0 6 0a3,3 0 1 0 -6 0M535.72,51.19a3,3 0 1 0 6 0a3,3 0 1 0 -6 0M538.3,68.2a3,3 0 1 0 6 0a3,3 0 1 0 -6 0M540.88,50.84a3,3 0 1 0 6 0a3,3 0 1 0 -6 0M543.46,52.04a3,3 0 1 0 6 0a3,3 0 1 0 -6 0M546.05,50.95a3,3 0 1 0 6 0a3,3 0 1 0 -6 0M548.63,51.97a3,3 0 1 0 6 0a3,3 0 1 0 -6 0M551.21,52.46a3,3 0 1 0 6 0a3,3 0 1 0 -6 0M553.79,51.33a3,3 0 1 0 6 0a3,3 0 1 0 -6 0M557,57a3,3 0 1 0 6 0a3,3 0 1 0 -6 0M558.96,52.24a3,3 0 1 0 6 0a3,3 0 1 0 -6 0M562,59a3,3 0 1 0 6 0a3,3 0 1 0 -6 0M565,60a3,3 0 1 0 6 0a3,3 0 1 0 -6 0M566.7,53.78a3,3 0 1 0 6 0a3,3 0 1 0 -6 0M568.7,64.9a3,3 0 1 0 6 0a3,3 0 1 0 -6 0M572.2,64.9a3,3 0 1 0 6 0a3,3 0 1 0 -6 0M575,60a3,3 0 1 0 6 0a3,3 0 1 0 -6 0M578,57a3,3 0 1 0 6 0a3,3 0 1 0 -6 0M579.61,53.68a3,3 0 1 0 6 0a3,3 0 1 0 -6 0M582.19,52.42a3,3 0 1 0 6 0a3,3 0 1 0 -6 0M584.78,51.28a3,3 0 1 0 6 0a3,3 0 1 0 -6 0M587.36,51.17a3,3 0 1 0 6 0a3,3 0 1 0 -6 0M589.94,50.84a3,3 0 1 0 6 0a3,3 0 1 0 -6 0M592.52,51.42a3,3 0 1 0 6 0a3,3 0 1 0 -6 0M595.1,51.3a3,3 0 1 0 6 0a3,3 0 1 0 -6 0M597.69,50.98a3,3 0 1 0 6 0a3,3 0 1 0 -6 0M600.27,52.09a3,3 0 1 0 6 0a3,3 0 1 0 -6 0M603,66.5a3,3 0 1 0 6 0a3,3 0 1 0 -6 0M605.43,51.36a3,3 0 1 0 6 0a3,3 0 1 0 -6 0M608.01,50.86a3,3 0 1 0 6 0a3,3 0 1 0 -6 0M610.6,51.67a3,3 0 1 0 6 0a3,3 0 1 0 -6 0M613.18,50.84a3,3 0 1 0 6 0a3,3 0 1 0 -6 0M615.76,50.96a3,3 0 1 0 6 0a3,3 0 1 0 -6 0M618.34,51.9a3,3 0 1 0 6 0a3,3 0 1 0 -6 0M620.92,51.83a3,3 0 1 0 6 0a3,3 0 1 0 -6 0M623.51,52.11a3,3 0 1 0 6 0a3,3 0 1 0 -6 0M627,57a3,3 0 1 0 6 0a3,3 0 1 0 -6 0M628.67,53.33a3,3 0 1 0 6 0a3,3 0 1 0 -6 0M630,59a3,3 0 1 0 6 0a3,3 0 1 0 -6 0M633.7,64.9a3,3 0 1 0 6 0a3,3 0 1 0 -6 0M636.7,64.9a3,3 0 1 0 6 0a3,3 0 1 0 -6 0M640,59a3,3 0 1 0 6 0a3,3 0 1 0 -6 0M641.58,53.53a3,3 0 1 0 6 0a3,3 0 1 0 -6 0M643,57a3,3 0 1 0 6 0a3,3 0 1 0 -6 0M646.74,52.83a3,3 0 1 0 6 0a3,3 0 1 0 -6 0M649.33,51.66a3,3 0 1 0 6 0a3,3 0 1 0 -6 0M651.91,50.83a3,3 0 1 0 6 0a3,3 0 1 0 -6 0M654.49,51.57a3,3 0 1 0 6 0a3,3 0 1 0 -6 0M657.07,51.37a3,3 0 1 0 6 0a3,3 0 1 0 -6 0M659.65,51.01a3,3 0 1 0 6 0a3,3 0 1 0 -6 0M662.24,51.16a3,3 0 1 0 6 0a3,3 0 1 0 -6 0M664.82,51.01a3,3 0 1 0 6 0a3,3 0 1 0 -6 0M667.4,64.9a3,3 0 1 0 6 0a3,3 0 1 0 -6 0M444,61.9a3,3 0 1 0 6 0a3,3 0 1 0 -6 0M453,59.3a3,3 0 1 0 6 0a3,3 0 1 0 -6 0M459,57a3,3 0 1 0 6 0a3,3 0 1 0 -6 0M499.6,58.3a3,3 0 1 0 6 0a3,3 0 1 0 -6 0M507.2,59.8a3,3 0 1 0 6 0a3,3 0 1 0 -6 0" fill="none" stroke="#1414e6" stroke-width="0.85"/>
<path d="M412.2,51.06l3.05,5.4h-6.1zM414.78,47.9l3.05,5.4h-6.1zM417.2,61.7l3.05,5.4h-6.1zM419.95,49.07l3.05,5.4h-6.1zM422.3,61.7l3.05,5.4h-6.1zM425.11,48.75l3.05,5.4h-6.1zM427.4,61.7l3.05,5.4h-6.1zM430.27,48.42l3.05,5.4h-6.1zM432.5,61.7l3.05,5.4h-6.1zM435,47l3.05,5.4h-6.1zM437.6,61.7l3.05,5.4h-6.1zM440.1,47l3.05,5.4h-6.1zM442.7,62.3l3.05,5.4h-6.1zM445.2,47l3.05,5.4h-6.1zM447.8,61.2l3.05,5.4h-6.1zM451.4,47.2l3.05,5.4h-6.1zM453.4,59.2l3.05,5.4h-6.1zM456.09,50.3l3.05,5.4h-6.1zM458.5,56.1l3.05,5.4h-6.1zM461.26,49.52l3.05,5.4h-6.1zM463.1,54.1l3.05,5.4h-6.1zM467.7,53l3.05,5.4h-6.1zM469,50.46l3.05,5.4h-6.1zM471.3,52l3.05,5.4h-6.1zM474.17,51.87l3.05,5.4h-6.1zM476.75,48.35l3.05,5.4h-6.1zM479.33,50.87l3.05,5.4h-6.1zM481.91,48.16l3.05,5.4h-6.1zM484.5,50.85l3.05,5.4h-6.1zM488.3,53l3.05,5.4h-6.1zM489.66,49.67l3.05,5.4h-6.1zM492.24,48.39l3.05,5.4h-6.1zM493.9,56.1l3.05,5.4h-6.1zM497,47l3.05,5.4h-6.1zM499,56.6l3.05,5.4h-6.1zM502,47l3.05,5.4h-6.1zM504.6,57.1l3.05,5.4h-6.1zM507.2,47l3.05,5.4h-6.1zM510.32,53.03l3.05,5.4h-6.1zM512.8,49l3.05,5.4h-6.1zM515.48,52.36l3.05,5.4h-6.1zM518.06,48.99l3.05,5.4h-6.1zM520.64,50.84l3.05,5.4h-6.1zM523.23,47.84l3.05,5.4h-6.1zM525.81,49.91l3.05,5.4h-6.1zM528.39,48.33l3.05,5.4h-6.1zM530.97,51.18l3.05,5.4h-6.1zM533.55,48.25l3.05,5.4h-6.1zM536.14,51.01l3.05,5.4h-6.1zM538.72,48.37l3.05,5.4h-6.1zM541.3,49.87l3.05,5.4h-6.1zM543.88,49.01l3.05,5.4h-6.1zM546,47l3.05,5.4h-6.1zM549.05,48.67l3.05,5.4h-6.1zM551.63,50.27l3.05,5.4h-6.1zM555,51.8l3.05,5.4h-6.1zM556.79,50.21l3.05,5.4h-6.1zM559.4,54.1l3.05,5.4h-6.1zM561.96,52.2l3.05,5.4h-6.1zM565,52.8l3.05,5.4h-6.1zM567.12,53.09l3.05,5.4h-6.1zM569,47l3.05,5.4h-6.1zM572.28,52.74l3.05,5.4h-6.1zM574.87,50.04l3.05,5.4h-6.1zM577.45,52.84l3.05,5.4h-6.1zM580.03,49.42l3.05,5.4h-6.1zM582.61,52.61l3.05,5.4h-6.1zM585.19,50.06l3.05,5.4h-6.1zM587.78,51.89l3.05,5.4h-6.1zM590.36,47.83l3.05,5.4h-6.1zM592.94,51.19l3.05,5.4h-6.1zM595.52,48.82l3.05,5.4h-6.1zM598.1,50.77l3.05,5.4h-6.1zM600.69,48.06l3.05,5.4h-6.1zM603.27,49.83l3.05,5.4h-6.1zM605.85,47.81l3.05,5.4h-6.1zM608.43,50.28l3.05,5.4h-6.1zM611.01,48.73l3.05,5.4h-6.1zM613,47l3.05,5.4h-6.1zM616.18,47.92l3.05,5.4h-6.1zM620,47l3.05,5.4h-6.1zM621.34,47.83l3.05,5.4h-6.1zM623.92,50.85l3.05,5.4h-6.1zM626,47l3.05,5.4h-6.1zM630,51.8l3.05,5.4h-6.1zM631.67,49.47l3.05,5.4h-6.1zM634.25,53.79l3.05,5.4h-6.1zM636.83,50.23l3.05,5.4h-6.1zM640,52.8l3.05,5.4h-6.1zM642,49.63l3.05,5.4h-6.1zM644.58,53.17l3.05,5.4h-6.1zM647.16,49.35l3.05,5.4h-6.1zM649,47l3.05,5.4h-6.1zM652.33,48.12l3.05,5.4h-6.1zM654.91,49.92l3.05,5.4h-6.1zM657.49,48.2l3.05,5.4h-6.1zM660,47l3.05,5.4h-6.1zM662.65,47.98l3.05,5.4h-6.1zM665.24,50.58l3.05,5.4h-6.1zM667.82,48.53l3.05,5.4h-6.1zM670.4,50.29l3.05,5.4h-6.1zM466.2,46.8l3.05,5.4h-6.1zM471.3,47.1l3.05,5.4h-6.1zM559,47l3.05,5.4h-6.1zM564,47l3.05,5.4h-6.1z" fill="none" stroke="#ff0000" stroke-width="0.85"/>
<path d="M409.95,50.99h4.5v4.5h-4.5zM412.53,51.05h4.5v4.5h-4.5zM415.11,52.59h4.5v4.5h-4.5zM417.7,52.23h4.5v4.5h-4.5zM420.28,53.19h4.5v4.5h-4.5zM422.86,51.71h4.5v4.5h-4.5zM425.44,51.55h4.5v4.5h-4.5zM428.02,51.51h4.5v4.5h-4.5zM430.61,51.67h4.5v4.5h-4.5zM433.19,51.96h4.5v4.5h-4.5zM434.75,57.55h4.5v4.5h-4.5zM438.75,58.05h4.5v4.5h-4.5zM440.93,53.06h4.5v4.5h-4.5zM442.75,54.75h4.5v4.5h-4.5zM446.75,52.45h4.5v4.5h-4.5zM448.68,53.22h4.5v4.5h-4.5zM450.25,64.75h4.5v4.5h-4.5zM454.75,53.75h4.5v4.5h-4.5zM456.43,52.86h4.5v4.5h-4.5zM459.01,53.36h4.5v4.5h-4.5zM461.59,52.44h4.5v4.5h-4.5zM464.17,54.61h4.5v4.5h-4.5zM466.75,51.55h4.5v4.5h-4.5zM469.34,50.86h4.5v4.5h-4.5zM471.92,51.71h4.5v4.5h-4.5zM474.5,51.2h4.5v4.5h-4.5zM477.08,52.07h4.5v4.5h-4.5zM478.85,50.95h4.5v4.5h-4.5zM482.25,51.96h4.5v4.5h-4.5zM484.83,51.07h4.5v4.5h-4.5zM487.41,51.02h4.5v4.5h-4.5zM491.15,54.45h4.5v4.5h-4.5zM492.57,52.26h4.5v4.5h-4.5zM495.16,53.4h4.5v4.5h-4.5zM497.74,54.42h4.5v4.5h-4.5zM499.85,63.65h4.5v4.5h-4.5zM502.9,53.05h4.5v4.5h-4.5zM505.48,53.18h4.5v4.5h-4.5zM508.07,53.11h4.5v4.5h-4.5zM511.05,67.75h4.5v4.5h-4.5zM513.05,63.65h4.5v4.5h-4.5zM515.65,58.55h4.5v4.5h-4.5zM517.75,53.45h4.5v4.5h-4.5zM520.98,51.03h4.5v4.5h-4.5zM523.35,56.55h4.5v4.5h-4.5zM526.14,51.71h4.5v4.5h-4.5zM528.45,56.55h4.5v4.5h-4.5zM531.3,52.5h4.5v4.5h-4.5zM533.89,51.1h4.5v4.5h-4.5zM536.47,51.87h4.5v4.5h-4.5zM539.05,53.24h4.5v4.5h-4.5zM541.63,50.86h4.5v4.5h-4.5zM544.21,52.33h4.5v4.5h-4.5zM546.95,61.65h4.5v4.5h-4.5zM549.38,51.8h4.5v4.5h-4.5zM551.05,52.95h4.5v4.5h-4.5zM554.54,51.74h4.5v4.5h-4.5zM557.12,53.53h4.5v4.5h-4.5zM559.25,69.35h4.5v4.5h-4.5zM562.25,57.05h4.5v4.5h-4.5zM564.87,52.74h4.5v4.5h-4.5zM566.85,66.75h4.5v4.5h-4.5zM570.03,53.68h4.5v4.5h-4.5zM572.62,53.1h4.5v4.5h-4.5zM575.2,53.48h4.5v4.5h-4.5zM577.78,53.2h4.5v4.5h-4.5zM580.65,61.65h4.5v4.5h-4.5zM582.94,51.65h4.5v4.5h-4.5zM585.53,53.45h4.5v4.5h-4.5zM588.11,51.23h4.5v4.5h-4.5zM590.69,52.41h4.5v4.5h-4.5zM593.27,51.32h4.5v4.5h-4.5zM595.85,51.33h4.5v4.5h-4.5zM598.05,52.45h4.5v4.5h-4.5zM601.02,51.79h4.5v4.5h-4.5zM603.6,52.36h4.5v4.5h-4.5zM606.18,51.15h4.5v4.5h-4.5zM608.76,51.02h4.5v4.5h-4.5zM611.35,51.03h4.5v4.5h-4.5zM613.93,51.9h4.5v4.5h-4.5zM617.75,54.75h4.5v4.5h-4.5zM619.09,51.76h4.5v4.5h-4.5zM621.67,52.69h4.5v4.5h-4.5zM624.26,52.45h4.5v4.5h-4.5zM625.75,55.75h4.5v4.5h-4.5zM629.42,52.45h4.5v4.5h-4.5zM632.75,55.25h4.5v4.5h-4.5zM634.58,53.65h4.5v4.5h-4.5zM637.17,54.79h4.5v4.5h-4.5zM639.75,53.55h4.5v4.5h-4.5zM642.75,55.75h4.5v4.5h-4.5zM644.91,53.14h4.5v4.5h-4.5zM647.49,52.43h4.5v4.5h-4.5zM650.08,51.46h4.5v4.5h-4.5zM652.75,54.75h4.5v4.5h-4.5zM655.24,51.42h4.5v4.5h-4.5zM657.82,52.15h4.5v4.5h-4.5zM660.4,50.81h4.5v4.5h-4.5zM662.99,52.57h4.5v4.5h-4.5zM665.57,51.69h4.5v4.5h-4.5zM668.15,50.94h4.5v4.5h-4.5z" fill="none" stroke="#00ee00" stroke-width="0.85"/>
<path d="M409.7,100.96l5,5m0,-5l-5,5M412.28,96.77l5,5m0,-5l-5,5M414.86,98.1l5,5m0,-5l-5,5M417.45,97.92l5,5m0,-5l-5,5M420.03,97.58l5,5m0,-5l-5,5M422.61,97.45l5,5m0,-5l-5,5M425.19,98.45l5,5m0,-5l-5,5M427.77,97.96l5,5m0,-5l-5,5M430.36,98.61l5,5m0,-5l-5,5M432.94,98.51l5,5m0,-5l-5,5M435.52,98.42l5,5m0,-5l-5,5M438.1,98.24l5,5m0,-5l-5,5M440.68,97.56l5,5m0,-5l-5,5M443.27,96.86l5,5m0,-5l-5,5M445.85,95.29l5,5m0,-5l-5,5M448.43,94.17l5,5m0,-5l-5,5M451.01,92.82l5,5m0,-5l-5,5M453.59,91.11l5,5m0,-5l-5,5M456.18,90.6l5,5m0,-5l-5,5M458.76,88.83l5,5m0,-5l-5,5M461.34,87.28l5,5m0,-5l-5,5M463.92,86.05l5,5m0,-5l-5,5M466.5,84.88l5,5m0,-5l-5,5M469.09,83.64l5,5m0,-5l-5,5M471.67,82.45l5,5m0,-5l-5,5M474.25,81.3l5,5m0,-5l-5,5M476.83,82.11l5,5m0,-5l-5,5M479.41,83.31l5,5m0,-5l-5,5M482,84.38l5,5m0,-5l-5,5M484.58,84.94l5,5m0,-5l-5,5M487.16,85.77l5,5m0,-5l-5,5M489.74,86.65l5,5m0,-5l-5,5M492.32,87.47l5,5m0,-5l-5,5M494.91,88.62l5,5m0,-5l-5,5M497.49,89.52l5,5m0,-5l-5,5M500.07,90.16l5,5m0,-5l-5,5M502.65,90.75l5,5m0,-5l-5,5M505.23,90.97l5,5m0,-5l-5,5M507.82,89.62l5,5m0,-5l-5,5M510.4,88.8l5,5m0,-5l-5,5M512.98,87.25l5,5m0,-5l-5,5M515.56,86.47l5,5m0,-5l-5,5M518.14,85.55l5,5m0,-5l-5,5M520.73,84.85l5,5m0,-5l-5,5M523.31,83.63l5,5m0,-5l-5,5M525.89,81.92l5,5m0,-5l-5,5M528.47,81.41l5,5m0,-5l-5,5M531.05,80.32l5,5m0,-5l-5,5M533.64,78.94l5,5m0,-5l-5,5M536.22,77.91l5,5m0,-5l-5,5M538.8,76.86l5,5m0,-5l-5,5M541.38,77.91l5,5m0,-5l-5,5M543.96,78.93l5,5m0,-5l-5,5M546.55,79.62l5,5m0,-5l-5,5M549.13,80.7l5,5m0,-5l-5,5M551.71,81.8l5,5m0,-5l-5,5M554.29,83.17l5,5m0,-5l-5,5M556.87,83.67l5,5m0,-5l-5,5M559.46,84.41l5,5m0,-5l-5,5M562.04,85.63l5,5m0,-5l-5,5M564.62,86.41l5,5m0,-5l-5,5M567.2,86.86l5,5m0,-5l-5,5M569.78,88.3l5,5m0,-5l-5,5M572.37,87.16l5,5m0,-5l-5,5M574.95,86.55l5,5m0,-5l-5,5M577.53,84.8l5,5m0,-5l-5,5M580.11,83.34l5,5m0,-5l-5,5M582.69,82.78l5,5m0,-5l-5,5M585.28,81.93l5,5m0,-5l-5,5M587.86,80.61l5,5m0,-5l-5,5M590.44,80.09l5,5m0,-5l-5,5M593.02,78.36l5,5m0,-5l-5,5M595.6,77.46l5,5m0,-5l-5,5M598.19,77.53l5,5m0,-5l-5,5M600.77,75.2l5,5m0,-5l-5,5M603.35,74.48l5,5m0,-5l-5,5M605.93,74.84l5,5m0,-5l-5,5M608.51,75.83l5,5m0,-5l-5,5M611.1,76.65l5,5m0,-5l-5,5M613.68,77.08l5,5m0,-5l-5,5M616.26,78.25l5,5m0,-5l-5,5M618.84,79.43l5,5m0,-5l-5,5M621.42,79.65l5,5m0,-5l-5,5M624.01,81.5l5,5m0,-5l-5,5M626.59,82.75l5,5m0,-5l-5,5M629.17,83.33l5,5m0,-5l-5,5M631.75,83.77l5,5m0,-5l-5,5M634.33,84.98l5,5m0,-5l-5,5M636.92,84.67l5,5m0,-5l-5,5M639.5,84.56l5,5m0,-5l-5,5M642.08,83.49l5,5m0,-5l-5,5M644.66,82.54l5,5m0,-5l-5,5M647.24,81.3l5,5m0,-5l-5,5M649.83,79.46l5,5m0,-5l-5,5M652.41,79.09l5,5m0,-5l-5,5M654.99,77.37l5,5m0,-5l-5,5M657.57,76.54l5,5m0,-5l-5,5M660.15,75.97l5,5m0,-5l-5,5M662.74,74.87l5,5m0,-5l-5,5M665.32,73.15l5,5m0,-5l-5,5M667.9,72.26l5,5m0,-5l-5,5" fill="none" stroke="#1a1a1a" stroke-width="0.8"/>
<path d="M409.2,163.17a3,3 0 1 0 6 0a3,3 0 1 0 -6 0M411.78,162.95a3,3 0 1 0 6 0a3,3 0 1 0 -6 0M414.36,163.11a3,3 0 1 0 6 0a3,3 0 1 0 -6 0M416.95,163.03a3,3 0 1 0 6 0a3,3 0 1 0 -6 0M419.53,163.12a3,3 0 1 0 6 0a3,3 0 1 0 -6 0M422.11,163.03a3,3 0 1 0 6 0a3,3 0 1 0 -6 0M424.69,163.23a3,3 0 1 0 6 0a3,3 0 1 0 -6 0M427.27,163.13a3,3 0 1 0 6 0a3,3 0 1 0 -6 0M429.86,163a3,3 0 1 0 6 0a3,3 0 1 0 -6 0M432.44,162.96a3,3 0 1 0 6 0a3,3 0 1 0 -6 0M435.02,163.02a3,3 0 1 0 6 0a3,3 0 1 0 -6 0M437.6,163.11a3,3 0 1 0 6 0a3,3 0 1 0 -6 0M440.18,162.98a3,3 0 1 0 6 0a3,3 0 1 0 -6 0M442.77,163.04a3,3 0 1 0 6 0a3,3 0 1 0 -6 0M445.35,163.19a3,3 0 1 0 6 0a3,3 0 1 0 -6 0M447.93,163.1a3,3 0 1 0 6 0a3,3 0 1 0 -6 0M450.51,162.95a3,3 0 1 0 6 0a3,3 0 1 0 -6 0M453.09,163.23a3,3 0 1 0 6 0a3,3 0 1 0 -6 0M455.68,163.43a3,3 0 1 0 6 0a3,3 0 1 0 -6 0M458.26,163.04a3,3 0 1 0 6 0a3,3 0 1 0 -6 0M460.84,163a3,3 0 1 0 6 0a3,3 0 1 0 -6 0M463.42,163.05a3,3 0 1 0 6 0a3,3 0 1 0 -6 0M466,163.23a3,3 0 1 0 6 0a3,3 0 1 0 -6 0M468.59,162.93a3,3 0 1 0 6 0a3,3 0 1 0 -6 0M471.17,163.19a3,3 0 1 0 6 0a3,3 0 1 0 -6 0M473.75,163.08a3,3 0 1 0 6 0a3,3 0 1 0 -6 0M476.33,163.26a3,3 0 1 0 6 0a3,3 0 1 0 -6 0M478.91,163.1a3,3 0 1 0 6 0a3,3 0 1 0 -6 0M481.5,163.05a3,3 0 1 0 6 0a3,3 0 1 0 -6 0M484.08,163.03a3,3 0 1 0 6 0a3,3 0 1 0 -6 0M486.66,163.16a3,3 0 1 0 6 0a3,3 0 1 0 -6 0M489.24,163.07a3,3 0 1 0 6 0a3,3 0 1 0 -6 0M491.82,163a3,3 0 1 0 6 0a3,3 0 1 0 -6 0M494.41,162.85a3,3 0 1 0 6 0a3,3 0 1 0 -6 0M496.99,163.13a3,3 0 1 0 6 0a3,3 0 1 0 -6 0M499.57,163.02a3,3 0 1 0 6 0a3,3 0 1 0 -6 0M502.15,163.33a3,3 0 1 0 6 0a3,3 0 1 0 -6 0M504.73,163.07a3,3 0 1 0 6 0a3,3 0 1 0 -6 0M507.32,163.32a3,3 0 1 0 6 0a3,3 0 1 0 -6 0M509.9,163.09a3,3 0 1 0 6 0a3,3 0 1 0 -6 0M512.48,163.18a3,3 0 1 0 6 0a3,3 0 1 0 -6 0M515.06,163.07a3,3 0 1 0 6 0a3,3 0 1 0 -6 0M517.64,163.12a3,3 0 1 0 6 0a3,3 0 1 0 -6 0M520.23,163.19a3,3 0 1 0 6 0a3,3 0 1 0 -6 0M522.81,163.03a3,3 0 1 0 6 0a3,3 0 1 0 -6 0M525.39,163.11a3,3 0 1 0 6 0a3,3 0 1 0 -6 0M527.97,163.29a3,3 0 1 0 6 0a3,3 0 1 0 -6 0M530.55,162.97a3,3 0 1 0 6 0a3,3 0 1 0 -6 0M533.14,163.05a3,3 0 1 0 6 0a3,3 0 1 0 -6 0M535.72,163.18a3,3 0 1 0 6 0a3,3 0 1 0 -6 0M538.3,163.15a3,3 0 1 0 6 0a3,3 0 1 0 -6 0M540.88,163.16a3,3 0 1 0 6 0a3,3 0 1 0 -6 0M543.46,163.08a3,3 0 1 0 6 0a3,3 0 1 0 -6 0M546.05,163.2a3,3 0 1 0 6 0a3,3 0 1 0 -6 0M548.63,163.09a3,3 0 1 0 6 0a3,3 0 1 0 -6 0M551.21,163.06a3,3 0 1 0 6 0a3,3 0 1 0 -6 0M553.79,162.9a3,3 0 1 0 6 0a3,3 0 1 0 -6 0M556.37,163.02a3,3 0 1 0 6 0a3,3 0 1 0 -6 0M558.96,163.11a3,3 0 1 0 6 0a3,3 0 1 0 -6 0M561.54,163.27a3,3 0 1 0 6 0a3,3 0 1 0 -6 0M564.12,163.08a3,3 0 1 0 6 0a3,3 0 1 0 -6 0M566.7,163.35a3,3 0 1 0 6 0a3,3 0 1 0 -6 0M569.28,162.99a3,3 0 1 0 6 0a3,3 0 1 0 -6 0M571.87,163.1a3,3 0 1 0 6 0a3,3 0 1 0 -6 0M574.45,163.23a3,3 0 1 0 6 0a3,3 0 1 0 -6 0M577.03,163.03a3,3 0 1 0 6 0a3,3 0 1 0 -6 0M579.61,163.04a3,3 0 1 0 6 0a3,3 0 1 0 -6 0M582.19,163.15a3,3 0 1 0 6 0a3,3 0 1 0 -6 0M584.78,163.18a3,3 0 1 0 6 0a3,3 0 1 0 -6 0M587.36,163.17a3,3 0 1 0 6 0a3,3 0 1 0 -6 0M589.94,163.34a3,3 0 1 0 6 0a3,3 0 1 0 -6 0M592.52,163.14a3,3 0 1 0 6 0a3,3 0 1 0 -6 0M595.1,163.28a3,3 0 1 0 6 0a3,3 0 1 0 -6 0M597.69,162.96a3,3 0 1 0 6 0a3,3 0 1 0 -6 0M600.27,162.99a3,3 0 1 0 6 0a3,3 0 1 0 -6 0M602.85,163.11a3,3 0 1 0 6 0a3,3 0 1 0 -6 0M605.43,163.08a3,3 0 1 0 6 0a3,3 0 1 0 -6 0M608.01,163.16a3,3 0 1 0 6 0a3,3 0 1 0 -6 0M610.6,163.08a3,3 0 1 0 6 0a3,3 0 1 0 -6 0M613.18,163.2a3,3 0 1 0 6 0a3,3 0 1 0 -6 0M615.76,163.02a3,3 0 1 0 6 0a3,3 0 1 0 -6 0M618.34,163.1a3,3 0 1 0 6 0a3,3 0 1 0 -6 0M620.92,162.96a3,3 0 1 0 6 0a3,3 0 1 0 -6 0M623.51,163.08a3,3 0 1 0 6 0a3,3 0 1 0 -6 0M626.09,163.2a3,3 0 1 0 6 0a3,3 0 1 0 -6 0M628.67,163.22a3,3 0 1 0 6 0a3,3 0 1 0 -6 0M631.25,163.27a3,3 0 1 0 6 0a3,3 0 1 0 -6 0M633.83,162.99a3,3 0 1 0 6 0a3,3 0 1 0 -6 0M636.42,163.01a3,3 0 1 0 6 0a3,3 0 1 0 -6 0M639,163.08a3,3 0 1 0 6 0a3,3 0 1 0 -6 0M641.58,163.08a3,3 0 1 0 6 0a3,3 0 1 0 -6 0M644.16,163.01a3,3 0 1 0 6 0a3,3 0 1 0 -6 0M646.74,163.16a3,3 0 1 0 6 0a3,3 0 1 0 -6 0M649.33,163.02a3,3 0 1 0 6 0a3,3 0 1 0 -6 0M651.91,163.17a3,3 0 1 0 6 0a3,3 0 1 0 -6 0M654.49,163.3a3,3 0 1 0 6 0a3,3 0 1 0 -6 0M657.07,163.12a3,3 0 1 0 6 0a3,3 0 1 0 -6 0M659.65,163.19a3,3 0 1 0 6 0a3,3 0 1 0 -6 0M662.24,163.06a3,3 0 1 0 6 0a3,3 0 1 0 -6 0M664.82,162.99a3,3 0 1 0 6 0a3,3 0 1 0 -6 0M667.4,162.89a3,3 0 1 0 6 0a3,3 0 1 0 -6 0" fill="none" stroke="#1414e6" stroke-width="0.85"/>
<path d="M412.2,167.01l3.05,5.4h-6.1zM414.78,167.11l3.05,5.4h-6.1zM417.36,166.46l3.05,5.4h-6.1zM419.95,166.66l3.05,5.4h-6.1zM422.53,166.75l3.05,5.4h-6.1zM425.11,166.67l3.05,5.4h-6.1zM427.69,166.72l3.05,5.4h-6.1zM430.27,166.91l3.05,5.4h-6.1zM432.86,166.78l3.05,5.4h-6.1zM435.44,166.92l3.05,5.4h-6.1zM438.02,166.57l3.05,5.4h-6.1zM440.6,166.75l3.05,5.4h-6.1zM443.18,167.06l3.05,5.4h-6.1zM445.77,166.71l3.05,5.4h-6.1zM448.35,166.55l3.05,5.4h-6.1zM450.93,166.72l3.05,5.4h-6.1zM453.51,166.79l3.05,5.4h-6.1zM456.09,166.43l3.05,5.4h-6.1zM458.68,166.84l3.05,5.4h-6.1zM461.26,166.91l3.05,5.4h-6.1zM463.84,166.73l3.05,5.4h-6.1zM466.42,166.78l3.05,5.4h-6.1zM469,166.77l3.05,5.4h-6.1zM471.59,166.76l3.05,5.4h-6.1zM474.17,166.61l3.05,5.4h-6.1zM476.75,166.71l3.05,5.4h-6.1zM479.33,166.88l3.05,5.4h-6.1zM481.91,166.9l3.05,5.4h-6.1zM484.5,166.86l3.05,5.4h-6.1zM487.08,166.66l3.05,5.4h-6.1zM489.66,166.87l3.05,5.4h-6.1zM492.24,166.93l3.05,5.4h-6.1zM494.82,166.99l3.05,5.4h-6.1zM497.41,166.89l3.05,5.4h-6.1zM499.99,166.81l3.05,5.4h-6.1zM502.57,166.78l3.05,5.4h-6.1zM505.15,166.89l3.05,5.4h-6.1zM507.73,166.94l3.05,5.4h-6.1zM510.32,166.46l3.05,5.4h-6.1zM512.9,166.67l3.05,5.4h-6.1zM515.48,166.83l3.05,5.4h-6.1zM518.06,166.94l3.05,5.4h-6.1zM520.64,166.59l3.05,5.4h-6.1zM523.23,166.6l3.05,5.4h-6.1zM525.81,166.52l3.05,5.4h-6.1zM528.39,166.98l3.05,5.4h-6.1zM530.97,166.89l3.05,5.4h-6.1zM533.55,166.76l3.05,5.4h-6.1zM536.14,167.19l3.05,5.4h-6.1zM538.72,167.09l3.05,5.4h-6.1zM541.3,166.92l3.05,5.4h-6.1zM543.88,166.84l3.05,5.4h-6.1zM546.46,166.77l3.05,5.4h-6.1zM549.05,166.93l3.05,5.4h-6.1zM551.63,166.68l3.05,5.4h-6.1zM554.21,166.94l3.05,5.4h-6.1zM556.79,166.7l3.05,5.4h-6.1zM559.37,166.93l3.05,5.4h-6.1zM561.96,166.78l3.05,5.4h-6.1zM564.54,166.87l3.05,5.4h-6.1zM567.12,167l3.05,5.4h-6.1zM569.7,166.91l3.05,5.4h-6.1zM572.28,166.78l3.05,5.4h-6.1zM574.87,166.75l3.05,5.4h-6.1zM577.45,166.69l3.05,5.4h-6.1zM580.03,166.66l3.05,5.4h-6.1zM582.61,166.95l3.05,5.4h-6.1zM585.19,166.82l3.05,5.4h-6.1zM587.78,166.63l3.05,5.4h-6.1zM590.36,167l3.05,5.4h-6.1zM592.94,166.71l3.05,5.4h-6.1zM595.52,167l3.05,5.4h-6.1zM598.1,166.85l3.05,5.4h-6.1zM600.69,166.91l3.05,5.4h-6.1zM603.27,166.82l3.05,5.4h-6.1zM605.85,166.65l3.05,5.4h-6.1zM608.43,166.77l3.05,5.4h-6.1zM611.01,166.74l3.05,5.4h-6.1zM613.6,166.66l3.05,5.4h-6.1zM616.18,166.87l3.05,5.4h-6.1zM618.76,166.62l3.05,5.4h-6.1zM621.34,166.63l3.05,5.4h-6.1zM623.92,166.69l3.05,5.4h-6.1zM626.51,166.61l3.05,5.4h-6.1zM629.09,166.8l3.05,5.4h-6.1zM631.67,166.89l3.05,5.4h-6.1zM634.25,166.8l3.05,5.4h-6.1zM636.83,166.76l3.05,5.4h-6.1zM639.42,166.9l3.05,5.4h-6.1zM642,166.88l3.05,5.4h-6.1zM644.58,167.02l3.05,5.4h-6.1zM647.16,166.72l3.05,5.4h-6.1zM649.74,166.83l3.05,5.4h-6.1zM652.33,166.75l3.05,5.4h-6.1zM654.91,166.72l3.05,5.4h-6.1zM657.49,166.77l3.05,5.4h-6.1zM660.07,166.9l3.05,5.4h-6.1zM662.65,166.72l3.05,5.4h-6.1zM665.24,166.64l3.05,5.4h-6.1zM667.82,167.03l3.05,5.4h-6.1zM670.4,166.82l3.05,5.4h-6.1z" fill="none" stroke="#ff0000" stroke-width="0.85"/>
<path d="M411.85,174.95h4.5v4.5h-4.5zM413.35,174.35h4.5v4.5h-4.5zM418.45,174.95h4.5v4.5h-4.5zM422.55,175.45h4.5v4.5h-4.5zM424.65,178.45h4.5v4.5h-4.5zM426.65,177.45h4.5v4.5h-4.5zM430.75,176.95h4.5v4.5h-4.5zM432.75,181.05h4.5v4.5h-4.5zM434.85,183.05h4.5v4.5h-4.5zM437.85,182.05h4.5v4.5h-4.5zM440.45,178.95h4.5v4.5h-4.5zM442.95,177.95h4.5v4.5h-4.5zM445.55,186.65h4.5v4.5h-4.5zM448.65,180.05h4.5v4.5h-4.5zM450.65,190.75h4.5v4.5h-4.5zM453.25,178.95h4.5v4.5h-4.5zM456.75,181.55h4.5v4.5h-4.5zM459.35,181.55h4.5v4.5h-4.5zM462.95,181.05h4.5v4.5h-4.5zM466.45,180.55h4.5v4.5h-4.5zM469.05,182.05h4.5v4.5h-4.5zM471.55,181.05h4.5v4.5h-4.5zM474.65,181.05h4.5v4.5h-4.5zM477.35,181.55h4.5v4.5h-4.5zM479.35,186.15h4.5v4.5h-4.5zM482.95,182.05h4.5v4.5h-4.5zM486.05,182.05h4.5v4.5h-4.5zM489.05,183.05h4.5v4.5h-4.5zM491.65,186.15h4.5v4.5h-4.5zM494.25,184.05h4.5v4.5h-4.5zM497.25,182.05h4.5v4.5h-4.5zM499.85,192.25h4.5v4.5h-4.5zM502.35,183.05h4.5v4.5h-4.5zM505.45,183.05h4.5v4.5h-4.5zM507.45,188.65h4.5v4.5h-4.5zM510.55,195.85h4.5v4.5h-4.5zM513.05,193.75h4.5v4.5h-4.5zM515.15,189.25h4.5v4.5h-4.5zM517.65,185.15h4.5v4.5h-4.5zM520.25,182.55h4.5v4.5h-4.5zM522.75,188.65h4.5v4.5h-4.5zM525.85,184.65h4.5v4.5h-4.5zM528.45,190.25h4.5v4.5h-4.5zM531.45,184.65h4.5v4.5h-4.5zM534.05,182.55h4.5v4.5h-4.5zM537.15,182.55h4.5v4.5h-4.5zM540.15,182.95h4.5v4.5h-4.5zM542.85,182.95h4.5v4.5h-4.5zM546.95,195.75h4.5v4.5h-4.5zM548.95,185.05h4.5v4.5h-4.5zM551.55,188.05h4.5v4.5h-4.5zM554.05,185.55h4.5v4.5h-4.5zM557.15,184.45h4.5v4.5h-4.5zM559.25,199.35h4.5v4.5h-4.5zM562.25,189.65h4.5v4.5h-4.5zM565.35,190.65h4.5v4.5h-4.5zM566.85,197.75h4.5v4.5h-4.5zM569.95,187.55h4.5v4.5h-4.5zM572.95,183.45h4.5v4.5h-4.5zM575.05,189.05h4.5v4.5h-4.5zM577.55,185.55h4.5v4.5h-4.5zM580.65,193.65h4.5v4.5h-4.5zM582.65,183.95h4.5v4.5h-4.5zM585.75,186.55h4.5v4.5h-4.5zM588.85,186.05h4.5v4.5h-4.5zM591.85,186.05h4.5v4.5h-4.5zM594.95,186.05h4.5v4.5h-4.5zM598.05,189.65h4.5v4.5h-4.5zM600.05,185.05h4.5v4.5h-4.5zM603.65,185.55h4.5v4.5h-4.5zM606.25,186.73h4.5v4.5h-4.5zM608.83,186.89h4.5v4.5h-4.5zM611.41,185.12h4.5v4.5h-4.5zM613.99,187.38h4.5v4.5h-4.5zM616.57,186.61h4.5v4.5h-4.5zM619.15,185.75h4.5v4.5h-4.5zM621.73,186.51h4.5v4.5h-4.5zM624.31,184.14h4.5v4.5h-4.5zM626.89,188.19h4.5v4.5h-4.5zM629.47,186.84h4.5v4.5h-4.5zM632.05,187.44h4.5v4.5h-4.5zM634.63,185.9h4.5v4.5h-4.5zM637.21,187.34h4.5v4.5h-4.5zM639.79,187.01h4.5v4.5h-4.5zM642.37,184.71h4.5v4.5h-4.5zM644.95,186.54h4.5v4.5h-4.5zM647.53,189.23h4.5v4.5h-4.5zM650.11,186.79h4.5v4.5h-4.5zM652.69,187.22h4.5v4.5h-4.5zM655.27,187.57h4.5v4.5h-4.5zM657.85,188.25h4.5v4.5h-4.5zM660.43,187.05h4.5v4.5h-4.5zM663.01,184.71h4.5v4.5h-4.5zM665.59,187.44h4.5v4.5h-4.5zM668.17,187.85h4.5v4.5h-4.5z" fill="none" stroke="#00ee00" stroke-width="0.85"/>
<path d="M409.7,207.22l5,5m0,-5l-5,5M412.28,207.55l5,5m0,-5l-5,5M414.86,208.08l5,5m0,-5l-5,5M417.45,208.18l5,5m0,-5l-5,5M420.03,208.13l5,5m0,-5l-5,5M422.61,209.23l5,5m0,-5l-5,5M425.19,210.15l5,5m0,-5l-5,5M427.77,208.94l5,5m0,-5l-5,5M430.36,208.52l5,5m0,-5l-5,5M432.94,208.46l5,5m0,-5l-5,5M435.52,207.3l5,5m0,-5l-5,5M438.1,207.21l5,5m0,-5l-5,5M440.68,206.44l5,5m0,-5l-5,5M443.27,206.07l5,5m0,-5l-5,5M445.85,205.91l5,5m0,-5l-5,5M448.43,205.94l5,5m0,-5l-5,5M451.01,205.95l5,5m0,-5l-5,5M453.59,205.17l5,5m0,-5l-5,5M456.18,205.22l5,5m0,-5l-5,5M458.76,204.73l5,5m0,-5l-5,5M461.34,204.13l5,5m0,-5l-5,5M463.92,204.16l5,5m0,-5l-5,5M466.5,203.35l5,5m0,-5l-5,5M469.09,203.71l5,5m0,-5l-5,5M471.67,203.75l5,5m0,-5l-5,5M474.25,204.28l5,5m0,-5l-5,5M476.83,203.56l5,5m0,-5l-5,5M479.41,203.37l5,5m0,-5l-5,5M482,203.7l5,5m0,-5l-5,5M484.58,202.94l5,5m0,-5l-5,5M487.16,203.21l5,5m0,-5l-5,5M489.74,204.06l5,5m0,-5l-5,5M492.32,203.82l5,5m0,-5l-5,5M494.91,203.61l5,5m0,-5l-5,5M497.49,203.97l5,5m0,-5l-5,5M500.07,203.36l5,5m0,-5l-5,5M502.65,204.36l5,5m0,-5l-5,5M505.23,204.04l5,5m0,-5l-5,5M507.82,204.6l5,5m0,-5l-5,5M510.4,204.72l5,5m0,-5l-5,5M512.98,205.16l5,5m0,-5l-5,5M515.56,205.14l5,5m0,-5l-5,5M518.14,204.97l5,5m0,-5l-5,5M520.73,205.03l5,5m0,-5l-5,5M523.31,205.47l5,5m0,-5l-5,5M525.89,206.39l5,5m0,-5l-5,5M528.47,206.31l5,5m0,-5l-5,5M531.05,206.15l5,5m0,-5l-5,5M533.64,207.32l5,5m0,-5l-5,5M536.22,207.03l5,5m0,-5l-5,5M538.8,206.75l5,5m0,-5l-5,5M541.38,206.64l5,5m0,-5l-5,5M543.96,207.27l5,5m0,-5l-5,5M546.55,206.89l5,5m0,-5l-5,5M549.13,206.33l5,5m0,-5l-5,5M551.71,206.52l5,5m0,-5l-5,5M554.29,205.69l5,5m0,-5l-5,5M556.87,206.46l5,5m0,-5l-5,5M559.46,205.49l5,5m0,-5l-5,5M562.04,205.23l5,5m0,-5l-5,5M564.62,204.44l5,5m0,-5l-5,5M567.2,203.91l5,5m0,-5l-5,5M569.78,203.77l5,5m0,-5l-5,5M572.37,203.06l5,5m0,-5l-5,5M574.95,202.33l5,5m0,-5l-5,5M577.53,202.71l5,5m0,-5l-5,5M580.11,202.01l5,5m0,-5l-5,5M582.69,201.28l5,5m0,-5l-5,5M585.28,201.55l5,5m0,-5l-5,5M587.86,201.06l5,5m0,-5l-5,5M590.44,200.78l5,5m0,-5l-5,5M593.02,200.18l5,5m0,-5l-5,5M595.6,200.64l5,5m0,-5l-5,5M598.19,199.86l5,5m0,-5l-5,5M600.77,200.22l5,5m0,-5l-5,5M603.35,201.01l5,5m0,-5l-5,5M605.93,200.64l5,5m0,-5l-5,5M608.51,199.92l5,5m0,-5l-5,5M611.1,200l5,5m0,-5l-5,5M613.68,200.26l5,5m0,-5l-5,5M616.26,200.41l5,5m0,-5l-5,5M618.84,199.98l5,5m0,-5l-5,5M621.42,199.93l5,5m0,-5l-5,5M624.01,200.15l5,5m0,-5l-5,5M626.59,200.29l5,5m0,-5l-5,5M629.17,199.35l5,5m0,-5l-5,5M631.75,199.67l5,5m0,-5l-5,5M634.33,200.13l5,5m0,-5l-5,5M636.92,199.91l5,5m0,-5l-5,5M639.5,199.23l5,5m0,-5l-5,5M642.08,198.84l5,5m0,-5l-5,5M644.66,199.88l5,5m0,-5l-5,5M647.24,199.25l5,5m0,-5l-5,5M649.83,199.26l5,5m0,-5l-5,5M652.41,198.96l5,5m0,-5l-5,5M654.99,199.32l5,5m0,-5l-5,5M657.57,199.27l5,5m0,-5l-5,5M660.15,199.3l5,5m0,-5l-5,5M662.74,198.33l5,5m0,-5l-5,5M665.32,198.63l5,5m0,-5l-5,5M667.9,199l5,5m0,-5l-5,5" fill="none" stroke="#1a1a1a" stroke-width="0.8"/>
<path d="M409.2,263.26a3,3 0 1 0 6 0a3,3 0 1 0 -6 0M411.78,261.37a3,3 0 1 0 6 0a3,3 0 1 0 -6 0M414.36,260.32a3,3 0 1 0 6 0a3,3 0 1 0 -6 0M416.95,259.46a3,3 0 1 0 6 0a3,3 0 1 0 -6 0M419.53,258.59a3,3 0 1 0 6 0a3,3 0 1 0 -6 0M422.11,257.99a3,3 0 1 0 6 0a3,3 0 1 0 -6 0M424.69,257.36a3,3 0 1 0 6 0a3,3 0 1 0 -6 0M427.27,257.46a3,3 0 1 0 6 0a3,3 0 1 0 -6 0M429.86,257.42a3,3 0 1 0 6 0a3,3 0 1 0 -6 0M432.44,256.95a3,3 0 1 0 6 0a3,3 0 1 0 -6 0M435.02,256.87a3,3 0 1 0 6 0a3,3 0 1 0 -6 0M437.6,256.71a3,3 0 1 0 6 0a3,3 0 1 0 -6 0M440.18,256.84a3,3 0 1 0 6 0a3,3 0 1 0 -6 0M442.77,256.82a3,3 0 1 0 6 0a3,3 0 1 0 -6 0M445.35,256.99a3,3 0 1 0 6 0a3,3 0 1 0 -6 0M447.93,256.93a3,3 0 1 0 6 0a3,3 0 1 0 -6 0M450.51,257a3,3 0 1 0 6 0a3,3 0 1 0 -6 0M453.09,257.07a3,3 0 1 0 6 0a3,3 0 1 0 -6 0M455.68,257.65a3,3 0 1 0 6 0a3,3 0 1 0 -6 0M458.26,257.87a3,3 0 1 0 6 0a3,3 0 1 0 -6 0M460.84,258.42a3,3 0 1 0 6 0a3,3 0 1 0 -6 0M463.42,259.08a3,3 0 1 0 6 0a3,3 0 1 0 -6 0M466,260.12a3,3 0 1 0 6 0a3,3 0 1 0 -6 0M468.59,261.67a3,3 0 1 0 6 0a3,3 0 1 0 -6 0M471.17,264.2a3,3 0 1 0 6 0a3,3 0 1 0 -6 0M473.75,274.6a3,3 0 1 0 6 0a3,3 0 1 0 -6 0M476.33,264.2a3,3 0 1 0 6 0a3,3 0 1 0 -6 0M478.91,261.89a3,3 0 1 0 6 0a3,3 0 1 0 -6 0M481.5,260.13a3,3 0 1 0 6 0a3,3 0 1 0 -6 0M484.08,259.38a3,3 0 1 0 6 0a3,3 0 1 0 -6 0M486.66,258.59a3,3 0 1 0 6 0a3,3 0 1 0 -6 0M489.24,257.8a3,3 0 1 0 6 0a3,3 0 1 0 -6 0M491.82,257.83a3,3 0 1 0 6 0a3,3 0 1 0 -6 0M494.41,257.1a3,3 0 1 0 6 0a3,3 0 1 0 -6 0M496.99,256.75a3,3 0 1 0 6 0a3,3 0 1 0 -6 0M499.57,256.95a3,3 0 1 0 6 0a3,3 0 1 0 -6 0M502.15,256.78a3,3 0 1 0 6 0a3,3 0 1 0 -6 0M504.73,256.93a3,3 0 1 0 6 0a3,3 0 1 0 -6 0M507.32,256.79a3,3 0 1 0 6 0a3,3 0 1 0 -6 0M509.9,256.9a3,3 0 1 0 6 0a3,3 0 1 0 -6 0M512.48,257.1a3,3 0 1 0 6 0a3,3 0 1 0 -6 0M515.06,257.34a3,3 0 1 0 6 0a3,3 0 1 0 -6 0M517.64,257.27a3,3 0 1 0 6 0a3,3 0 1 0 -6 0M520.23,257.57a3,3 0 1 0 6 0a3,3 0 1 0 -6 0M522.81,258.48a3,3 0 1 0 6 0a3,3 0 1 0 -6 0M525.39,259.04a3,3 0 1 0 6 0a3,3 0 1 0 -6 0M527.97,259.61a3,3 0 1 0 6 0a3,3 0 1 0 -6 0M530.55,260.38a3,3 0 1 0 6 0a3,3 0 1 0 -6 0M533.14,262a3,3 0 1 0 6 0a3,3 0 1 0 -6 0M535.72,264.41a3,3 0 1 0 6 0a3,3 0 1 0 -6 0M538.3,271.6a3,3 0 1 0 6 0a3,3 0 1 0 -6 0M540.88,264.34a3,3 0 1 0 6 0a3,3 0 1 0 -6 0M543.46,262.14a3,3 0 1 0 6 0a3,3 0 1 0 -6 0M546.05,260.54a3,3 0 1 0 6 0a3,3 0 1 0 -6 0M548.63,259.59a3,3 0 1 0 6 0a3,3 0 1 0 -6 0M551.21,258.71a3,3 0 1 0 6 0a3,3 0 1 0 -6 0M553.79,258.63a3,3 0 1 0 6 0a3,3 0 1 0 -6 0M556.37,257.63a3,3 0 1 0 6 0a3,3 0 1 0 -6 0M558.96,257.65a3,3 0 1 0 6 0a3,3 0 1 0 -6 0M561.54,257.39a3,3 0 1 0 6 0a3,3 0 1 0 -6 0M564.12,257.17a3,3 0 1 0 6 0a3,3 0 1 0 -6 0M566.7,256.96a3,3 0 1 0 6 0a3,3 0 1 0 -6 0M569.28,256.83a3,3 0 1 0 6 0a3,3 0 1 0 -6 0M571.87,256.95a3,3 0 1 0 6 0a3,3 0 1 0 -6 0M574.45,257.03a3,3 0 1 0 6 0a3,3 0 1 0 -6 0M577.03,257.22a3,3 0 1 0 6 0a3,3 0 1 0 -6 0M579.61,257.76a3,3 0 1 0 6 0a3,3 0 1 0 -6 0M582.19,257.53a3,3 0 1 0 6 0a3,3 0 1 0 -6 0M584.78,258.29a3,3 0 1 0 6 0a3,3 0 1 0 -6 0M587.36,258.32a3,3 0 1 0 6 0a3,3 0 1 0 -6 0M589.94,259.03a3,3 0 1 0 6 0a3,3 0 1 0 -6 0M592.52,259.81a3,3 0 1 0 6 0a3,3 0 1 0 -6 0M595.1,260.74a3,3 0 1 0 6 0a3,3 0 1 0 -6 0M597.69,262.23a3,3 0 1 0 6 0a3,3 0 1 0 -6 0M600.27,264.84a3,3 0 1 0 6 0a3,3 0 1 0 -6 0M602.85,270.6a3,3 0 1 0 6 0a3,3 0 1 0 -6 0M605.43,264.56a3,3 0 1 0 6 0a3,3 0 1 0 -6 0M608.01,262.14a3,3 0 1 0 6 0a3,3 0 1 0 -6 0M610.6,260.71a3,3 0 1 0 6 0a3,3 0 1 0 -6 0M613.18,259.75a3,3 0 1 0 6 0a3,3 0 1 0 -6 0M615.76,259.19a3,3 0 1 0 6 0a3,3 0 1 0 -6 0M618.34,258.88a3,3 0 1 0 6 0a3,3 0 1 0 -6 0M620.92,258.09a3,3 0 1 0 6 0a3,3 0 1 0 -6 0M623.51,258.02a3,3 0 1 0 6 0a3,3 0 1 0 -6 0M626.09,257.72a3,3 0 1 0 6 0a3,3 0 1 0 -6 0M628.67,257.49a3,3 0 1 0 6 0a3,3 0 1 0 -6 0M631.25,257.32a3,3 0 1 0 6 0a3,3 0 1 0 -6 0M633.83,257.44a3,3 0 1 0 6 0a3,3 0 1 0 -6 0M636.42,257.4a3,3 0 1 0 6 0a3,3 0 1 0 -6 0M639,257.36a3,3 0 1 0 6 0a3,3 0 1 0 -6 0M641.58,257.46a3,3 0 1 0 6 0a3,3 0 1 0 -6 0M644.16,257.48a3,3 0 1 0 6 0a3,3 0 1 0 -6 0M646.74,257.78a3,3 0 1 0 6 0a3,3 0 1 0 -6 0M649.33,258.58a3,3 0 1 0 6 0a3,3 0 1 0 -6 0M651.91,258.74a3,3 0 1 0 6 0a3,3 0 1 0 -6 0M654.49,259.27a3,3 0 1 0 6 0a3,3 0 1 0 -6 0M657.07,260.11a3,3 0 1 0 6 0a3,3 0 1 0 -6 0M659.65,260.95a3,3 0 1 0 6 0a3,3 0 1 0 -6 0M662.24,262.2a3,3 0 1 0 6 0a3,3 0 1 0 -6 0M664.82,264.97a3,3 0 1 0 6 0a3,3 0 1 0 -6 0M667.4,269.6a3,3 0 1 0 6 0a3,3 0 1 0 -6 0" fill="none" stroke="#1414e6" stroke-width="0.85"/>
<path d="M412.2,293.1l3.05,5.4h-6.1zM414.78,295.33l3.05,5.4h-6.1zM417.36,294.38l3.05,5.4h-6.1zM419.95,294.47l3.05,5.4h-6.1zM422.53,295.16l3.05,5.4h-6.1zM425.11,292.69l3.05,5.4h-6.1zM427.69,294.98l3.05,5.4h-6.1zM430.27,292.51l3.05,5.4h-6.1zM432.86,295.71l3.05,5.4h-6.1zM435.44,293.39l3.05,5.4h-6.1zM438.02,293.21l3.05,5.4h-6.1zM440.6,297l3.05,5.4h-6.1zM443.18,293.94l3.05,5.4h-6.1zM445.77,294.07l3.05,5.4h-6.1zM448.35,299.9l3.05,5.4h-6.1zM450.93,295.44l3.05,5.4h-6.1zM453.51,293.8l3.05,5.4h-6.1zM456.09,292.89l3.05,5.4h-6.1zM458.68,293.52l3.05,5.4h-6.1zM461.26,293.69l3.05,5.4h-6.1zM463.84,294.26l3.05,5.4h-6.1zM466.42,294.51l3.05,5.4h-6.1zM469,295.02l3.05,5.4h-6.1zM471.59,292.44l3.05,5.4h-6.1zM474.17,293.67l3.05,5.4h-6.1zM476.75,292.99l3.05,5.4h-6.1zM479.33,293.45l3.05,5.4h-6.1zM481.91,293.51l3.05,5.4h-6.1zM484.5,293.79l3.05,5.4h-6.1zM487.08,294.1l3.05,5.4h-6.1zM489.66,293.92l3.05,5.4h-6.1zM492.24,294.34l3.05,5.4h-6.1zM494.82,293.46l3.05,5.4h-6.1zM497.41,293.05l3.05,5.4h-6.1zM499.99,297l3.05,5.4h-6.1zM502.57,293.46l3.05,5.4h-6.1zM505.15,293.22l3.05,5.4h-6.1zM507.73,292.76l3.05,5.4h-6.1zM510.32,299.9l3.05,5.4h-6.1zM512.9,293.27l3.05,5.4h-6.1zM515.48,294.23l3.05,5.4h-6.1zM518.06,298l3.05,5.4h-6.1zM520.64,293.3l3.05,5.4h-6.1zM523.23,293.88l3.05,5.4h-6.1zM525.81,294.21l3.05,5.4h-6.1zM528.39,293.83l3.05,5.4h-6.1zM530.97,294.65l3.05,5.4h-6.1zM533.55,293.94l3.05,5.4h-6.1zM536.14,293.64l3.05,5.4h-6.1zM538.72,293.87l3.05,5.4h-6.1zM541.3,298l3.05,5.4h-6.1zM543.88,292.58l3.05,5.4h-6.1zM546.46,291.55l3.05,5.4h-6.1zM549.05,291.61l3.05,5.4h-6.1zM551.63,292.46l3.05,5.4h-6.1zM554.21,291.1l3.05,5.4h-6.1zM556.79,292.4l3.05,5.4h-6.1zM559.37,292.51l3.05,5.4h-6.1zM561.96,292.64l3.05,5.4h-6.1zM564.54,291.04l3.05,5.4h-6.1zM567.12,292.11l3.05,5.4h-6.1zM569.7,290.93l3.05,5.4h-6.1zM572.28,292.28l3.05,5.4h-6.1zM574.87,290.67l3.05,5.4h-6.1zM577.45,292.1l3.05,5.4h-6.1zM580.03,292.73l3.05,5.4h-6.1zM582.61,291.51l3.05,5.4h-6.1zM585.19,291.31l3.05,5.4h-6.1zM587.78,290.92l3.05,5.4h-6.1zM590.36,290.66l3.05,5.4h-6.1zM592.94,292.19l3.05,5.4h-6.1zM595.52,291.11l3.05,5.4h-6.1zM598.1,291.1l3.05,5.4h-6.1zM600.69,290.66l3.05,5.4h-6.1zM603.27,291.43l3.05,5.4h-6.1zM605.85,292.41l3.05,5.4h-6.1zM608.43,289.89l3.05,5.4h-6.1zM611.01,290.36l3.05,5.4h-6.1zM613.6,290.28l3.05,5.4h-6.1zM616.18,290.9l3.05,5.4h-6.1zM618.76,291.41l3.05,5.4h-6.1zM621.34,291.87l3.05,5.4h-6.1zM623.92,290.39l3.05,5.4h-6.1zM626.51,292.28l3.05,5.4h-6.1zM629.09,291.33l3.05,5.4h-6.1zM631.67,290.02l3.05,5.4h-6.1zM634.25,290.83l3.05,5.4h-6.1zM636.83,293.21l3.05,5.4h-6.1zM639.42,292.57l3.05,5.4h-6.1zM642,290.84l3.05,5.4h-6.1zM644.58,290.56l3.05,5.4h-6.1zM647.16,291.39l3.05,5.4h-6.1zM649.74,289.44l3.05,5.4h-6.1zM652.33,291.56l3.05,5.4h-6.1zM654.91,292.82l3.05,5.4h-6.1zM657.49,291.78l3.05,5.4h-6.1zM660.07,289.55l3.05,5.4h-6.1zM662.65,290.94l3.05,5.4h-6.1zM665.24,291.73l3.05,5.4h-6.1zM667.82,292.07l3.05,5.4h-6.1zM670.4,291.57l3.05,5.4h-6.1z" fill="none" stroke="#ff0000" stroke-width="0.85"/>
<path d="M409.95,261.18h4.5v4.5h-4.5zM412.53,259.75h4.5v4.5h-4.5zM415.11,259.03h4.5v4.5h-4.5zM417.7,257.64h4.5v4.5h-4.5zM420.28,258.51h4.5v4.5h-4.5zM422.86,256.77h4.5v4.5h-4.5zM425.44,256.68h4.5v4.5h-4.5zM428.02,255.46h4.5v4.5h-4.5zM430.61,255.29h4.5v4.5h-4.5zM433.19,255.46h4.5v4.5h-4.5zM435.77,253.75h4.5v4.5h-4.5zM438.35,254.54h4.5v4.5h-4.5zM440.93,254.74h4.5v4.5h-4.5zM443.52,254.83h4.5v4.5h-4.5zM446.1,255.55h4.5v4.5h-4.5zM448.68,254.38h4.5v4.5h-4.5zM451.26,255.04h4.5v4.5h-4.5zM453.84,255.26h4.5v4.5h-4.5zM456.43,253.99h4.5v4.5h-4.5zM459.01,255.17h4.5v4.5h-4.5zM461.59,254.41h4.5v4.5h-4.5zM464.17,255.31h4.5v4.5h-4.5zM466.75,255.31h4.5v4.5h-4.5zM469.34,255.18h4.5v4.5h-4.5zM471.92,254.37h4.5v4.5h-4.5zM474.5,255.04h4.5v4.5h-4.5zM477.08,254.51h4.5v4.5h-4.5zM479.66,254.75h4.5v4.5h-4.5zM482.25,255.1h4.5v4.5h-4.5zM484.83,253.63h4.5v4.5h-4.5zM487.41,254.52h4.5v4.5h-4.5zM489.99,254.51h4.5v4.5h-4.5zM492.57,253.93h4.5v4.5h-4.5zM495.16,253.93h4.5v4.5h-4.5zM497.74,253.87h4.5v4.5h-4.5zM500.32,254.33h4.5v4.5h-4.5zM502.9,253.9h4.5v4.5h-4.5zM505.48,253.55h4.5v4.5h-4.5zM508.07,253.79h4.5v4.5h-4.5zM510.65,253.01h4.5v4.5h-4.5zM513.23,254.02h4.5v4.5h-4.5zM515.81,254.66h4.5v4.5h-4.5zM518.39,253.23h4.5v4.5h-4.5zM520.98,254.59h4.5v4.5h-4.5zM523.56,252.64h4.5v4.5h-4.5zM526.14,253.62h4.5v4.5h-4.5zM528.72,253.61h4.5v4.5h-4.5zM531.3,252.3h4.5v4.5h-4.5zM533.89,253.6h4.5v4.5h-4.5zM536.47,253.55h4.5v4.5h-4.5zM539.05,252.69h4.5v4.5h-4.5zM541.63,253.03h4.5v4.5h-4.5zM544.21,253.31h4.5v4.5h-4.5zM546.8,252.99h4.5v4.5h-4.5zM549.38,253.36h4.5v4.5h-4.5zM551.96,253.03h4.5v4.5h-4.5zM554.54,253.31h4.5v4.5h-4.5zM557.12,252.77h4.5v4.5h-4.5zM559.71,253.28h4.5v4.5h-4.5zM562.29,252.77h4.5v4.5h-4.5zM564.87,252.89h4.5v4.5h-4.5zM567.45,252.26h4.5v4.5h-4.5zM570.03,252.83h4.5v4.5h-4.5zM572.62,252.46h4.5v4.5h-4.5zM575.2,252.39h4.5v4.5h-4.5zM577.78,252.66h4.5v4.5h-4.5zM580.36,252.26h4.5v4.5h-4.5zM582.94,252.6h4.5v4.5h-4.5zM585.53,252.39h4.5v4.5h-4.5zM588.11,252.17h4.5v4.5h-4.5zM590.69,252.53h4.5v4.5h-4.5zM593.27,251.89h4.5v4.5h-4.5zM595.85,252.21h4.5v4.5h-4.5zM598.44,252.39h4.5v4.5h-4.5zM601.02,252.07h4.5v4.5h-4.5zM603.6,251.87h4.5v4.5h-4.5zM606.18,252.54h4.5v4.5h-4.5zM608.76,252.28h4.5v4.5h-4.5zM611.35,251.89h4.5v4.5h-4.5zM613.93,252.39h4.5v4.5h-4.5zM616.51,251.88h4.5v4.5h-4.5zM619.09,252.2h4.5v4.5h-4.5zM621.67,252.38h4.5v4.5h-4.5zM624.26,251.8h4.5v4.5h-4.5zM626.84,252.21h4.5v4.5h-4.5zM629.42,252.05h4.5v4.5h-4.5zM632,252.17h4.5v4.5h-4.5zM634.58,252.18h4.5v4.5h-4.5zM637.17,252.21h4.5v4.5h-4.5zM639.75,251.77h4.5v4.5h-4.5zM642.33,251.55h4.5v4.5h-4.5zM644.91,251.79h4.5v4.5h-4.5zM647.49,251.59h4.5v4.5h-4.5zM650.08,252h4.5v4.5h-4.5zM652.66,252.18h4.5v4.5h-4.5zM655.24,251.49h4.5v4.5h-4.5zM657.82,251.95h4.5v4.5h-4.5zM660.4,251.68h4.5v4.5h-4.5zM662.99,252.2h4.5v4.5h-4.5zM665.57,251.81h4.5v4.5h-4.5zM668.15,251.81h4.5v4.5h-4.5z" fill="none" stroke="#00ee00" stroke-width="0.85"/>
<path d="M409.7,298.5l5,5m0,-5l-5,5M412.28,294.5l5,5m0,-5l-5,5M414.86,292.36l5,5m0,-5l-5,5M417.45,291.92l5,5m0,-5l-5,5M420.03,290.32l5,5m0,-5l-5,5M422.61,292.29l5,5m0,-5l-5,5M425.19,292.39l5,5m0,-5l-5,5M427.77,292.3l5,5m0,-5l-5,5M430.36,292.03l5,5m0,-5l-5,5M432.94,291.83l5,5m0,-5l-5,5M435.52,292.92l5,5m0,-5l-5,5M438.1,292.76l5,5m0,-5l-5,5M440.68,292.8l5,5m0,-5l-5,5M443.27,291.39l5,5m0,-5l-5,5M445.85,292.64l5,5m0,-5l-5,5M448.43,291.93l5,5m0,-5l-5,5M451.01,291.53l5,5m0,-5l-5,5M453.59,291.66l5,5m0,-5l-5,5M456.18,291.43l5,5m0,-5l-5,5M458.76,291.6l5,5m0,-5l-5,5M461.34,292.72l5,5m0,-5l-5,5M463.92,291.56l5,5m0,-5l-5,5M466.5,292.13l5,5m0,-5l-5,5M469.09,291.41l5,5m0,-5l-5,5M471.67,291.81l5,5m0,-5l-5,5M474.25,292.63l5,5m0,-5l-5,5M476.83,291.88l5,5m0,-5l-5,5M479.41,291.46l5,5m0,-5l-5,5M482,292.25l5,5m0,-5l-5,5M484.58,291.61l5,5m0,-5l-5,5M487.16,291.98l5,5m0,-5l-5,5M489.74,291.64l5,5m0,-5l-5,5M492.32,291.42l5,5m0,-5l-5,5M494.91,293.33l5,5m0,-5l-5,5M497.49,291.95l5,5m0,-5l-5,5M500.07,292.78l5,5m0,-5l-5,5M502.65,291.93l5,5m0,-5l-5,5M505.23,292.35l5,5m0,-5l-5,5M507.82,290.89l5,5m0,-5l-5,5M510.4,292.45l5,5m0,-5l-5,5M512.98,291.32l5,5m0,-5l-5,5M515.56,291.17l5,5m0,-5l-5,5M518.14,292.61l5,5m0,-5l-5,5M520.73,291.27l5,5m0,-5l-5,5M523.31,291.13l5,5m0,-5l-5,5M525.89,293.14l5,5m0,-5l-5,5M528.47,291.61l5,5m0,-5l-5,5M531.05,290.67l5,5m0,-5l-5,5M533.64,291.47l5,5m0,-5l-5,5M536.22,291.22l5,5m0,-5l-5,5M538.8,290.73l5,5m0,-5l-5,5M541.38,291.55l5,5m0,-5l-5,5M543.96,289.31l5,5m0,-5l-5,5M546.55,290.59l5,5m0,-5l-5,5M549.13,290.19l5,5m0,-5l-5,5M551.71,290.44l5,5m0,-5l-5,5M554.29,289.42l5,5m0,-5l-5,5M556.87,290.51l5,5m0,-5l-5,5M559.46,289.49l5,5m0,-5l-5,5M562.04,290.46l5,5m0,-5l-5,5M564.62,288.95l5,5m0,-5l-5,5M567.2,290.4l5,5m0,-5l-5,5M569.78,290.11l5,5m0,-5l-5,5M572.37,289.83l5,5m0,-5l-5,5M574.95,289.31l5,5m0,-5l-5,5M577.53,290.43l5,5m0,-5l-5,5M580.11,289.38l5,5m0,-5l-5,5M582.69,289.99l5,5m0,-5l-5,5M585.28,289.32l5,5m0,-5l-5,5M587.86,289.45l5,5m0,-5l-5,5M590.44,290.61l5,5m0,-5l-5,5M593.02,290.54l5,5m0,-5l-5,5M595.6,288.96l5,5m0,-5l-5,5M598.19,290.34l5,5m0,-5l-5,5M600.77,288.86l5,5m0,-5l-5,5M603.35,289.97l5,5m0,-5l-5,5M605.93,289.85l5,5m0,-5l-5,5M608.51,291.46l5,5m0,-5l-5,5M611.1,290.51l5,5m0,-5l-5,5M613.68,290.39l5,5m0,-5l-5,5M616.26,289.73l5,5m0,-5l-5,5M618.84,291.29l5,5m0,-5l-5,5M621.42,291l5,5m0,-5l-5,5M624.01,290.03l5,5m0,-5l-5,5M626.59,290.82l5,5m0,-5l-5,5M629.17,290.82l5,5m0,-5l-5,5M631.75,289.97l5,5m0,-5l-5,5M634.33,289.25l5,5m0,-5l-5,5M636.92,290.36l5,5m0,-5l-5,5M639.5,290.54l5,5m0,-5l-5,5M642.08,288.5l5,5m0,-5l-5,5M644.66,289.44l5,5m0,-5l-5,5M647.24,289.81l5,5m0,-5l-5,5M649.83,289.81l5,5m0,-5l-5,5M652.41,289.94l5,5m0,-5l-5,5M654.99,289.48l5,5m0,-5l-5,5M657.57,289.92l5,5m0,-5l-5,5M660.15,288.73l5,5m0,-5l-5,5M662.74,288.94l5,5m0,-5l-5,5M665.32,290.87l5,5m0,-5l-5,5M667.9,289.86l5,5m0,-5l-5,5" fill="none" stroke="#1a1a1a" stroke-width="0.8"/>
<path d="M409.2,365.52a3,3 0 1 0 6 0a3,3 0 1 0 -6 0M411.78,364.37a3,3 0 1 0 6 0a3,3 0 1 0 -6 0M414.36,363.68a3,3 0 1 0 6 0a3,3 0 1 0 -6 0M416.95,362.76a3,3 0 1 0 6 0a3,3 0 1 0 -6 0M419.53,362.48a3,3 0 1 0 6 0a3,3 0 1 0 -6 0M422.11,361.83a3,3 0 1 0 6 0a3,3 0 1 0 -6 0M424.69,361.68a3,3 0 1 0 6 0a3,3 0 1 0 -6 0M427.27,361.41a3,3 0 1 0 6 0a3,3 0 1 0 -6 0M429.86,361.24a3,3 0 1 0 6 0a3,3 0 1 0 -6 0M432.44,361.03a3,3 0 1 0 6 0a3,3 0 1 0 -6 0M435.02,361.27a3,3 0 1 0 6 0a3,3 0 1 0 -6 0M437.6,361.23a3,3 0 1 0 6 0a3,3 0 1 0 -6 0M440.18,361.01a3,3 0 1 0 6 0a3,3 0 1 0 -6 0M442.77,361.12a3,3 0 1 0 6 0a3,3 0 1 0 -6 0M445.35,361.08a3,3 0 1 0 6 0a3,3 0 1 0 -6 0M447.93,361.04a3,3 0 1 0 6 0a3,3 0 1 0 -6 0M450.51,361.35a3,3 0 1 0 6 0a3,3 0 1 0 -6 0M453.09,361.58a3,3 0 1 0 6 0a3,3 0 1 0 -6 0M455.68,362.1a3,3 0 1 0 6 0a3,3 0 1 0 -6 0M458.26,362.34a3,3 0 1 0 6 0a3,3 0 1 0 -6 0M460.84,363.07a3,3 0 1 0 6 0a3,3 0 1 0 -6 0M463.42,363.73a3,3 0 1 0 6 0a3,3 0 1 0 -6 0M466,364.57a3,3 0 1 0 6 0a3,3 0 1 0 -6 0M468.59,365.77a3,3 0 1 0 6 0a3,3 0 1 0 -6 0M471.17,368.67a3,3 0 1 0 6 0a3,3 0 1 0 -6 0M473.75,376.9a3,3 0 1 0 6 0a3,3 0 1 0 -6 0M476.33,368.55a3,3 0 1 0 6 0a3,3 0 1 0 -6 0M478.91,366.15a3,3 0 1 0 6 0a3,3 0 1 0 -6 0M481.5,364.41a3,3 0 1 0 6 0a3,3 0 1 0 -6 0M484.08,363.8a3,3 0 1 0 6 0a3,3 0 1 0 -6 0M486.66,363.02a3,3 0 1 0 6 0a3,3 0 1 0 -6 0M489.24,362.35a3,3 0 1 0 6 0a3,3 0 1 0 -6 0M491.82,362.16a3,3 0 1 0 6 0a3,3 0 1 0 -6 0M494.41,361.72a3,3 0 1 0 6 0a3,3 0 1 0 -6 0M496.99,361.48a3,3 0 1 0 6 0a3,3 0 1 0 -6 0M499.57,361.04a3,3 0 1 0 6 0a3,3 0 1 0 -6 0M502.15,361.25a3,3 0 1 0 6 0a3,3 0 1 0 -6 0M504.73,361.39a3,3 0 1 0 6 0a3,3 0 1 0 -6 0M507.32,361.05a3,3 0 1 0 6 0a3,3 0 1 0 -6 0M509.9,361.33a3,3 0 1 0 6 0a3,3 0 1 0 -6 0M512.48,361.53a3,3 0 1 0 6 0a3,3 0 1 0 -6 0M515.06,361.78a3,3 0 1 0 6 0a3,3 0 1 0 -6 0M517.64,361.86a3,3 0 1 0 6 0a3,3 0 1 0 -6 0M520.23,362.31a3,3 0 1 0 6 0a3,3 0 1 0 -6 0M522.81,362.67a3,3 0 1 0 6 0a3,3 0 1 0 -6 0M525.39,363.17a3,3 0 1 0 6 0a3,3 0 1 0 -6 0M527.97,363.52a3,3 0 1 0 6 0a3,3 0 1 0 -6 0M530.55,365.05a3,3 0 1 0 6 0a3,3 0 1 0 -6 0M533.14,366.38a3,3 0 1 0 6 0a3,3 0 1 0 -6 0M535.72,368.65a3,3 0 1 0 6 0a3,3 0 1 0 -6 0M538.3,374.2a3,3 0 1 0 6 0a3,3 0 1 0 -6 0M540.88,368.77a3,3 0 1 0 6 0a3,3 0 1 0 -6 0M543.46,366.39a3,3 0 1 0 6 0a3,3 0 1 0 -6 0M546.05,364.91a3,3 0 1 0 6 0a3,3 0 1 0 -6 0M548.63,363.92a3,3 0 1 0 6 0a3,3 0 1 0 -6 0M551.21,363.24a3,3 0 1 0 6 0a3,3 0 1 0 -6 0M553.79,362.75a3,3 0 1 0 6 0a3,3 0 1 0 -6 0M556.37,362.44a3,3 0 1 0 6 0a3,3 0 1 0 -6 0M558.96,361.95a3,3 0 1 0 6 0a3,3 0 1 0 -6 0M561.54,361.59a3,3 0 1 0 6 0a3,3 0 1 0 -6 0M564.12,361.37a3,3 0 1 0 6 0a3,3 0 1 0 -6 0M566.7,361.63a3,3 0 1 0 6 0a3,3 0 1 0 -6 0M569.28,361.39a3,3 0 1 0 6 0a3,3 0 1 0 -6 0M571.87,361.3a3,3 0 1 0 6 0a3,3 0 1 0 -6 0M574.45,361.42a3,3 0 1 0 6 0a3,3 0 1 0 -6 0M577.03,361.96a3,3 0 1 0 6 0a3,3 0 1 0 -6 0M579.61,361.72a3,3 0 1 0 6 0a3,3 0 1 0 -6 0M582.19,361.99a3,3 0 1 0 6 0a3,3 0 1 0 -6 0M584.78,362.38a3,3 0 1 0 6 0a3,3 0 1 0 -6 0M587.36,362.91a3,3 0 1 0 6 0a3,3 0 1 0 -6 0M589.94,363.35a3,3 0 1 0 6 0a3,3 0 1 0 -6 0M592.52,364.26a3,3 0 1 0 6 0a3,3 0 1 0 -6 0M595.1,365.55a3,3 0 1 0 6 0a3,3 0 1 0 -6 0M597.69,366.56a3,3 0 1 0 6 0a3,3 0 1 0 -6 0M600.27,368.86a3,3 0 1 0 6 0a3,3 0 1 0 -6 0M602.85,372.6a3,3 0 1 0 6 0a3,3 0 1 0 -6 0M605.43,369.01a3,3 0 1 0 6 0a3,3 0 1 0 -6 0M608.01,366.69a3,3 0 1 0 6 0a3,3 0 1 0 -6 0M610.6,365.52a3,3 0 1 0 6 0a3,3 0 1 0 -6 0M613.18,364.18a3,3 0 1 0 6 0a3,3 0 1 0 -6 0M615.76,363.44a3,3 0 1 0 6 0a3,3 0 1 0 -6 0M618.34,362.81a3,3 0 1 0 6 0a3,3 0 1 0 -6 0M620.92,362.58a3,3 0 1 0 6 0a3,3 0 1 0 -6 0M623.51,362.27a3,3 0 1 0 6 0a3,3 0 1 0 -6 0M626.09,361.96a3,3 0 1 0 6 0a3,3 0 1 0 -6 0M628.67,361.75a3,3 0 1 0 6 0a3,3 0 1 0 -6 0M631.25,361.79a3,3 0 1 0 6 0a3,3 0 1 0 -6 0M633.83,361.69a3,3 0 1 0 6 0a3,3 0 1 0 -6 0M636.42,361.5a3,3 0 1 0 6 0a3,3 0 1 0 -6 0M639,361.79a3,3 0 1 0 6 0a3,3 0 1 0 -6 0M641.58,361.67a3,3 0 1 0 6 0a3,3 0 1 0 -6 0M644.16,362.29a3,3 0 1 0 6 0a3,3 0 1 0 -6 0M646.74,362.21a3,3 0 1 0 6 0a3,3 0 1 0 -6 0M649.33,362.56a3,3 0 1 0 6 0a3,3 0 1 0 -6 0M651.91,363.07a3,3 0 1 0 6 0a3,3 0 1 0 -6 0M654.49,363.73a3,3 0 1 0 6 0a3,3 0 1 0 -6 0M657.07,364.45a3,3 0 1 0 6 0a3,3 0 1 0 -6 0M659.65,365.45a3,3 0 1 0 6 0a3,3 0 1 0 -6 0M662.24,366.93a3,3 0 1 0 6 0a3,3 0 1 0 -6 0M664.82,369.15a3,3 0 1 0 6 0a3,3 0 1 0 -6 0M667.4,371.6a3,3 0 1 0 6 0a3,3 0 1 0 -6 0" fill="none" stroke="#1414e6" stroke-width="0.85"/>
<path d="M412.2,394l3.05,5.4h-6.1zM414.78,396.12l3.05,5.4h-6.1zM417.36,396l3.05,5.4h-6.1zM419.95,396.48l3.05,5.4h-6.1zM422.53,397.53l3.05,5.4h-6.1zM425.11,397.82l3.05,5.4h-6.1zM427.69,396.75l3.05,5.4h-6.1zM430.27,396.83l3.05,5.4h-6.1zM432.86,397.26l3.05,5.4h-6.1zM435.44,395.28l3.05,5.4h-6.1zM438.02,396.81l3.05,5.4h-6.1zM440.6,399.9l3.05,5.4h-6.1zM443.18,396.23l3.05,5.4h-6.1zM445.77,396.48l3.05,5.4h-6.1zM448.35,403.9l3.05,5.4h-6.1zM450.93,397.52l3.05,5.4h-6.1zM453.51,395.23l3.05,5.4h-6.1zM456.09,396.9l3.05,5.4h-6.1zM458.68,397.23l3.05,5.4h-6.1zM461.26,396.55l3.05,5.4h-6.1zM463.84,397.07l3.05,5.4h-6.1zM466.42,396.98l3.05,5.4h-6.1zM469,396.09l3.05,5.4h-6.1zM471.59,396.42l3.05,5.4h-6.1zM474.17,397.03l3.05,5.4h-6.1zM476.75,395.99l3.05,5.4h-6.1zM479.33,396.48l3.05,5.4h-6.1zM481.91,396.89l3.05,5.4h-6.1zM484.5,397.45l3.05,5.4h-6.1zM487.08,398.31l3.05,5.4h-6.1zM489.66,397.55l3.05,5.4h-6.1zM492.24,397.3l3.05,5.4h-6.1zM494.82,399l3.05,5.4h-6.1zM497.41,398.3l3.05,5.4h-6.1zM499.99,397.04l3.05,5.4h-6.1zM502.57,396.21l3.05,5.4h-6.1zM505.15,396.78l3.05,5.4h-6.1zM507.73,403.9l3.05,5.4h-6.1zM510.32,395.74l3.05,5.4h-6.1zM512.9,395.59l3.05,5.4h-6.1zM515.48,396.45l3.05,5.4h-6.1zM518.06,401.9l3.05,5.4h-6.1zM520.64,396.3l3.05,5.4h-6.1zM523.23,397.84l3.05,5.4h-6.1zM525.81,396.25l3.05,5.4h-6.1zM528.39,396.45l3.05,5.4h-6.1zM530.97,398.02l3.05,5.4h-6.1zM533.55,395.74l3.05,5.4h-6.1zM536.14,396.46l3.05,5.4h-6.1zM538.72,398.36l3.05,5.4h-6.1zM541.3,401.4l3.05,5.4h-6.1zM543.88,393.66l3.05,5.4h-6.1zM546.46,393.3l3.05,5.4h-6.1zM549.05,393.29l3.05,5.4h-6.1zM551.63,393.94l3.05,5.4h-6.1zM554.21,394l3.05,5.4h-6.1zM556.79,394.07l3.05,5.4h-6.1zM559.37,393.7l3.05,5.4h-6.1zM561.96,393.13l3.05,5.4h-6.1zM564.54,393.38l3.05,5.4h-6.1zM567.12,394.24l3.05,5.4h-6.1zM569.7,393.62l3.05,5.4h-6.1zM572.28,394.42l3.05,5.4h-6.1zM574.87,393.98l3.05,5.4h-6.1zM577.45,395.39l3.05,5.4h-6.1zM580.03,393.32l3.05,5.4h-6.1zM582.61,394.96l3.05,5.4h-6.1zM585.19,393.81l3.05,5.4h-6.1zM587.78,393.87l3.05,5.4h-6.1zM590.36,392.78l3.05,5.4h-6.1zM592.94,394.2l3.05,5.4h-6.1zM595.52,393.11l3.05,5.4h-6.1zM598.1,393.89l3.05,5.4h-6.1zM600.69,392.18l3.05,5.4h-6.1zM603.27,394.84l3.05,5.4h-6.1zM605.85,395.21l3.05,5.4h-6.1zM608.43,393.78l3.05,5.4h-6.1zM611.01,394.19l3.05,5.4h-6.1zM613.6,392.04l3.05,5.4h-6.1zM616.18,393.84l3.05,5.4h-6.1zM618.76,391.91l3.05,5.4h-6.1zM621.34,393.91l3.05,5.4h-6.1zM623.92,393.14l3.05,5.4h-6.1zM626.51,393.69l3.05,5.4h-6.1zM629.09,393.6l3.05,5.4h-6.1zM631.67,393.2l3.05,5.4h-6.1zM634.25,392.65l3.05,5.4h-6.1zM636.83,393.2l3.05,5.4h-6.1zM639.42,392.19l3.05,5.4h-6.1zM642,392.42l3.05,5.4h-6.1zM644.58,394.52l3.05,5.4h-6.1zM647.16,392.67l3.05,5.4h-6.1zM649.74,393.52l3.05,5.4h-6.1zM652.33,394.21l3.05,5.4h-6.1zM654.91,393.79l3.05,5.4h-6.1zM657.49,394.49l3.05,5.4h-6.1zM660.07,394.09l3.05,5.4h-6.1zM662.65,394.04l3.05,5.4h-6.1zM665.24,394.27l3.05,5.4h-6.1zM667.82,395.42l3.05,5.4h-6.1zM670.4,391.79l3.05,5.4h-6.1z" fill="none" stroke="#ff0000" stroke-width="0.85"/>
<path d="M409.95,363.47h4.5v4.5h-4.5zM412.53,363.01h4.5v4.5h-4.5zM415.11,361.87h4.5v4.5h-4.5zM417.7,361.13h4.5v4.5h-4.5zM420.28,360.78h4.5v4.5h-4.5zM422.86,360.86h4.5v4.5h-4.5zM425.44,360.02h4.5v4.5h-4.5zM428.02,359.58h4.5v4.5h-4.5zM430.61,359.35h4.5v4.5h-4.5zM433.19,360.67h4.5v4.5h-4.5zM435.77,359.29h4.5v4.5h-4.5zM438.35,358.92h4.5v4.5h-4.5zM440.93,358.92h4.5v4.5h-4.5zM443.52,359.84h4.5v4.5h-4.5zM446.1,359.61h4.5v4.5h-4.5zM448.68,359.39h4.5v4.5h-4.5zM451.26,358.58h4.5v4.5h-4.5zM453.84,358.83h4.5v4.5h-4.5zM456.43,359.32h4.5v4.5h-4.5zM459.01,358.54h4.5v4.5h-4.5zM461.59,359.47h4.5v4.5h-4.5zM464.17,358.68h4.5v4.5h-4.5zM466.75,359.05h4.5v4.5h-4.5zM469.34,359.35h4.5v4.5h-4.5zM471.92,358.99h4.5v4.5h-4.5zM474.5,357.71h4.5v4.5h-4.5zM477.08,358.58h4.5v4.5h-4.5zM479.66,358.28h4.5v4.5h-4.5zM482.25,357.43h4.5v4.5h-4.5zM484.83,357.9h4.5v4.5h-4.5zM487.41,357.56h4.5v4.5h-4.5zM489.99,357.79h4.5v4.5h-4.5zM492.57,357.74h4.5v4.5h-4.5zM495.16,357.61h4.5v4.5h-4.5zM497.74,358.08h4.5v4.5h-4.5zM500.32,357.13h4.5v4.5h-4.5zM502.9,358.35h4.5v4.5h-4.5zM505.48,356.99h4.5v4.5h-4.5zM508.07,356.78h4.5v4.5h-4.5zM510.65,357.08h4.5v4.5h-4.5zM513.23,357.01h4.5v4.5h-4.5zM515.81,357.86h4.5v4.5h-4.5zM518.39,357.39h4.5v4.5h-4.5zM520.98,357.17h4.5v4.5h-4.5zM523.56,356.39h4.5v4.5h-4.5zM526.14,356.5h4.5v4.5h-4.5zM528.72,355.77h4.5v4.5h-4.5zM531.3,357.35h4.5v4.5h-4.5zM533.89,356.57h4.5v4.5h-4.5zM536.47,356.25h4.5v4.5h-4.5zM539.05,356.03h4.5v4.5h-4.5zM541.63,356.45h4.5v4.5h-4.5zM544.21,356.07h4.5v4.5h-4.5zM546.8,355.77h4.5v4.5h-4.5zM549.38,356.39h4.5v4.5h-4.5zM551.96,356.01h4.5v4.5h-4.5zM554.54,356.04h4.5v4.5h-4.5zM557.12,356.06h4.5v4.5h-4.5zM559.71,356.59h4.5v4.5h-4.5zM562.29,356.66h4.5v4.5h-4.5zM564.87,356.06h4.5v4.5h-4.5zM567.45,356.11h4.5v4.5h-4.5zM570.03,356.44h4.5v4.5h-4.5zM572.62,356.03h4.5v4.5h-4.5zM575.2,355.87h4.5v4.5h-4.5zM577.78,356h4.5v4.5h-4.5zM580.36,356.01h4.5v4.5h-4.5zM582.94,355.91h4.5v4.5h-4.5zM585.53,355.75h4.5v4.5h-4.5zM588.11,356.19h4.5v4.5h-4.5zM590.69,355.98h4.5v4.5h-4.5zM593.27,356.37h4.5v4.5h-4.5zM595.85,356.03h4.5v4.5h-4.5zM598.44,355.61h4.5v4.5h-4.5zM601.02,356.62h4.5v4.5h-4.5zM603.6,355.95h4.5v4.5h-4.5zM606.18,356.03h4.5v4.5h-4.5zM608.76,355.87h4.5v4.5h-4.5zM611.35,356.15h4.5v4.5h-4.5zM613.93,355.92h4.5v4.5h-4.5zM616.51,355.55h4.5v4.5h-4.5zM619.09,356.05h4.5v4.5h-4.5zM621.67,356.46h4.5v4.5h-4.5zM624.26,356.06h4.5v4.5h-4.5zM626.84,356.07h4.5v4.5h-4.5zM629.42,355.93h4.5v4.5h-4.5zM632,355.86h4.5v4.5h-4.5zM634.58,356.29h4.5v4.5h-4.5zM637.17,356.2h4.5v4.5h-4.5zM639.75,356.25h4.5v4.5h-4.5zM642.33,356h4.5v4.5h-4.5zM644.91,356.31h4.5v4.5h-4.5zM647.49,355.65h4.5v4.5h-4.5zM650.08,356.05h4.5v4.5h-4.5zM652.66,355.94h4.5v4.5h-4.5zM655.24,355.73h4.5v4.5h-4.5zM657.82,355.62h4.5v4.5h-4.5zM660.4,355.63h4.5v4.5h-4.5zM662.99,355.84h4.5v4.5h-4.5zM665.57,356.2h4.5v4.5h-4.5zM668.15,356.22h4.5v4.5h-4.5z" fill="none" stroke="#00ee00" stroke-width="0.85"/>
<path d="M409.7,400.7l5,5m0,-5l-5,5M412.28,397.5l5,5m0,-5l-5,5M414.86,394.94l5,5m0,-5l-5,5M417.45,393.47l5,5m0,-5l-5,5M420.03,395.32l5,5m0,-5l-5,5M422.61,394.02l5,5m0,-5l-5,5M425.19,394.47l5,5m0,-5l-5,5M427.77,394.11l5,5m0,-5l-5,5M430.36,394.68l5,5m0,-5l-5,5M432.94,394.7l5,5m0,-5l-5,5M435.52,395.55l5,5m0,-5l-5,5M438.1,395.49l5,5m0,-5l-5,5M440.68,394.45l5,5m0,-5l-5,5M443.27,395.36l5,5m0,-5l-5,5M445.85,394.45l5,5m0,-5l-5,5M448.43,393.68l5,5m0,-5l-5,5M451.01,395.44l5,5m0,-5l-5,5M453.59,396.04l5,5m0,-5l-5,5M456.18,395.06l5,5m0,-5l-5,5M458.76,394.62l5,5m0,-5l-5,5M461.34,394.87l5,5m0,-5l-5,5M463.92,393.85l5,5m0,-5l-5,5M466.5,394.02l5,5m0,-5l-5,5M469.09,394.35l5,5m0,-5l-5,5M471.67,394.28l5,5m0,-5l-5,5M474.25,394.27l5,5m0,-5l-5,5M476.83,396.15l5,5m0,-5l-5,5M479.41,396.27l5,5m0,-5l-5,5M482,395.12l5,5m0,-5l-5,5M484.58,395.4l5,5m0,-5l-5,5M487.16,393.86l5,5m0,-5l-5,5M489.74,395.27l5,5m0,-5l-5,5M492.32,393.27l5,5m0,-5l-5,5M494.91,395.81l5,5m0,-5l-5,5M497.49,394.23l5,5m0,-5l-5,5M500.07,393.82l5,5m0,-5l-5,5M502.65,394.56l5,5m0,-5l-5,5M505.23,395.1l5,5m0,-5l-5,5M507.82,395.94l5,5m0,-5l-5,5M510.4,394.35l5,5m0,-5l-5,5M512.98,394.99l5,5m0,-5l-5,5M515.56,395.21l5,5m0,-5l-5,5M518.14,394.56l5,5m0,-5l-5,5M520.73,394.93l5,5m0,-5l-5,5M523.31,394.94l5,5m0,-5l-5,5M525.89,395.02l5,5m0,-5l-5,5M528.47,394.91l5,5m0,-5l-5,5M531.05,394.13l5,5m0,-5l-5,5M533.64,394.26l5,5m0,-5l-5,5M536.22,395.03l5,5m0,-5l-5,5M538.8,393.68l5,5m0,-5l-5,5M541.38,392.93l5,5m0,-5l-5,5M543.96,393.81l5,5m0,-5l-5,5M546.55,392.54l5,5m0,-5l-5,5M549.13,393.66l5,5m0,-5l-5,5M551.71,394.62l5,5m0,-5l-5,5M554.29,392.96l5,5m0,-5l-5,5M556.87,393.44l5,5m0,-5l-5,5M559.46,393.83l5,5m0,-5l-5,5M562.04,393.21l5,5m0,-5l-5,5M564.62,393.02l5,5m0,-5l-5,5M567.2,393.1l5,5m0,-5l-5,5M569.78,393.59l5,5m0,-5l-5,5M572.37,393.59l5,5m0,-5l-5,5M574.95,394.11l5,5m0,-5l-5,5M577.53,393.98l5,5m0,-5l-5,5M580.11,394.36l5,5m0,-5l-5,5M582.69,394.11l5,5m0,-5l-5,5M585.28,393.38l5,5m0,-5l-5,5M587.86,394.49l5,5m0,-5l-5,5M590.44,393.28l5,5m0,-5l-5,5M593.02,393.34l5,5m0,-5l-5,5M595.6,394.14l5,5m0,-5l-5,5M598.19,393.19l5,5m0,-5l-5,5M600.77,393.56l5,5m0,-5l-5,5M603.35,394.05l5,5m0,-5l-5,5M605.93,394l5,5m0,-5l-5,5M608.51,392.83l5,5m0,-5l-5,5M611.1,392.3l5,5m0,-5l-5,5M613.68,393.92l5,5m0,-5l-5,5M616.26,394.03l5,5m0,-5l-5,5M618.84,393.12l5,5m0,-5l-5,5M621.42,392.95l5,5m0,-5l-5,5M624.01,392.86l5,5m0,-5l-5,5M626.59,392.59l5,5m0,-5l-5,5M629.17,392.91l5,5m0,-5l-5,5M631.75,393.73l5,5m0,-5l-5,5M634.33,393.55l5,5m0,-5l-5,5M636.92,393.33l5,5m0,-5l-5,5M639.5,393.9l5,5m0,-5l-5,5M642.08,392.37l5,5m0,-5l-5,5M644.66,393.72l5,5m0,-5l-5,5M647.24,393.74l5,5m0,-5l-5,5M649.83,392.32l5,5m0,-5l-5,5M652.41,392.92l5,5m0,-5l-5,5M654.99,392.52l5,5m0,-5l-5,5M657.57,393.48l5,5m0,-5l-5,5M660.15,392.22l5,5m0,-5l-5,5M662.74,393.05l5,5m0,-5l-5,5M665.32,393.66l5,5m0,-5l-5,5M667.9,392.66l5,5m0,-5l-5,5" fill="none" stroke="#1a1a1a" stroke-width="0.8"/>
<line x1="89" y1="66.75" x2="90.6" y2="66.75" stroke="#262626" stroke-width="1.0"/>
<line x1="347.3" y1="66.75" x2="345.7" y2="66.75" stroke="#262626" stroke-width="1.0"/>
<line x1="89" y1="83.6" x2="90.6" y2="83.6" stroke="#262626" stroke-width="1.0"/>
<line x1="347.3" y1="83.6" x2="345.7" y2="83.6" stroke="#262626" stroke-width="1.0"/>
<line x1="89" y1="100.45" x2="90.6" y2="100.45" stroke="#262626" stroke-width="1.0"/>
<line x1="347.3" y1="100.45" x2="345.7" y2="100.45" stroke="#262626" stroke-width="1.0"/>
<line x1="89" y1="165.45" x2="90.6" y2="165.45" stroke="#262626" stroke-width="1.0"/>
<line x1="347.3" y1="165.45" x2="345.7" y2="165.45" stroke="#262626" stroke-width="1.0"/>
<line x1="89" y1="182.3" x2="90.6" y2="182.3" stroke="#262626" stroke-width="1.0"/>
<line x1="347.3" y1="182.3" x2="345.7" y2="182.3" stroke="#262626" stroke-width="1.0"/>
<line x1="89" y1="199.15" x2="90.6" y2="199.15" stroke="#262626" stroke-width="1.0"/>
<line x1="347.3" y1="199.15" x2="345.7" y2="199.15" stroke="#262626" stroke-width="1.0"/>
<line x1="89" y1="264.15" x2="90.6" y2="264.15" stroke="#262626" stroke-width="1.0"/>
<line x1="347.3" y1="264.15" x2="345.7" y2="264.15" stroke="#262626" stroke-width="1.0"/>
<line x1="89" y1="281" x2="90.6" y2="281" stroke="#262626" stroke-width="1.0"/>
<line x1="347.3" y1="281" x2="345.7" y2="281" stroke="#262626" stroke-width="1.0"/>
<line x1="89" y1="297.85" x2="90.6" y2="297.85" stroke="#262626" stroke-width="1.0"/>
<line x1="347.3" y1="297.85" x2="345.7" y2="297.85" stroke="#262626" stroke-width="1.0"/>
<line x1="89" y1="363.05" x2="90.6" y2="363.05" stroke="#262626" stroke-width="1.0"/>
<line x1="347.3" y1="363.05" x2="345.7" y2="363.05" stroke="#262626" stroke-width="1.0"/>
<line x1="89" y1="379.9" x2="90.6" y2="379.9" stroke="#262626" stroke-width="1.0"/>
<line x1="347.3" y1="379.9" x2="345.7" y2="379.9" stroke="#262626" stroke-width="1.0"/>
<line x1="89" y1="396.75" x2="90.6" y2="396.75" stroke="#262626" stroke-width="1.0"/>
<line x1="347.3" y1="396.75" x2="345.7" y2="396.75" stroke="#262626" stroke-width="1.0"/>
<line x1="140.66" y1="413.6" x2="140.66" y2="412" stroke="#262626" stroke-width="1.0"/>
<line x1="140.66" y1="346.2" x2="140.66" y2="347.5" stroke="#555" stroke-width="1.0"/>
<line x1="192.32" y1="413.6" x2="192.32" y2="412" stroke="#262626" stroke-width="1.0"/>
<line x1="192.32" y1="346.2" x2="192.32" y2="347.5" stroke="#555" stroke-width="1.0"/>
<line x1="243.98" y1="413.6" x2="243.98" y2="412" stroke="#262626" stroke-width="1.0"/>
<line x1="243.98" y1="346.2" x2="243.98" y2="347.5" stroke="#555" stroke-width="1.0"/>
<line x1="295.64" y1="413.6" x2="295.64" y2="412" stroke="#262626" stroke-width="1.0"/>
<line x1="295.64" y1="346.2" x2="295.64" y2="347.5" stroke="#555" stroke-width="1.0"/>
<line x1="412.2" y1="72.37" x2="413.8" y2="72.37" stroke="#262626" stroke-width="1.0"/>
<line x1="670.4" y1="72.37" x2="668.8" y2="72.37" stroke="#262626" stroke-width="1.0"/>
<line x1="412.2" y1="94.83" x2="413.8" y2="94.83" stroke="#262626" stroke-width="1.0"/>
<line x1="670.4" y1="94.83" x2="668.8" y2="94.83" stroke="#262626" stroke-width="1.0"/>
<line x1="412.2" y1="165.45" x2="413.8" y2="165.45" stroke="#262626" stroke-width="1.0"/>
<line x1="670.4" y1="165.45" x2="668.8" y2="165.45" stroke="#262626" stroke-width="1.0"/>
<line x1="412.2" y1="182.3" x2="413.8" y2="182.3" stroke="#262626" stroke-width="1.0"/>
<line x1="670.4" y1="182.3" x2="668.8" y2="182.3" stroke="#262626" stroke-width="1.0"/>
<line x1="412.2" y1="199.15" x2="413.8" y2="199.15" stroke="#262626" stroke-width="1.0"/>
<line x1="670.4" y1="199.15" x2="668.8" y2="199.15" stroke="#262626" stroke-width="1.0"/>
<line x1="412.2" y1="264.15" x2="413.8" y2="264.15" stroke="#262626" stroke-width="1.0"/>
<line x1="670.4" y1="264.15" x2="668.8" y2="264.15" stroke="#262626" stroke-width="1.0"/>
<line x1="412.2" y1="281" x2="413.8" y2="281" stroke="#262626" stroke-width="1.0"/>
<line x1="670.4" y1="281" x2="668.8" y2="281" stroke="#262626" stroke-width="1.0"/>
<line x1="412.2" y1="297.85" x2="413.8" y2="297.85" stroke="#262626" stroke-width="1.0"/>
<line x1="670.4" y1="297.85" x2="668.8" y2="297.85" stroke="#262626" stroke-width="1.0"/>
<line x1="412.2" y1="363.05" x2="413.8" y2="363.05" stroke="#262626" stroke-width="1.0"/>
<line x1="670.4" y1="363.05" x2="668.8" y2="363.05" stroke="#262626" stroke-width="1.0"/>
<line x1="412.2" y1="379.9" x2="413.8" y2="379.9" stroke="#262626" stroke-width="1.0"/>
<line x1="670.4" y1="379.9" x2="668.8" y2="379.9" stroke="#262626" stroke-width="1.0"/>
<line x1="412.2" y1="396.75" x2="413.8" y2="396.75" stroke="#262626" stroke-width="1.0"/>
<line x1="670.4" y1="396.75" x2="668.8" y2="396.75" stroke="#262626" stroke-width="1.0"/>
<text class="t" x="82.4" y="59.2" text-anchor="end" font-size="17">10<tspan dx="1" dy="-9.1" font-size="12.5">0</tspan></text>
<text class="t" x="82.4" y="76.05" text-anchor="end" font-size="17">10<tspan dx="1" dy="-9.1" font-size="12.5">−3</tspan></text>
<text class="t" x="82.4" y="92.9" text-anchor="end" font-size="17">10<tspan dx="1" dy="-9.1" font-size="12.5">−6</tspan></text>
<text class="t" x="82.4" y="109.75" text-anchor="end" font-size="17">10<tspan dx="1" dy="-9.1" font-size="12.5">−9</tspan></text>
<text class="t" x="82.4" y="126.6" text-anchor="end" font-size="17">10<tspan dx="1" dy="-9.1" font-size="12.5">−12</tspan></text>
<text class="t" x="82.4" y="157.9" text-anchor="end" font-size="17">10<tspan dx="1" dy="-9.1" font-size="12.5">0</tspan></text>
<text class="t" x="82.4" y="174.75" text-anchor="end" font-size="17">10<tspan dx="1" dy="-9.1" font-size="12.5">−3</tspan></text>
<text class="t" x="82.4" y="191.6" text-anchor="end" font-size="17">10<tspan dx="1" dy="-9.1" font-size="12.5">−6</tspan></text>
<text class="t" x="82.4" y="208.45" text-anchor="end" font-size="17">10<tspan dx="1" dy="-9.1" font-size="12.5">−9</tspan></text>
<text class="t" x="82.4" y="225.3" text-anchor="end" font-size="17">10<tspan dx="1" dy="-9.1" font-size="12.5">−12</tspan></text>
<text class="t" x="82.4" y="256.6" text-anchor="end" font-size="17">10<tspan dx="1" dy="-9.1" font-size="12.5">−2</tspan></text>
<text class="t" x="82.4" y="273.45" text-anchor="end" font-size="17">10<tspan dx="1" dy="-9.1" font-size="12.5">−6</tspan></text>
<text class="t" x="82.4" y="290.3" text-anchor="end" font-size="17">10<tspan dx="1" dy="-9.1" font-size="12.5">−10</tspan></text>
<text class="t" x="82.4" y="307.15" text-anchor="end" font-size="17">10<tspan dx="1" dy="-9.1" font-size="12.5">−14</tspan></text>
<text class="t" x="82.4" y="324" text-anchor="end" font-size="17">10<tspan dx="1" dy="-9.1" font-size="12.5">−18</tspan></text>
<text class="t" x="82.4" y="355.5" text-anchor="end" font-size="17">10<tspan dx="1" dy="-9.1" font-size="12.5">−2</tspan></text>
<text class="t" x="82.4" y="372.35" text-anchor="end" font-size="17">10<tspan dx="1" dy="-9.1" font-size="12.5">−6</tspan></text>
<text class="t" x="82.4" y="389.2" text-anchor="end" font-size="17">10<tspan dx="1" dy="-9.1" font-size="12.5">−10</tspan></text>
<text class="t" x="82.4" y="406.05" text-anchor="end" font-size="17">10<tspan dx="1" dy="-9.1" font-size="12.5">−14</tspan></text>
<text class="t" x="82.4" y="422.9" text-anchor="end" font-size="17">10<tspan dx="1" dy="-9.1" font-size="12.5">−18</tspan></text>
<text class="t" x="405.4" y="59.2" text-anchor="end" font-size="17">10<tspan dx="1" dy="-9.1" font-size="12.5">0</tspan></text>
<text class="t" x="405.4" y="81.67" text-anchor="end" font-size="17">10<tspan dx="1" dy="-9.1" font-size="12.5">−2</tspan></text>
<text class="t" x="405.4" y="104.13" text-anchor="end" font-size="17">10<tspan dx="1" dy="-9.1" font-size="12.5">−4</tspan></text>
<text class="t" x="405.4" y="126.6" text-anchor="end" font-size="17">10<tspan dx="1" dy="-9.1" font-size="12.5">−6</tspan></text>
<text class="t" x="405.4" y="157.9" text-anchor="end" font-size="17">10<tspan dx="1" dy="-9.1" font-size="12.5">−2</tspan></text>
<text class="t" x="405.4" y="174.75" text-anchor="end" font-size="17">10<tspan dx="1" dy="-9.1" font-size="12.5">−4</tspan></text>
<text class="t" x="405.4" y="191.6" text-anchor="end" font-size="17">10<tspan dx="1" dy="-9.1" font-size="12.5">−6</tspan></text>
<text class="t" x="405.4" y="208.45" text-anchor="end" font-size="17">10<tspan dx="1" dy="-9.1" font-size="12.5">−8</tspan></text>
<text class="t" x="405.4" y="225.3" text-anchor="end" font-size="17">10<tspan dx="1" dy="-9.1" font-size="12.5">−10</tspan></text>
<text class="t" x="405.4" y="256.6" text-anchor="end" font-size="17">10<tspan dx="1" dy="-9.1" font-size="12.5">0</tspan></text>
<text class="t" x="405.4" y="273.45" text-anchor="end" font-size="17">10<tspan dx="1" dy="-9.1" font-size="12.5">−4</tspan></text>
<text class="t" x="405.4" y="290.3" text-anchor="end" font-size="17">10<tspan dx="1" dy="-9.1" font-size="12.5">−8</tspan></text>
<text class="t" x="405.4" y="307.15" text-anchor="end" font-size="17">10<tspan dx="1" dy="-9.1" font-size="12.5">−12</tspan></text>
<text class="t" x="405.4" y="324" text-anchor="end" font-size="17">10<tspan dx="1" dy="-9.1" font-size="12.5">−16</tspan></text>
<text class="t" x="405.4" y="355.5" text-anchor="end" font-size="17">10<tspan dx="1" dy="-9.1" font-size="12.5">0</tspan></text>
<text class="t" x="405.4" y="372.35" text-anchor="end" font-size="17">10<tspan dx="1" dy="-9.1" font-size="12.5">−4</tspan></text>
<text class="t" x="405.4" y="389.2" text-anchor="end" font-size="17">10<tspan dx="1" dy="-9.1" font-size="12.5">−8</tspan></text>
<text class="t" x="405.4" y="406.05" text-anchor="end" font-size="17">10<tspan dx="1" dy="-9.1" font-size="12.5">−12</tspan></text>
<text class="t" x="405.4" y="422.9" text-anchor="end" font-size="17">10<tspan dx="1" dy="-9.1" font-size="12.5">−16</tspan></text>
<text class="t" x="88.7" y="436.3" text-anchor="middle" font-size="17.5">0</text>
<text class="t" x="411.4" y="436.3" text-anchor="middle" font-size="17.5">0</text>
<text class="t" x="140.06" y="436.3" text-anchor="middle" font-size="17.5">20</text>
<text class="t" x="458.84" y="436.3" text-anchor="middle" font-size="17.5">2</text>
<text class="t" x="192.42" y="436.3" text-anchor="middle" font-size="17.5">40</text>
<text class="t" x="510.98" y="436.3" text-anchor="middle" font-size="17.5">4</text>
<text class="t" x="243.98" y="436.3" text-anchor="middle" font-size="17.5">60</text>
<text class="t" x="562.82" y="436.3" text-anchor="middle" font-size="17.5">6</text>
<text class="t" x="295.84" y="436.3" text-anchor="middle" font-size="17.5">80</text>
<text class="t" x="614.86" y="436.3" text-anchor="middle" font-size="17.5">8</text>
<text class="t" x="348.5" y="436.3" text-anchor="middle" font-size="17.5" textLength="28" lengthAdjust="spacingAndGlyphs">100</text>
<text class="t" x="666.6" y="436.3" text-anchor="middle" font-size="17.5">10</text>
<text class="m" x="201" y="458" font-size="25" style="fill:#000">ω<tspan font-size="18" dx="0.1" dy="4.6">c</tspan><tspan font-size="27" dx="2" dy="-4.6">t</tspan></text>
<text class="m" x="515.5" y="458" font-size="25" style="fill:#000">ω<tspan font-size="18" dx="0" dy="4.6">c</tspan><tspan font-size="27" dx="2.4" dy="-4.6">t</tspan></text>
<path d="M650.6,448.2L658.6,456.4M658.6,448.2L650.6,456.4" stroke="#555" stroke-width="1" fill="none"/>
<text class="t" x="662.2" y="456.8" font-size="17">10<tspan font-size="12.5" dy="-9.1" dx="1">6</tspan></text>
<text class="t" x="19.2" y="49.6" font-size="22" style="fill:#000;stroke:#000">(a)</text>
<text class="t" x="349.8" y="49.6" font-size="22" style="fill:#000;stroke:#000">(b)</text>
<text class="m" x="0" y="81" font-size="24" style="fill:#000">η<tspan font-size="17" dx="1" dy="4.5" font-style="normal">|</tspan><tspan font-size="17" dx="2.6" font-weight="bold">u</tspan><tspan font-size="17" dx="2.4" font-style="normal">|</tspan></text>
<text class="m" x="0" y="183" font-size="24" style="fill:#000">η<tspan font-size="17" dx="1.8" dy="4.5" font-style="normal">|</tspan><tspan font-size="17" dx="2.6" font-weight="bold">r</tspan><tspan font-size="17" dx="2.4" font-style="normal">|</tspan></text>
<text class="m" x="0" y="285" font-size="24" style="fill:#000">η<tspan font-size="18" dy="5.7">C</tspan></text>
<text class="m" x="0" y="379.5" font-size="24" style="fill:#000">η<tspan font-size="18" dy="4.5">γ</tspan><tspan font-size="15" dx="3.0" dy="5.0">B</tspan></text>
</svg>
</body></html>
